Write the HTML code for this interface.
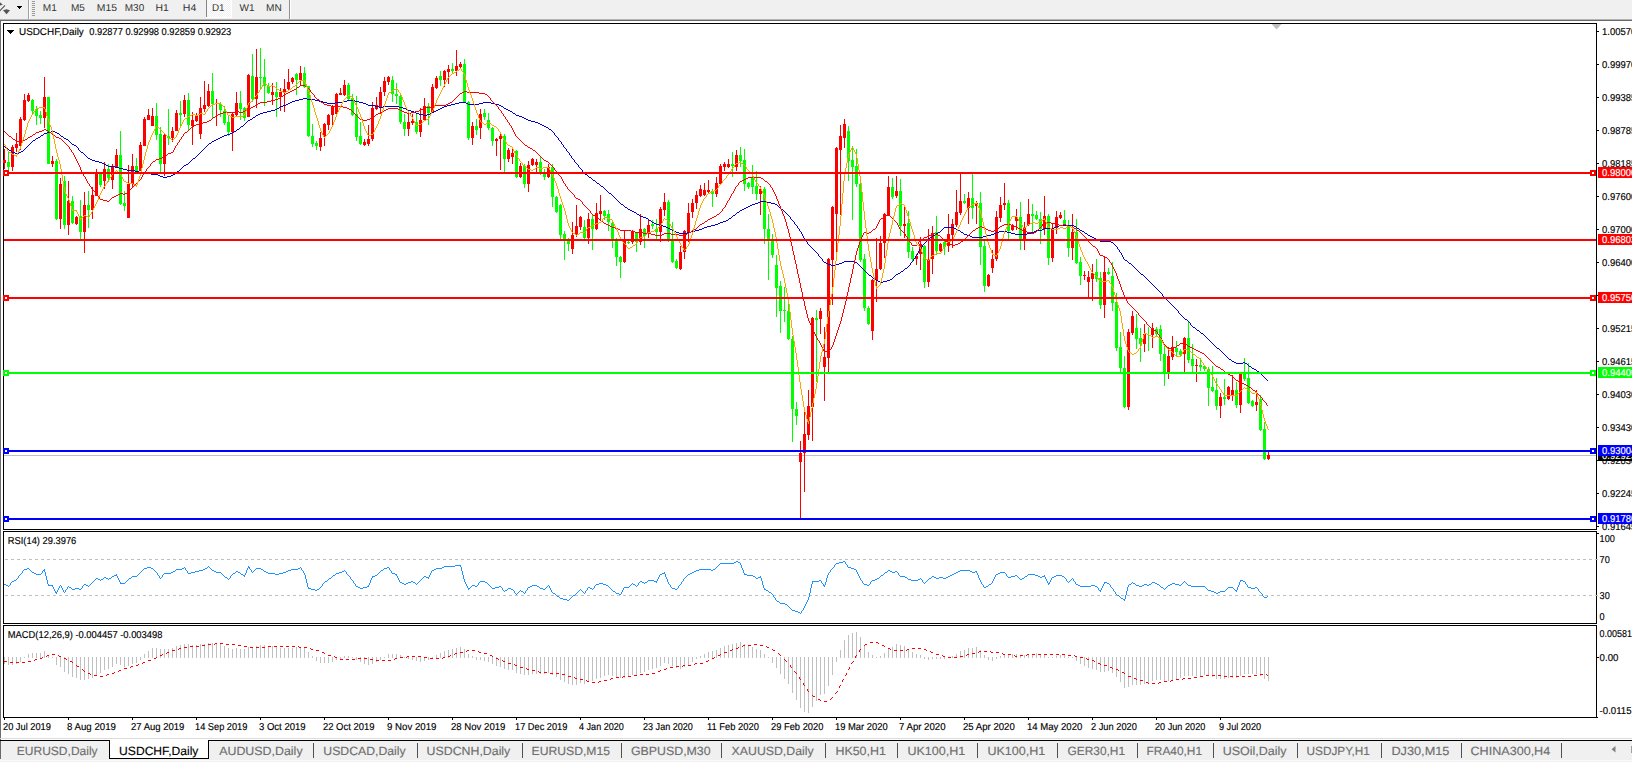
<!DOCTYPE html>
<html><head><meta charset="utf-8"><title>USDCHF,Daily</title>
<style>
html,body{margin:0;padding:0;background:#fff;overflow:hidden}
svg{display:block;font-family:"Liberation Sans",sans-serif;text-rendering:geometricPrecision}
</style></head><body>
<svg width="1632" height="762" viewBox="0 0 1632 762" shape-rendering="crispEdges">
<rect width="1632" height="762" fill="#fff"/>
<rect x="0" y="0" width="1632" height="19" fill="#f0f0f0"/>
<rect x="0" y="19" width="1632" height="1" fill="#b4b4b4"/>
<rect x="0" y="20" width="1632" height="1" fill="#696969"/>
<rect x="0" y="21" width="1" height="719" fill="#6e6e6e"/>
<g fill="#555" shape-rendering="geometricPrecision"><path d="M0 2.2 L2.8 4.8 L0 5.5Z"/><path d="M-1 10.8 L4.6 5 L5.4 5.8 L-0.2 11.6Z"/><path d="M3 10.2 L6.5 9.2 L10 10.2 L6.5 14.2Z"/></g>
<path d="M17 6h5v1h-1v1h-1v1h-1v-1h-1v-1h-1z" fill="#000"/>
<rect x="28" y="0" width="1" height="19" fill="#a0a0a0"/>
<rect x="29" y="0" width="1" height="19" fill="#fff"/>
<rect x="32" y="1" width="3" height="1" fill="#9c9c9c"/>
<rect x="32" y="3" width="3" height="1" fill="#9c9c9c"/>
<rect x="32" y="5" width="3" height="1" fill="#9c9c9c"/>
<rect x="32" y="7" width="3" height="1" fill="#9c9c9c"/>
<rect x="32" y="9" width="3" height="1" fill="#9c9c9c"/>
<rect x="32" y="11" width="3" height="1" fill="#9c9c9c"/>
<rect x="32" y="13" width="3" height="1" fill="#9c9c9c"/>
<rect x="32" y="15" width="3" height="1" fill="#9c9c9c"/>
<defs><pattern id="chk" width="2" height="2" patternUnits="userSpaceOnUse"><rect width="2" height="2" fill="#f0f0f0"/><rect width="1" height="1" fill="#fff"/><rect x="1" y="1" width="1" height="1" fill="#fff"/></pattern></defs>
<rect x="207" y="0" width="24" height="17" fill="url(#chk)"/>
<rect x="206" y="0" width="1" height="17" fill="#868686"/>
<rect x="231" y="0" width="1" height="18" fill="#fff"/>
<rect x="206" y="17" width="26" height="1" fill="#fff"/>
<rect x="289" y="0" width="1" height="19" fill="#909090"/>
<rect x="290" y="0" width="1" height="19" fill="#fff"/>
<text x="42.8" y="11" font-size="10" fill="#333" textLength="14.0" lengthAdjust="spacingAndGlyphs">M1</text>
<text x="70.9" y="11" font-size="10" fill="#333" textLength="13.9" lengthAdjust="spacingAndGlyphs">M5</text>
<text x="96.8" y="11" font-size="10" fill="#333" textLength="20.2" lengthAdjust="spacingAndGlyphs">M15</text>
<text x="124.8" y="11" font-size="10" fill="#333" textLength="19.4" lengthAdjust="spacingAndGlyphs">M30</text>
<text x="155.6" y="11" font-size="10" fill="#333" textLength="13.3" lengthAdjust="spacingAndGlyphs">H1</text>
<text x="182.8" y="11" font-size="10" fill="#333" textLength="13.5" lengthAdjust="spacingAndGlyphs">H4</text>
<text x="212.0" y="11" font-size="10" fill="#333" textLength="12.6" lengthAdjust="spacingAndGlyphs">D1</text>
<text x="239.5" y="11" font-size="10" fill="#333" textLength="15.0" lengthAdjust="spacingAndGlyphs">W1</text>
<text x="266.1" y="11" font-size="10" fill="#333" textLength="15.7" lengthAdjust="spacingAndGlyphs">MN</text>
<rect x="3" y="23" width="1594" height="1" fill="#000"/>
<rect x="3" y="529" width="1594" height="1" fill="#000"/>
<rect x="3" y="23" width="1" height="507" fill="#000"/>
<rect x="1596" y="23" width="1" height="507" fill="#000"/>
<rect x="3" y="531" width="1594" height="1" fill="#000"/>
<rect x="3" y="623" width="1594" height="1" fill="#000"/>
<rect x="3" y="531" width="1" height="93" fill="#000"/>
<rect x="1596" y="531" width="1" height="93" fill="#000"/>
<rect x="3" y="625" width="1594" height="1" fill="#000"/>
<rect x="3" y="717" width="1594" height="1" fill="#000"/>
<rect x="3" y="625" width="1" height="93" fill="#000"/>
<rect x="1596" y="625" width="1" height="93" fill="#000"/>
<rect x="1597" y="717" width="1" height="1" fill="#000"/>
<path d="M1271.6 24h10l-5 5.5z" fill="#c0c0c0" shape-rendering="geometricPrecision"/>
<rect x="4" y="455" width="1592" height="1" fill="#c0c0c0"/>
<path d="M8 152h1v19h-1zM7 162h3v5h-3zM32 99h1v15h-1zM31 100h3v11h-3zM36 106h1v19h-1zM35 109h3v7h-3zM40 111h1v13h-1zM39 115h3v3h-3zM48 97h1v67h-1zM47 97h3v67h-3zM56 159h1v61h-1zM55 161h3v58h-3zM64 176h1v53h-1zM63 181h3v44h-3zM72 196h1v28h-1zM71 201h3v22h-3zM80 200h1v40h-1zM79 216h3v16h-3zM88 191h1v37h-1zM87 205h3v5h-3zM100 173h1v14h-1zM99 174h3v11h-3zM108 164h1v18h-1zM107 169h3v9h-3zM120 131h1v74h-1zM119 155h3v49h-3zM124 191h1v20h-1zM123 203h3v3h-3zM136 158h1v14h-1zM135 166h3v5h-3zM156 103h1v37h-1zM155 116h3v19h-3zM160 127h1v45h-1zM159 134h3v30h-3zM168 109h1v36h-1zM167 136h3v2h-3zM180 101h1v25h-1zM179 113h3v2h-3zM188 93h1v37h-1zM187 100h3v25h-3zM212 73h1v45h-1zM211 91h3v13h-3zM220 102h1v15h-1zM219 104h3v6h-3zM224 106h1v19h-1zM223 111h3v12h-3zM228 115h1v21h-1zM227 122h3v10h-3zM240 91h1v29h-1zM239 103h3v6h-3zM244 107h1v14h-1zM243 108h3v10h-3zM252 54h1v48h-1zM251 76h3v23h-3zM260 48h1v41h-1zM259 77h3v1h-3zM264 59h1v47h-1zM263 77h3v9h-3zM268 83h1v11h-1zM267 86h3v7h-3zM276 82h1v35h-1zM275 92h3v5h-3zM296 73h1v22h-1zM295 74h3v6h-3zM304 67h1v21h-1zM303 73h3v14h-3zM308 86h1v51h-1zM307 86h3v50h-3zM312 124h1v23h-1zM311 136h3v8h-3zM316 141h1v9h-1zM315 143h3v3h-3zM348 83h1v17h-1zM347 85h3v14h-3zM352 94h1v22h-1zM351 98h3v17h-3zM356 96h1v45h-1zM355 114h3v23h-3zM360 122h1v23h-1zM359 136h3v8h-3zM392 76h1v26h-1zM391 80h3v14h-3zM396 83h1v21h-1zM395 94h3v2h-3zM400 95h1v29h-1zM399 96h3v26h-3zM404 114h1v22h-1zM403 122h3v7h-3zM416 114h1v20h-1zM415 122h3v10h-3zM428 103h1v22h-1zM427 106h3v7h-3zM440 71h1v15h-1zM439 76h3v4h-3zM452 63h1v10h-1zM451 69h3v2h-3zM464 59h1v44h-1zM463 64h3v38h-3zM468 101h1v39h-1zM467 102h3v36h-3zM476 119h1v16h-1zM475 126h3v4h-3zM484 109h1v11h-1zM483 113h3v4h-3zM488 113h1v17h-1zM487 120h3v8h-3zM492 127h1v19h-1zM491 128h3v13h-3zM504 134h1v38h-1zM503 136h3v23h-3zM516 150h1v28h-1zM515 151h3v26h-3zM524 164h1v24h-1zM523 166h3v18h-3zM540 157h1v18h-1zM539 162h3v10h-3zM544 169h1v11h-1zM543 172h3v5h-3zM552 164h1v43h-1zM551 167h3v30h-3zM556 196h1v17h-1zM555 197h3v15h-3zM560 204h1v35h-1zM559 205h3v30h-3zM564 231h1v29h-1zM563 234h3v5h-3zM568 238h1v13h-1zM567 239h3v5h-3zM584 220h1v19h-1zM583 227h3v11h-3zM592 215h1v35h-1zM591 219h3v10h-3zM604 210h1v10h-1zM603 211h3v5h-3zM608 210h1v21h-1zM607 214h3v8h-3zM612 221h1v27h-1zM611 223h3v16h-3zM616 238h1v28h-1zM615 241h3v16h-3zM620 256h1v22h-1zM619 257h3v5h-3zM628 241h1v3h-1zM627 242h3v1h-3zM636 232h1v20h-1zM635 233h3v9h-3zM644 228h1v20h-1zM643 229h3v7h-3zM652 220h1v9h-1zM651 224h3v2h-3zM656 219h1v20h-1zM655 229h3v3h-3zM668 200h1v42h-1zM667 202h3v37h-3zM672 222h1v41h-1zM671 240h3v22h-3zM676 259h1v10h-1zM675 261h3v7h-3zM712 189h1v18h-1zM711 191h3v3h-3zM732 152h1v25h-1zM731 164h3v2h-3zM740 147h1v20h-1zM739 155h3v6h-3zM744 149h1v42h-1zM743 160h3v24h-3zM748 182h1v7h-1zM747 183h3v4h-3zM752 165h1v29h-1zM751 177h3v10h-3zM756 171h1v29h-1zM755 186h3v8h-3zM764 187h1v57h-1zM763 189h3v40h-3zM768 214h1v66h-1zM767 229h3v10h-3zM772 234h1v24h-1zM771 240h3v15h-3zM776 255h1v62h-1zM775 265h3v23h-3zM780 281h1v52h-1zM779 286h3v25h-3zM784 287h1v35h-1zM783 310h3v1h-3zM788 304h1v36h-1zM787 311h3v28h-3zM792 336h1v106h-1zM791 339h3v70h-3zM796 402h1v23h-1zM795 409h3v7h-3zM816 310h1v72h-1zM815 318h3v2h-3zM848 126h1v55h-1zM847 131h3v30h-3zM852 146h1v74h-1zM851 160h3v7h-3zM856 149h1v38h-1zM855 166h3v18h-3zM860 183h1v79h-1zM859 184h3v76h-3zM864 254h1v57h-1zM863 259h3v49h-3zM868 306h1v19h-1zM867 308h3v16h-3zM892 178h1v21h-1zM891 187h3v10h-3zM900 179h1v57h-1zM899 191h3v35h-3zM908 211h1v47h-1zM907 223h3v29h-3zM912 247h1v14h-1zM911 251h3v8h-3zM924 245h1v43h-1zM923 246h3v36h-3zM936 216h1v39h-1zM935 232h3v19h-3zM944 241h1v14h-1zM943 242h3v5h-3zM964 194h1v10h-1zM963 201h3v2h-3zM972 174h1v45h-1zM971 198h3v10h-3zM980 192h1v73h-1zM979 203h3v44h-3zM984 241h1v51h-1zM983 246h3v40h-3zM1008 200h1v39h-1zM1007 203h3v28h-3zM1020 202h1v48h-1zM1019 217h3v22h-3zM1032 204h1v28h-1zM1031 214h3v2h-3zM1036 211h1v9h-1zM1035 215h3v4h-3zM1040 212h1v32h-1zM1039 219h3v10h-3zM1048 214h1v51h-1zM1047 216h3v42h-3zM1064 210h1v16h-1zM1063 220h3v5h-3zM1068 220h1v37h-1zM1067 225h3v23h-3zM1076 219h1v45h-1zM1075 232h3v31h-3zM1080 257h1v28h-1zM1079 262h3v14h-3zM1096 259h1v23h-1zM1095 272h3v7h-3zM1100 272h1v37h-1zM1099 278h3v27h-3zM1108 268h1v7h-1zM1107 272h3v2h-3zM1112 262h1v49h-1zM1111 276h3v27h-3zM1116 293h1v58h-1zM1115 302h3v46h-3zM1120 332h1v40h-1zM1119 347h3v21h-3zM1124 356h1v52h-1zM1123 368h3v39h-3zM1136 314h1v35h-1zM1135 328h3v11h-3zM1140 328h1v34h-1zM1139 338h3v6h-3zM1148 327h1v24h-1zM1156 327h1v9h-1zM1155 329h3v5h-3zM1160 325h1v36h-1zM1159 329h3v25h-3zM1164 346h1v40h-1zM1163 354h3v20h-3zM1176 341h1v15h-1zM1175 348h3v4h-3zM1180 349h1v7h-1zM1179 351h3v4h-3zM1188 322h1v41h-1zM1187 338h3v22h-3zM1192 344h1v28h-1zM1191 359h3v7h-3zM1200 358h1v13h-1zM1199 365h3v2h-3zM1204 365h1v6h-1zM1203 366h3v3h-3zM1208 367h1v39h-1zM1207 369h3v19h-3zM1212 366h1v26h-1zM1211 387h3v4h-3zM1216 378h1v32h-1zM1215 390h3v16h-3zM1224 379h1v26h-1zM1223 397h3v2h-3zM1236 382h1v26h-1zM1235 390h3v15h-3zM1244 358h1v23h-1zM1243 374h3v5h-3zM1248 363h1v41h-1zM1247 378h3v25h-3zM1252 400h1v7h-1zM1251 401h3v5h-3zM1260 395h1v36h-1zM1259 399h3v31h-3zM1264 422h1v38h-1zM1263 429h3v30h-3z" fill="#00ff00"/>
<path d="M4 149h1v20h-1zM3 160h3v3h-3zM12 145h1v26h-1zM11 147h3v20h-3zM16 133h1v19h-1zM15 144h3v4h-3zM20 117h1v33h-1zM19 119h3v27h-3zM24 94h1v27h-1zM23 100h3v20h-3zM28 93h1v9h-1zM27 95h3v6h-3zM44 77h1v51h-1zM43 97h3v21h-3zM52 156h1v11h-1zM51 161h3v3h-3zM60 178h1v51h-1zM59 184h3v35h-3zM68 181h1v54h-1zM67 201h3v24h-3zM76 216h1v9h-1zM75 217h3v7h-3zM84 192h1v61h-1zM83 205h3v27h-3zM92 187h1v32h-1zM91 195h3v15h-3zM96 169h1v27h-1zM95 173h3v23h-3zM104 162h1v27h-1zM103 169h3v12h-3zM112 164h1v25h-1zM111 167h3v13h-3zM116 149h1v19h-1zM115 155h3v13h-3zM128 165h1v53h-1zM127 184h3v34h-3zM132 154h1v33h-1zM131 166h3v18h-3zM140 142h1v29h-1zM139 145h3v26h-3zM144 117h1v29h-1zM143 119h3v27h-3zM148 109h1v11h-1zM147 115h3v5h-3zM152 108h1v18h-1zM151 116h3v10h-3zM164 134h1v42h-1zM163 135h3v29h-3zM172 127h1v15h-1zM171 131h3v7h-3zM176 110h1v21h-1zM175 113h3v18h-3zM184 95h1v22h-1zM183 100h3v14h-3zM192 112h1v33h-1zM191 120h3v6h-3zM196 113h1v9h-1zM195 115h3v6h-3zM200 97h1v42h-1zM199 108h3v26h-3zM204 81h1v31h-1zM203 105h3v4h-3zM208 84h1v23h-1zM207 91h3v15h-3zM216 99h1v27h-1zM232 113h1v38h-1zM231 114h3v18h-3zM236 92h1v24h-1zM235 103h3v12h-3zM248 74h1v43h-1zM247 75h3v42h-3zM256 49h1v59h-1zM255 77h3v22h-3zM272 83h1v22h-1zM271 92h3v3h-3zM280 88h1v23h-1zM279 92h3v5h-3zM284 79h1v33h-1zM283 89h3v3h-3zM288 69h1v22h-1zM287 82h3v7h-3zM292 77h1v7h-1zM291 78h3v4h-3zM300 66h1v19h-1zM299 73h3v7h-3zM320 132h1v19h-1zM319 138h3v9h-3zM324 123h1v23h-1zM323 124h3v13h-3zM328 114h1v16h-1zM327 115h3v10h-3zM332 105h1v20h-1zM331 106h3v9h-3zM336 93h1v21h-1zM335 94h3v20h-3zM340 88h1v7h-1zM339 93h3v2h-3zM344 80h1v16h-1zM343 85h3v10h-3zM364 139h1v7h-1zM363 142h3v3h-3zM368 125h1v21h-1zM367 139h3v5h-3zM372 102h1v39h-1zM371 108h3v31h-3zM376 97h1v13h-1zM375 105h3v4h-3zM380 87h1v27h-1zM379 92h3v16h-3zM384 77h1v19h-1zM383 81h3v11h-3zM388 76h1v9h-1zM387 77h3v5h-3zM408 113h1v23h-1zM407 122h3v7h-3zM412 114h1v11h-1zM411 121h3v2h-3zM420 108h1v29h-1zM419 120h3v12h-3zM424 98h1v23h-1zM423 106h3v14h-3zM432 84h1v29h-1zM431 87h3v25h-3zM436 76h1v13h-1zM435 78h3v10h-3zM444 70h1v17h-1zM443 71h3v9h-3zM448 65h1v19h-1zM447 69h3v3h-3zM456 50h1v26h-1zM455 66h3v5h-3zM460 62h1v6h-1zM459 64h3v3h-3zM472 122h1v23h-1zM471 126h3v12h-3zM480 109h1v30h-1zM479 114h3v14h-3zM496 138h1v18h-1zM495 139h3v2h-3zM500 134h1v36h-1zM499 136h3v3h-3zM508 148h1v14h-1zM507 150h3v9h-3zM512 149h1v15h-1zM511 153h3v4h-3zM520 163h1v15h-1zM519 166h3v11h-3zM528 161h1v31h-1zM527 165h3v19h-3zM532 158h1v8h-1zM531 159h3v6h-3zM536 159h1v13h-1zM535 162h3v3h-3zM548 164h1v14h-1zM547 167h3v10h-3zM572 222h1v32h-1zM571 235h3v14h-3zM576 205h1v32h-1zM575 226h3v8h-3zM580 216h1v14h-1zM579 217h3v10h-3zM588 213h1v31h-1zM587 219h3v19h-3zM596 203h1v27h-1zM595 213h3v16h-3zM600 195h1v25h-1zM599 211h3v3h-3zM624 231h1v32h-1zM623 241h3v21h-3zM632 230h1v14h-1zM631 232h3v10h-3zM640 214h1v31h-1zM639 229h3v13h-3zM648 220h1v18h-1zM647 225h3v9h-3zM660 207h1v35h-1zM659 209h3v23h-3zM664 193h1v23h-1zM663 202h3v8h-3zM680 246h1v24h-1zM679 252h3v17h-3zM684 230h1v29h-1zM683 231h3v21h-3zM688 203h1v39h-1zM687 213h3v19h-3zM692 199h1v19h-1zM691 203h3v9h-3zM696 191h1v18h-1zM695 195h3v8h-3zM700 185h1v12h-1zM699 189h3v7h-3zM704 183h1v13h-1zM703 190h3v5h-3zM708 180h1v13h-1zM707 190h3v2h-3zM716 177h1v20h-1zM715 183h3v11h-3zM720 164h1v21h-1zM719 166h3v18h-3zM724 162h1v9h-1zM723 164h3v3h-3zM728 159h1v9h-1zM727 164h3v3h-3zM736 150h1v21h-1zM735 155h3v12h-3zM760 186h1v29h-1zM759 189h3v5h-3zM800 441h1v77h-1zM799 453h3v9h-3zM804 412h1v80h-1zM803 434h3v19h-3zM808 390h1v50h-1zM807 406h3v29h-3zM812 317h1v124h-1zM811 318h3v89h-3zM820 308h1v26h-1zM819 311h3v8h-3zM824 327h1v74h-1zM823 357h3v10h-3zM828 258h1v114h-1zM827 259h3v99h-3zM832 206h1v99h-1zM831 207h3v53h-3zM836 147h1v107h-1zM835 148h3v66h-3zM840 125h1v90h-1zM839 136h3v14h-3zM844 119h1v29h-1zM843 124h3v14h-3zM872 279h1v61h-1zM871 280h3v51h-3zM876 238h1v64h-1zM875 269h3v11h-3zM880 236h1v34h-1zM879 243h3v26h-3zM884 213h1v45h-1zM883 214h3v29h-3zM888 176h1v40h-1zM887 187h3v28h-3zM896 176h1v22h-1zM895 191h3v5h-3zM904 207h1v31h-1zM903 224h3v2h-3zM916 254h1v11h-1zM915 256h3v3h-3zM920 237h1v33h-1zM919 244h3v10h-3zM928 229h1v58h-1zM927 259h3v23h-3zM932 226h1v48h-1zM931 233h3v26h-3zM940 243h1v9h-1zM939 244h3v7h-3zM948 214h1v38h-1zM947 234h3v12h-3zM952 219h1v29h-1zM951 224h3v11h-3zM956 190h1v37h-1zM955 212h3v13h-3zM960 174h1v41h-1zM959 201h3v12h-3zM968 192h1v32h-1zM967 198h3v10h-3zM976 201h1v23h-1zM975 203h3v3h-3zM988 274h1v13h-1zM987 275h3v11h-3zM992 250h1v23h-1zM991 259h3v9h-3zM996 211h1v50h-1zM995 217h3v42h-3zM1000 197h1v25h-1zM999 205h3v13h-3zM1004 183h1v27h-1zM1003 203h3v2h-3zM1012 224h1v7h-1zM1011 225h3v5h-3zM1016 209h1v21h-1zM1015 217h3v4h-3zM1024 222h1v28h-1zM1023 228h3v11h-3zM1028 199h1v27h-1zM1027 214h3v11h-3zM1044 196h1v39h-1zM1043 216h3v13h-3zM1052 223h1v39h-1zM1051 228h3v30h-3zM1056 211h1v23h-1zM1055 217h3v11h-3zM1060 212h1v7h-1zM1059 215h3v3h-3zM1072 214h1v46h-1zM1071 232h3v16h-3zM1084 271h1v9h-1zM1083 275h3v1h-3zM1088 271h1v27h-1zM1087 277h3v5h-3zM1092 264h1v37h-1zM1091 273h3v6h-3zM1104 257h1v61h-1zM1103 272h3v33h-3zM1128 329h1v81h-1zM1127 332h3v75h-3zM1132 311h1v24h-1zM1131 316h3v17h-3zM1144 324h1v28h-1zM1143 334h3v10h-3zM1152 323h1v25h-1zM1151 328h3v7h-3zM1168 347h1v32h-1zM1167 356h3v18h-3zM1172 336h1v24h-1zM1171 347h3v10h-3zM1184 337h1v35h-1zM1183 338h3v16h-3zM1196 359h1v23h-1zM1195 365h3v1h-3zM1220 393h1v25h-1zM1219 397h3v9h-3zM1228 386h1v14h-1zM1227 387h3v12h-3zM1232 375h1v26h-1zM1231 390h3v5h-3zM1240 373h1v40h-1zM1239 374h3v31h-3zM1256 390h1v21h-1zM1255 402h3v3h-3zM1268 452h1v8h-1zM1267 455h3v4h-3z" fill="#ff0000"/>
<path d="M4 146h1v1h-1zM5 147h1v1h-1zM6 147h1v1h-1zM7 148h1v1h-1zM8 149h1v1h-1zM9 150h1v1h-1zM10 150h1v1h-1zM11 151h1v1h-1zM12 152h1v1h-1zM13 152h1v1h-1zM14 152h1v1h-1zM15 153h1v1h-1zM16 153h1v1h-1zM17 153h1v1h-1zM18 153h1v1h-1zM19 152h1v1h-1zM20 152h1v1h-1zM21 151h1v1h-1zM22 151h1v1h-1zM23 150h1v1h-1zM24 149h1v1h-1zM25 148h1v1h-1zM26 147h1v1h-1zM27 146h1v1h-1zM28 145h1v1h-1zM29 144h1v1h-1zM30 143h1v1h-1zM31 142h1v1h-1zM32 141h1v1h-1zM33 140h1v1h-1zM34 140h1v1h-1zM35 139h1v1h-1zM36 138h1v1h-1zM37 138h1v1h-1zM38 137h1v1h-1zM39 137h1v1h-1zM40 136h1v1h-1zM41 135h1v1h-1zM42 135h1v1h-1zM43 134h1v1h-1zM44 133h1v1h-1zM45 133h1v1h-1zM46 133h1v1h-1zM47 132h1v1h-1zM48 132h1v1h-1zM49 132h1v1h-1zM50 132h1v1h-1zM51 131h1v1h-1zM52 131h1v1h-1zM53 131h1v1h-1zM54 131h1v1h-1zM55 132h1v1h-1zM56 132h1v1h-1zM57 133h1v1h-1zM58 133h1v1h-1zM59 134h1v1h-1zM60 135h1v1h-1zM61 136h1v1h-1zM62 136h1v1h-1zM63 137h1v1h-1zM64 138h1v1h-1zM65 138h1v1h-1zM66 139h1v1h-1zM67 139h1v1h-1zM68 140h1v1h-1zM69 141h1v1h-1zM70 142h1v1h-1zM71 143h1v1h-1zM72 144h1v1h-1zM73 144h1v1h-1zM74 145h1v1h-1zM75 145h1v1h-1zM76 146h1v1h-1zM77 147h1v1h-1zM78 148h1v2h-1zM79 150h1v1h-1zM80 151h1v1h-1zM81 152h1v1h-1zM82 152h1v1h-1zM83 153h1v1h-1zM84 154h1v1h-1zM85 155h1v1h-1zM86 156h1v1h-1zM87 157h1v1h-1zM88 158h1v1h-1zM89 158h1v1h-1zM90 159h1v1h-1zM91 159h1v1h-1zM92 160h1v1h-1zM93 160h1v1h-1zM94 160h1v1h-1zM95 161h1v1h-1zM96 161h1v1h-1zM97 161h1v1h-1zM98 161h1v1h-1zM99 162h1v1h-1zM100 162h1v1h-1zM101 162h1v1h-1zM102 163h1v1h-1zM103 163h1v1h-1zM104 164h1v1h-1zM105 164h1v1h-1zM106 165h1v1h-1zM107 165h1v1h-1zM108 166h1v1h-1zM109 166h1v1h-1zM110 166h1v1h-1zM111 166h1v1h-1zM112 166h1v1h-1zM113 166h1v1h-1zM114 166h1v1h-1zM115 167h1v1h-1zM116 167h1v1h-1zM117 167h1v1h-1zM118 167h1v1h-1zM119 168h1v1h-1zM120 168h1v1h-1zM121 168h1v1h-1zM122 168h1v1h-1zM123 169h1v1h-1zM124 169h1v1h-1zM125 169h1v1h-1zM126 169h1v1h-1zM127 170h1v1h-1zM128 170h1v1h-1zM129 170h1v1h-1zM130 170h1v1h-1zM131 170h1v1h-1zM132 170h1v1h-1zM133 170h1v1h-1zM134 170h1v1h-1zM135 171h1v1h-1zM136 171h1v1h-1zM137 171h1v1h-1zM138 171h1v1h-1zM139 172h1v1h-1zM140 172h1v1h-1zM141 172h1v1h-1zM142 172h1v1h-1zM143 173h1v1h-1zM144 173h1v1h-1zM145 173h1v1h-1zM146 173h1v1h-1zM147 173h1v1h-1zM148 173h1v1h-1zM149 173h1v1h-1zM150 173h1v1h-1zM151 174h1v1h-1zM152 174h1v1h-1zM153 174h1v1h-1zM154 174h1v1h-1zM155 174h1v1h-1zM156 174h1v1h-1zM157 174h1v1h-1zM158 175h1v1h-1zM159 175h1v1h-1zM160 176h1v1h-1zM161 176h1v1h-1zM162 176h1v1h-1zM163 177h1v1h-1zM164 177h1v1h-1zM165 177h1v1h-1zM166 177h1v1h-1zM167 176h1v1h-1zM168 176h1v1h-1zM169 176h1v1h-1zM170 176h1v1h-1zM171 175h1v1h-1zM172 175h1v1h-1zM173 174h1v1h-1zM174 174h1v1h-1zM175 173h1v1h-1zM176 172h1v1h-1zM177 171h1v1h-1zM178 171h1v1h-1zM179 170h1v1h-1zM180 169h1v1h-1zM181 168h1v1h-1zM182 167h1v1h-1zM183 166h1v1h-1zM184 165h1v1h-1zM185 165h1v1h-1zM186 164h1v1h-1zM187 164h1v1h-1zM188 163h1v1h-1zM189 162h1v1h-1zM190 161h1v1h-1zM191 160h1v1h-1zM192 159h1v1h-1zM193 158h1v1h-1zM194 158h1v1h-1zM195 157h1v1h-1zM196 156h1v1h-1zM197 155h1v1h-1zM198 154h1v1h-1zM199 153h1v1h-1zM200 152h1v1h-1zM201 151h1v1h-1zM202 150h1v1h-1zM203 149h1v1h-1zM204 148h1v1h-1zM205 147h1v1h-1zM206 146h1v1h-1zM207 145h1v1h-1zM208 144h1v1h-1zM209 143h1v1h-1zM210 143h1v1h-1zM211 142h1v1h-1zM212 141h1v1h-1zM213 141h1v1h-1zM214 140h1v1h-1zM215 140h1v1h-1zM216 139h1v1h-1zM217 139h1v1h-1zM218 138h1v1h-1zM219 138h1v1h-1zM220 137h1v1h-1zM221 137h1v1h-1zM222 136h1v1h-1zM223 136h1v1h-1zM224 135h1v1h-1zM225 135h1v1h-1zM226 135h1v1h-1zM227 134h1v1h-1zM228 134h1v1h-1zM229 134h1v1h-1zM230 133h1v1h-1zM231 133h1v1h-1zM232 132h1v1h-1zM233 132h1v1h-1zM234 131h1v1h-1zM235 131h1v1h-1zM236 130h1v1h-1zM237 129h1v1h-1zM238 129h1v1h-1zM239 128h1v1h-1zM240 127h1v1h-1zM241 126h1v1h-1zM242 126h1v1h-1zM243 125h1v1h-1zM244 124h1v1h-1zM245 123h1v1h-1zM246 122h1v1h-1zM247 121h1v1h-1zM248 120h1v1h-1zM249 120h1v1h-1zM250 119h1v1h-1zM251 119h1v1h-1zM252 118h1v1h-1zM253 117h1v1h-1zM254 117h1v1h-1zM255 116h1v1h-1zM256 115h1v1h-1zM257 115h1v1h-1zM258 114h1v1h-1zM259 114h1v1h-1zM260 113h1v1h-1zM261 113h1v1h-1zM262 113h1v1h-1zM263 112h1v1h-1zM264 112h1v1h-1zM265 112h1v1h-1zM266 112h1v1h-1zM267 111h1v1h-1zM268 111h1v1h-1zM269 111h1v1h-1zM270 111h1v1h-1zM271 110h1v1h-1zM272 110h1v1h-1zM273 110h1v1h-1zM274 110h1v1h-1zM275 109h1v1h-1zM276 109h1v1h-1zM277 108h1v1h-1zM278 108h1v1h-1zM279 107h1v1h-1zM280 106h1v1h-1zM281 106h1v1h-1zM282 106h1v1h-1zM283 105h1v1h-1zM284 105h1v1h-1zM285 105h1v1h-1zM286 104h1v1h-1zM287 104h1v1h-1zM288 103h1v1h-1zM289 103h1v1h-1zM290 102h1v1h-1zM291 102h1v1h-1zM292 101h1v1h-1zM293 101h1v1h-1zM294 101h1v1h-1zM295 100h1v1h-1zM296 100h1v1h-1zM297 100h1v1h-1zM298 100h1v1h-1zM299 99h1v1h-1zM300 99h1v1h-1zM301 99h1v1h-1zM302 99h1v1h-1zM303 98h1v1h-1zM304 98h1v1h-1zM305 98h1v1h-1zM306 98h1v1h-1zM307 99h1v1h-1zM308 99h1v1h-1zM309 99h1v1h-1zM310 99h1v1h-1zM311 99h1v1h-1zM312 99h1v1h-1zM313 99h1v1h-1zM314 99h1v1h-1zM315 100h1v1h-1zM316 100h1v1h-1zM317 100h1v1h-1zM318 100h1v1h-1zM319 101h1v1h-1zM320 101h1v1h-1zM321 101h1v1h-1zM322 101h1v1h-1zM323 102h1v1h-1zM324 102h1v1h-1zM325 102h1v1h-1zM326 102h1v1h-1zM327 103h1v1h-1zM328 103h1v1h-1zM329 103h1v1h-1zM330 103h1v1h-1zM331 103h1v1h-1zM332 103h1v1h-1zM333 103h1v1h-1zM334 103h1v1h-1zM335 102h1v1h-1zM336 102h1v1h-1zM337 102h1v1h-1zM338 102h1v1h-1zM339 102h1v1h-1zM340 102h1v1h-1zM341 102h1v1h-1zM342 102h1v1h-1zM343 101h1v1h-1zM344 101h1v1h-1zM345 101h1v1h-1zM346 101h1v1h-1zM347 100h1v1h-1zM348 100h1v1h-1zM349 100h1v1h-1zM350 100h1v1h-1zM351 100h1v1h-1zM352 100h1v1h-1zM353 100h1v1h-1zM354 100h1v1h-1zM355 101h1v1h-1zM356 101h1v1h-1zM357 101h1v1h-1zM358 101h1v1h-1zM359 102h1v1h-1zM360 102h1v1h-1zM361 102h1v1h-1zM362 102h1v1h-1zM363 103h1v1h-1zM364 103h1v1h-1zM365 103h1v1h-1zM366 104h1v1h-1zM367 104h1v1h-1zM368 105h1v1h-1zM369 105h1v1h-1zM370 105h1v1h-1zM371 105h1v1h-1zM372 105h1v1h-1zM373 105h1v1h-1zM374 105h1v1h-1zM375 106h1v1h-1zM376 106h1v1h-1zM377 106h1v1h-1zM378 106h1v1h-1zM379 107h1v1h-1zM380 107h1v1h-1zM381 107h1v1h-1zM382 107h1v1h-1zM383 106h1v1h-1zM384 106h1v1h-1zM385 106h1v1h-1zM386 106h1v1h-1zM387 106h1v1h-1zM388 106h1v1h-1zM389 106h1v1h-1zM390 106h1v1h-1zM391 106h1v1h-1zM392 106h1v1h-1zM393 106h1v1h-1zM394 106h1v1h-1zM395 106h1v1h-1zM396 106h1v1h-1zM397 106h1v1h-1zM398 106h1v1h-1zM399 107h1v1h-1zM400 107h1v1h-1zM401 107h1v1h-1zM402 107h1v1h-1zM403 108h1v1h-1zM404 108h1v1h-1zM405 108h1v1h-1zM406 109h1v1h-1zM407 109h1v1h-1zM408 110h1v1h-1zM409 110h1v1h-1zM410 110h1v1h-1zM411 111h1v1h-1zM412 111h1v1h-1zM413 111h1v1h-1zM414 112h1v1h-1zM415 112h1v1h-1zM416 113h1v1h-1zM417 113h1v1h-1zM418 113h1v1h-1zM419 114h1v1h-1zM420 114h1v1h-1zM421 114h1v1h-1zM422 114h1v1h-1zM423 115h1v1h-1zM424 115h1v1h-1zM425 115h1v1h-1zM426 115h1v1h-1zM427 114h1v1h-1zM428 114h1v1h-1zM429 114h1v1h-1zM430 113h1v1h-1zM431 113h1v1h-1zM432 112h1v1h-1zM433 112h1v1h-1zM434 111h1v1h-1zM435 111h1v1h-1zM436 110h1v1h-1zM437 110h1v1h-1zM438 109h1v1h-1zM439 109h1v1h-1zM440 108h1v1h-1zM441 108h1v1h-1zM442 107h1v1h-1zM443 107h1v1h-1zM444 106h1v1h-1zM445 106h1v1h-1zM446 106h1v1h-1zM447 105h1v1h-1zM448 105h1v1h-1zM449 105h1v1h-1zM450 105h1v1h-1zM451 104h1v1h-1zM452 104h1v1h-1zM453 104h1v1h-1zM454 104h1v1h-1zM455 103h1v1h-1zM456 103h1v1h-1zM457 103h1v1h-1zM458 103h1v1h-1zM459 102h1v1h-1zM460 102h1v1h-1zM461 102h1v1h-1zM462 102h1v1h-1zM463 102h1v1h-1zM464 102h1v1h-1zM465 102h1v1h-1zM466 103h1v1h-1zM467 103h1v1h-1zM468 104h1v1h-1zM469 104h1v1h-1zM470 104h1v1h-1zM471 104h1v1h-1zM472 104h1v1h-1zM473 104h1v1h-1zM474 104h1v1h-1zM475 104h1v1h-1zM476 104h1v1h-1zM477 104h1v1h-1zM478 104h1v1h-1zM479 103h1v1h-1zM480 103h1v1h-1zM481 103h1v1h-1zM482 103h1v1h-1zM483 102h1v1h-1zM484 102h1v1h-1zM485 102h1v1h-1zM486 102h1v1h-1zM487 102h1v1h-1zM488 102h1v1h-1zM489 102h1v1h-1zM490 102h1v1h-1zM491 103h1v1h-1zM492 103h1v1h-1zM493 103h1v1h-1zM494 103h1v1h-1zM495 104h1v1h-1zM496 104h1v1h-1zM497 104h1v1h-1zM498 104h1v1h-1zM499 105h1v1h-1zM500 105h1v1h-1zM501 106h1v1h-1zM502 106h1v1h-1zM503 107h1v1h-1zM504 108h1v1h-1zM505 108h1v1h-1zM506 109h1v1h-1zM507 109h1v1h-1zM508 110h1v1h-1zM509 110h1v1h-1zM510 111h1v1h-1zM511 111h1v1h-1zM512 112h1v1h-1zM513 113h1v1h-1zM514 113h1v1h-1zM515 114h1v1h-1zM516 115h1v1h-1zM517 115h1v1h-1zM518 115h1v1h-1zM519 116h1v1h-1zM520 116h1v1h-1zM521 116h1v1h-1zM522 117h1v1h-1zM523 117h1v1h-1zM524 118h1v1h-1zM525 118h1v1h-1zM526 119h1v1h-1zM527 119h1v1h-1zM528 120h1v1h-1zM529 120h1v1h-1zM530 120h1v1h-1zM531 121h1v1h-1zM532 121h1v1h-1zM533 121h1v1h-1zM534 121h1v1h-1zM535 122h1v1h-1zM536 122h1v1h-1zM537 122h1v1h-1zM538 123h1v1h-1zM539 123h1v1h-1zM540 124h1v1h-1zM541 124h1v1h-1zM542 125h1v1h-1zM543 125h1v1h-1zM544 126h1v1h-1zM545 126h1v1h-1zM546 127h1v1h-1zM547 127h1v1h-1zM548 128h1v1h-1zM549 129h1v1h-1zM550 129h1v1h-1zM551 130h1v1h-1zM552 131h1v1h-1zM553 132h1v1h-1zM554 133h1v2h-1zM555 135h1v1h-1zM556 136h1v1h-1zM557 137h1v1h-1zM558 138h1v2h-1zM559 140h1v1h-1zM560 141h1v1h-1zM561 142h1v2h-1zM562 144h1v1h-1zM563 145h1v2h-1zM564 147h1v1h-1zM565 148h1v1h-1zM566 149h1v2h-1zM567 151h1v1h-1zM568 152h1v1h-1zM569 153h1v2h-1zM570 155h1v1h-1zM571 156h1v2h-1zM572 158h1v1h-1zM573 159h1v1h-1zM574 160h1v2h-1zM575 162h1v1h-1zM576 163h1v1h-1zM577 164h1v1h-1zM578 165h1v2h-1zM579 167h1v1h-1zM580 168h1v1h-1zM581 169h1v1h-1zM582 170h1v2h-1zM583 172h1v1h-1zM584 173h1v1h-1zM585 174h1v1h-1zM586 174h1v1h-1zM587 175h1v1h-1zM588 176h1v1h-1zM589 177h1v1h-1zM590 177h1v1h-1zM591 178h1v1h-1zM592 179h1v1h-1zM593 180h1v1h-1zM594 180h1v1h-1zM595 181h1v1h-1zM596 182h1v1h-1zM597 183h1v1h-1zM598 183h1v1h-1zM599 184h1v1h-1zM600 185h1v1h-1zM601 186h1v1h-1zM602 186h1v1h-1zM603 187h1v1h-1zM604 188h1v1h-1zM605 189h1v1h-1zM606 190h1v1h-1zM607 191h1v1h-1zM608 192h1v1h-1zM609 193h1v1h-1zM610 193h1v1h-1zM611 194h1v1h-1zM612 195h1v1h-1zM613 196h1v1h-1zM614 197h1v1h-1zM615 198h1v1h-1zM616 199h1v1h-1zM617 200h1v1h-1zM618 201h1v1h-1zM619 202h1v1h-1zM620 203h1v1h-1zM621 204h1v1h-1zM622 204h1v1h-1zM623 205h1v1h-1zM624 206h1v1h-1zM625 207h1v1h-1zM626 207h1v1h-1zM627 208h1v1h-1zM628 209h1v1h-1zM629 209h1v1h-1zM630 210h1v1h-1zM631 210h1v1h-1zM632 211h1v1h-1zM633 211h1v1h-1zM634 212h1v1h-1zM635 212h1v1h-1zM636 213h1v1h-1zM637 214h1v1h-1zM638 214h1v1h-1zM639 215h1v1h-1zM640 216h1v1h-1zM641 216h1v1h-1zM642 216h1v1h-1zM643 217h1v1h-1zM644 217h1v1h-1zM645 217h1v1h-1zM646 218h1v1h-1zM647 218h1v1h-1zM648 219h1v1h-1zM649 220h1v1h-1zM650 220h1v1h-1zM651 221h1v1h-1zM652 222h1v1h-1zM653 222h1v1h-1zM654 223h1v1h-1zM655 223h1v1h-1zM656 224h1v1h-1zM657 224h1v1h-1zM658 224h1v1h-1zM659 225h1v1h-1zM660 225h1v1h-1zM661 225h1v1h-1zM662 225h1v1h-1zM663 226h1v1h-1zM664 226h1v1h-1zM665 226h1v1h-1zM666 227h1v1h-1zM667 227h1v1h-1zM668 228h1v1h-1zM669 228h1v1h-1zM670 229h1v1h-1zM671 229h1v1h-1zM672 230h1v1h-1zM673 230h1v1h-1zM674 231h1v1h-1zM675 231h1v1h-1zM676 232h1v1h-1zM677 232h1v1h-1zM678 232h1v1h-1zM679 233h1v1h-1zM680 233h1v1h-1zM681 233h1v1h-1zM682 233h1v1h-1zM683 233h1v1h-1zM684 233h1v1h-1zM685 233h1v1h-1zM686 233h1v1h-1zM687 232h1v1h-1zM688 232h1v1h-1zM689 232h1v1h-1zM690 232h1v1h-1zM691 231h1v1h-1zM692 231h1v1h-1zM693 231h1v1h-1zM694 231h1v1h-1zM695 230h1v1h-1zM696 230h1v1h-1zM697 230h1v1h-1zM698 230h1v1h-1zM699 229h1v1h-1zM700 229h1v1h-1zM701 229h1v1h-1zM702 228h1v1h-1zM703 228h1v1h-1zM704 227h1v1h-1zM705 227h1v1h-1zM706 227h1v1h-1zM707 226h1v1h-1zM708 226h1v1h-1zM709 226h1v1h-1zM710 226h1v1h-1zM711 225h1v1h-1zM712 225h1v1h-1zM713 225h1v1h-1zM714 225h1v1h-1zM715 224h1v1h-1zM716 224h1v1h-1zM717 224h1v1h-1zM718 223h1v1h-1zM719 223h1v1h-1zM720 222h1v1h-1zM721 222h1v1h-1zM722 222h1v1h-1zM723 221h1v1h-1zM724 221h1v1h-1zM725 221h1v1h-1zM726 220h1v1h-1zM727 220h1v1h-1zM728 219h1v1h-1zM729 218h1v1h-1zM730 218h1v1h-1zM731 217h1v1h-1zM732 216h1v1h-1zM733 215h1v1h-1zM734 215h1v1h-1zM735 214h1v1h-1zM736 213h1v1h-1zM737 212h1v1h-1zM738 212h1v1h-1zM739 211h1v1h-1zM740 210h1v1h-1zM741 210h1v1h-1zM742 209h1v1h-1zM743 209h1v1h-1zM744 208h1v1h-1zM745 208h1v1h-1zM746 207h1v1h-1zM747 207h1v1h-1zM748 206h1v1h-1zM749 206h1v1h-1zM750 205h1v1h-1zM751 205h1v1h-1zM752 204h1v1h-1zM753 204h1v1h-1zM754 204h1v1h-1zM755 203h1v1h-1zM756 203h1v1h-1zM757 203h1v1h-1zM758 202h1v1h-1zM759 202h1v1h-1zM760 201h1v1h-1zM761 201h1v1h-1zM762 201h1v1h-1zM763 201h1v1h-1zM764 201h1v1h-1zM765 201h1v1h-1zM766 201h1v1h-1zM767 202h1v1h-1zM768 202h1v1h-1zM769 202h1v1h-1zM770 202h1v1h-1zM771 203h1v1h-1zM772 203h1v1h-1zM773 203h1v1h-1zM774 203h1v1h-1zM775 204h1v1h-1zM776 204h1v1h-1zM777 205h1v1h-1zM778 206h1v1h-1zM779 207h1v1h-1zM780 208h1v1h-1zM781 209h1v1h-1zM782 209h1v1h-1zM783 210h1v1h-1zM784 211h1v1h-1zM785 212h1v1h-1zM786 213h1v1h-1zM787 214h1v1h-1zM788 215h1v1h-1zM789 216h1v1h-1zM790 217h1v2h-1zM791 219h1v1h-1zM792 220h1v1h-1zM793 221h1v1h-1zM794 222h1v2h-1zM795 224h1v1h-1zM796 225h1v1h-1zM797 226h1v2h-1zM798 228h1v1h-1zM799 229h1v2h-1zM800 231h1v1h-1zM801 232h1v2h-1zM802 234h1v2h-1zM803 236h1v2h-1zM804 238h1v1h-1zM805 239h1v2h-1zM806 241h1v1h-1zM807 242h1v2h-1zM808 244h1v1h-1zM809 245h1v1h-1zM810 246h1v1h-1zM811 247h1v1h-1zM812 248h1v1h-1zM813 249h1v1h-1zM814 250h1v1h-1zM815 251h1v1h-1zM816 252h1v1h-1zM817 253h1v1h-1zM818 254h1v2h-1zM819 256h1v1h-1zM820 257h1v1h-1zM821 258h1v1h-1zM822 259h1v2h-1zM823 261h1v1h-1zM824 262h1v1h-1zM825 262h1v1h-1zM826 263h1v1h-1zM827 263h1v1h-1zM828 264h1v1h-1zM829 264h1v1h-1zM830 264h1v1h-1zM831 265h1v1h-1zM832 265h1v1h-1zM833 265h1v1h-1zM834 265h1v1h-1zM835 264h1v1h-1zM836 264h1v1h-1zM837 264h1v1h-1zM838 264h1v1h-1zM839 263h1v1h-1zM840 263h1v1h-1zM841 263h1v1h-1zM842 262h1v1h-1zM843 262h1v1h-1zM844 261h1v1h-1zM845 261h1v1h-1zM846 261h1v1h-1zM847 261h1v1h-1zM848 261h1v1h-1zM849 261h1v1h-1zM850 261h1v1h-1zM851 261h1v1h-1zM852 261h1v1h-1zM853 261h1v1h-1zM854 261h1v1h-1zM855 262h1v1h-1zM856 262h1v1h-1zM857 263h1v1h-1zM858 264h1v1h-1zM859 265h1v1h-1zM860 266h1v1h-1zM861 267h1v1h-1zM862 268h1v1h-1zM863 269h1v1h-1zM864 270h1v1h-1zM865 271h1v1h-1zM866 272h1v1h-1zM867 273h1v1h-1zM868 274h1v1h-1zM869 275h1v1h-1zM870 275h1v1h-1zM871 276h1v1h-1zM872 277h1v1h-1zM873 278h1v1h-1zM874 278h1v1h-1zM875 279h1v1h-1zM876 280h1v1h-1zM877 280h1v1h-1zM878 281h1v1h-1zM879 281h1v1h-1zM880 282h1v1h-1zM881 282h1v1h-1zM882 282h1v1h-1zM883 281h1v1h-1zM884 281h1v1h-1zM885 281h1v1h-1zM886 281h1v1h-1zM887 280h1v1h-1zM888 280h1v1h-1zM889 280h1v1h-1zM890 279h1v1h-1zM891 279h1v1h-1zM892 278h1v1h-1zM893 277h1v1h-1zM894 276h1v1h-1zM895 275h1v1h-1zM896 274h1v1h-1zM897 274h1v1h-1zM898 273h1v1h-1zM899 273h1v1h-1zM900 272h1v1h-1zM901 271h1v1h-1zM902 271h1v1h-1zM903 270h1v1h-1zM904 269h1v1h-1zM905 268h1v1h-1zM906 268h1v1h-1zM907 267h1v1h-1zM908 266h1v1h-1zM909 265h1v1h-1zM910 263h1v2h-1zM911 262h1v1h-1zM912 261h1v1h-1zM913 259h1v2h-1zM914 258h1v1h-1zM915 256h1v2h-1zM916 255h1v1h-1zM917 253h1v2h-1zM918 251h1v2h-1zM919 249h1v2h-1zM920 248h1v1h-1zM921 247h1v1h-1zM922 245h1v2h-1zM923 244h1v1h-1zM924 243h1v1h-1zM925 242h1v1h-1zM926 240h1v2h-1zM927 239h1v1h-1zM928 238h1v1h-1zM929 238h1v1h-1zM930 237h1v1h-1zM931 237h1v1h-1zM932 236h1v1h-1zM933 235h1v1h-1zM934 235h1v1h-1zM935 234h1v1h-1zM936 233h1v1h-1zM937 233h1v1h-1zM938 232h1v1h-1zM939 232h1v1h-1zM940 231h1v1h-1zM941 230h1v1h-1zM942 229h1v1h-1zM943 228h1v1h-1zM944 227h1v1h-1zM945 227h1v1h-1zM946 227h1v1h-1zM947 227h1v1h-1zM948 227h1v1h-1zM949 227h1v1h-1zM950 227h1v1h-1zM951 227h1v1h-1zM952 227h1v1h-1zM953 227h1v1h-1zM954 228h1v1h-1zM955 228h1v1h-1zM956 229h1v1h-1zM957 229h1v1h-1zM958 230h1v1h-1zM959 230h1v1h-1zM960 231h1v1h-1zM961 232h1v1h-1zM962 232h1v1h-1zM963 233h1v1h-1zM964 234h1v1h-1zM965 234h1v1h-1zM966 234h1v1h-1zM967 235h1v1h-1zM968 235h1v1h-1zM969 235h1v1h-1zM970 236h1v1h-1zM971 236h1v1h-1zM972 237h1v1h-1zM973 237h1v1h-1zM974 237h1v1h-1zM975 237h1v1h-1zM976 237h1v1h-1zM977 237h1v1h-1zM978 237h1v1h-1zM979 237h1v1h-1zM980 237h1v1h-1zM981 237h1v1h-1zM982 237h1v1h-1zM983 236h1v1h-1zM984 236h1v1h-1zM985 236h1v1h-1zM986 236h1v1h-1zM987 235h1v1h-1zM988 235h1v1h-1zM989 235h1v1h-1zM990 235h1v1h-1zM991 234h1v1h-1zM992 234h1v1h-1zM993 234h1v1h-1zM994 233h1v1h-1zM995 233h1v1h-1zM996 232h1v1h-1zM997 232h1v1h-1zM998 232h1v1h-1zM999 231h1v1h-1zM1000 231h1v1h-1zM1001 231h1v1h-1zM1002 231h1v1h-1zM1003 231h1v1h-1zM1004 231h1v1h-1zM1005 231h1v1h-1zM1006 231h1v1h-1zM1007 232h1v1h-1zM1008 232h1v1h-1zM1009 232h1v1h-1zM1010 232h1v1h-1zM1011 233h1v1h-1zM1012 233h1v1h-1zM1013 233h1v1h-1zM1014 233h1v1h-1zM1015 234h1v1h-1zM1016 234h1v1h-1zM1017 234h1v1h-1zM1018 234h1v1h-1zM1019 234h1v1h-1zM1020 234h1v1h-1zM1021 234h1v1h-1zM1022 234h1v1h-1zM1023 234h1v1h-1zM1024 234h1v1h-1zM1025 234h1v1h-1zM1026 234h1v1h-1zM1027 233h1v1h-1zM1028 233h1v1h-1zM1029 233h1v1h-1zM1030 233h1v1h-1zM1031 232h1v1h-1zM1032 232h1v1h-1zM1033 232h1v1h-1zM1034 231h1v1h-1zM1035 231h1v1h-1zM1036 230h1v1h-1zM1037 230h1v1h-1zM1038 230h1v1h-1zM1039 230h1v1h-1zM1040 230h1v1h-1zM1041 230h1v1h-1zM1042 229h1v1h-1zM1043 229h1v1h-1zM1044 228h1v1h-1zM1045 228h1v1h-1zM1046 228h1v1h-1zM1047 228h1v1h-1zM1048 228h1v1h-1zM1049 228h1v1h-1zM1050 228h1v1h-1zM1051 228h1v1h-1zM1052 228h1v1h-1zM1053 228h1v1h-1zM1054 227h1v1h-1zM1055 227h1v1h-1zM1056 226h1v1h-1zM1057 226h1v1h-1zM1058 226h1v1h-1zM1059 225h1v1h-1zM1060 225h1v1h-1zM1061 225h1v1h-1zM1062 225h1v1h-1zM1063 225h1v1h-1zM1064 225h1v1h-1zM1065 225h1v1h-1zM1066 225h1v1h-1zM1067 225h1v1h-1zM1068 225h1v1h-1zM1069 225h1v1h-1zM1070 225h1v1h-1zM1071 225h1v1h-1zM1072 225h1v1h-1zM1073 225h1v1h-1zM1074 226h1v1h-1zM1075 226h1v1h-1zM1076 227h1v1h-1zM1077 228h1v1h-1zM1078 228h1v1h-1zM1079 229h1v1h-1zM1080 230h1v1h-1zM1081 230h1v1h-1zM1082 231h1v1h-1zM1083 231h1v1h-1zM1084 232h1v1h-1zM1085 233h1v1h-1zM1086 233h1v1h-1zM1087 234h1v1h-1zM1088 235h1v1h-1zM1089 235h1v1h-1zM1090 236h1v1h-1zM1091 236h1v1h-1zM1092 237h1v1h-1zM1093 237h1v1h-1zM1094 238h1v1h-1zM1095 238h1v1h-1zM1096 239h1v1h-1zM1097 239h1v1h-1zM1098 240h1v1h-1zM1099 240h1v1h-1zM1100 241h1v1h-1zM1101 241h1v1h-1zM1102 241h1v1h-1zM1103 241h1v1h-1zM1104 241h1v1h-1zM1105 241h1v1h-1zM1106 241h1v1h-1zM1107 241h1v1h-1zM1108 241h1v1h-1zM1109 241h1v1h-1zM1110 241h1v1h-1zM1111 242h1v1h-1zM1112 242h1v1h-1zM1113 243h1v1h-1zM1114 244h1v1h-1zM1115 245h1v1h-1zM1116 246h1v1h-1zM1117 247h1v2h-1zM1118 249h1v1h-1zM1119 250h1v2h-1zM1120 252h1v1h-1zM1121 253h1v2h-1zM1122 255h1v2h-1zM1123 257h1v2h-1zM1124 259h1v1h-1zM1125 260h1v1h-1zM1126 260h1v1h-1zM1127 261h1v1h-1zM1128 262h1v1h-1zM1129 263h1v1h-1zM1130 263h1v1h-1zM1131 264h1v1h-1zM1132 265h1v1h-1zM1133 266h1v1h-1zM1134 267h1v1h-1zM1135 268h1v1h-1zM1136 269h1v1h-1zM1137 270h1v1h-1zM1138 271h1v1h-1zM1139 272h1v1h-1zM1140 273h1v1h-1zM1141 274h1v1h-1zM1142 274h1v1h-1zM1143 275h1v1h-1zM1144 276h1v1h-1zM1145 277h1v1h-1zM1146 278h1v1h-1zM1147 279h1v1h-1zM1148 280h1v1h-1zM1149 281h1v1h-1zM1150 282h1v1h-1zM1151 283h1v1h-1zM1152 284h1v1h-1zM1153 285h1v1h-1zM1154 286h1v1h-1zM1155 287h1v1h-1zM1156 288h1v1h-1zM1157 289h1v1h-1zM1158 290h1v1h-1zM1159 291h1v1h-1zM1160 292h1v1h-1zM1161 293h1v1h-1zM1162 294h1v2h-1zM1163 296h1v1h-1zM1164 297h1v1h-1zM1165 298h1v1h-1zM1166 299h1v1h-1zM1167 300h1v1h-1zM1168 301h1v1h-1zM1169 302h1v1h-1zM1170 303h1v1h-1zM1171 304h1v1h-1zM1172 305h1v1h-1zM1173 306h1v1h-1zM1174 307h1v1h-1zM1175 308h1v1h-1zM1176 309h1v1h-1zM1177 310h1v1h-1zM1178 311h1v2h-1zM1179 313h1v1h-1zM1180 314h1v1h-1zM1181 315h1v1h-1zM1182 316h1v1h-1zM1183 317h1v1h-1zM1184 318h1v1h-1zM1185 319h1v1h-1zM1186 319h1v1h-1zM1187 320h1v1h-1zM1188 321h1v1h-1zM1189 322h1v1h-1zM1190 323h1v2h-1zM1191 325h1v1h-1zM1192 326h1v1h-1zM1193 327h1v1h-1zM1194 327h1v1h-1zM1195 328h1v1h-1zM1196 329h1v1h-1zM1197 330h1v1h-1zM1198 330h1v1h-1zM1199 331h1v1h-1zM1200 332h1v1h-1zM1201 333h1v1h-1zM1202 333h1v1h-1zM1203 334h1v1h-1zM1204 335h1v1h-1zM1205 336h1v1h-1zM1206 337h1v1h-1zM1207 338h1v1h-1zM1208 339h1v1h-1zM1209 340h1v1h-1zM1210 341h1v1h-1zM1211 342h1v1h-1zM1212 343h1v1h-1zM1213 344h1v1h-1zM1214 345h1v1h-1zM1215 346h1v1h-1zM1216 347h1v1h-1zM1217 348h1v1h-1zM1218 348h1v1h-1zM1219 349h1v1h-1zM1220 350h1v1h-1zM1221 351h1v1h-1zM1222 352h1v1h-1zM1223 353h1v1h-1zM1224 354h1v1h-1zM1225 355h1v1h-1zM1226 356h1v1h-1zM1227 357h1v1h-1zM1228 358h1v1h-1zM1229 359h1v1h-1zM1230 359h1v1h-1zM1231 360h1v1h-1zM1232 361h1v1h-1zM1233 361h1v1h-1zM1234 362h1v1h-1zM1235 362h1v1h-1zM1236 363h1v1h-1zM1237 363h1v1h-1zM1238 363h1v1h-1zM1239 363h1v1h-1zM1240 363h1v1h-1zM1241 363h1v1h-1zM1242 363h1v1h-1zM1243 362h1v1h-1zM1244 362h1v1h-1zM1245 363h1v1h-1zM1246 363h1v1h-1zM1247 364h1v1h-1zM1248 365h1v1h-1zM1249 366h1v1h-1zM1250 366h1v1h-1zM1251 367h1v1h-1zM1252 368h1v1h-1zM1253 368h1v1h-1zM1254 369h1v1h-1zM1255 369h1v1h-1zM1256 370h1v1h-1zM1257 371h1v1h-1zM1258 371h1v1h-1zM1259 372h1v1h-1zM1260 373h1v1h-1zM1261 374h1v1h-1zM1262 375h1v1h-1zM1263 376h1v1h-1zM1264 377h1v1h-1zM1265 378h1v1h-1zM1266 379h1v1h-1zM1267 380h1v1h-1z" fill="#0000c8"/>
<path d="M4 131h1v1h-1zM5 132h1v1h-1zM6 133h1v1h-1zM7 134h1v1h-1zM8 135h1v1h-1zM9 136h1v1h-1zM10 136h1v1h-1zM11 137h1v1h-1zM12 138h1v1h-1zM13 139h1v1h-1zM14 139h1v1h-1zM15 140h1v1h-1zM16 141h1v1h-1zM17 141h1v1h-1zM18 141h1v1h-1zM19 141h1v1h-1zM20 141h1v1h-1zM21 141h1v1h-1zM22 141h1v1h-1zM23 140h1v1h-1zM24 140h1v1h-1zM25 139h1v1h-1zM26 139h1v1h-1zM27 138h1v1h-1zM28 137h1v1h-1zM29 137h1v1h-1zM30 136h1v1h-1zM31 136h1v1h-1zM32 135h1v1h-1zM33 134h1v1h-1zM34 134h1v1h-1zM35 133h1v1h-1zM36 132h1v1h-1zM37 132h1v1h-1zM38 132h1v1h-1zM39 131h1v1h-1zM40 131h1v1h-1zM41 131h1v1h-1zM42 130h1v1h-1zM43 130h1v1h-1zM44 129h1v1h-1zM45 129h1v1h-1zM46 130h1v1h-1zM47 130h1v1h-1zM48 131h1v1h-1zM49 132h1v1h-1zM50 132h1v1h-1zM51 133h1v1h-1zM52 134h1v1h-1zM53 135h1v1h-1zM54 135h1v1h-1zM55 136h1v1h-1zM56 137h1v1h-1zM57 137h1v1h-1zM58 137h1v1h-1zM59 138h1v1h-1zM60 138h1v1h-1zM61 139h1v1h-1zM62 140h1v1h-1zM63 141h1v1h-1zM64 142h1v1h-1zM65 143h1v1h-1zM66 144h1v1h-1zM67 145h1v1h-1zM68 146h1v1h-1zM69 147h1v2h-1zM70 149h1v1h-1zM71 150h1v2h-1zM72 152h1v1h-1zM73 153h1v2h-1zM74 155h1v2h-1zM75 157h1v2h-1zM76 159h1v2h-1zM77 161h1v2h-1zM78 163h1v2h-1zM79 165h1v2h-1zM80 167h1v3h-1zM81 170h1v2h-1zM82 172h1v2h-1zM83 174h1v2h-1zM84 176h1v1h-1zM85 177h1v2h-1zM86 179h1v2h-1zM87 181h1v2h-1zM88 183h1v1h-1zM89 184h1v2h-1zM90 186h1v1h-1zM91 187h1v2h-1zM92 189h1v1h-1zM93 190h1v1h-1zM94 191h1v1h-1zM95 192h1v1h-1zM96 193h1v1h-1zM97 194h1v2h-1zM98 196h1v1h-1zM99 197h1v2h-1zM100 199h1v1h-1zM101 199h1v1h-1zM102 199h1v1h-1zM103 200h1v1h-1zM104 200h1v1h-1zM105 200h1v1h-1zM106 200h1v1h-1zM107 201h1v1h-1zM108 201h1v1h-1zM109 200h1v1h-1zM110 199h1v1h-1zM111 198h1v1h-1zM112 197h1v1h-1zM113 197h1v1h-1zM114 196h1v1h-1zM115 196h1v1h-1zM116 195h1v1h-1zM117 195h1v1h-1zM118 194h1v1h-1zM119 194h1v1h-1zM120 193h1v1h-1zM121 193h1v1h-1zM122 193h1v1h-1zM123 194h1v1h-1zM124 194h1v1h-1zM125 193h1v1h-1zM126 193h1v1h-1zM127 192h1v1h-1zM128 191h1v1h-1zM129 190h1v1h-1zM130 189h1v1h-1zM131 188h1v1h-1zM132 187h1v1h-1zM133 186h1v1h-1zM134 185h1v1h-1zM135 184h1v1h-1zM136 183h1v1h-1zM137 182h1v1h-1zM138 181h1v1h-1zM139 180h1v1h-1zM140 179h1v1h-1zM141 177h1v2h-1zM142 175h1v2h-1zM143 173h1v2h-1zM144 172h1v1h-1zM145 171h1v1h-1zM146 169h1v2h-1zM147 168h1v1h-1zM148 167h1v1h-1zM149 166h1v1h-1zM150 164h1v2h-1zM151 163h1v1h-1zM152 162h1v1h-1zM153 161h1v1h-1zM154 161h1v1h-1zM155 160h1v1h-1zM156 159h1v1h-1zM157 159h1v1h-1zM158 159h1v1h-1zM159 158h1v1h-1zM160 158h1v1h-1zM161 158h1v1h-1zM162 157h1v1h-1zM163 157h1v1h-1zM164 156h1v1h-1zM165 155h1v1h-1zM166 155h1v1h-1zM167 154h1v1h-1zM168 153h1v1h-1zM169 153h1v1h-1zM170 153h1v1h-1zM171 152h1v1h-1zM172 152h1v1h-1zM173 150h1v2h-1zM174 148h1v2h-1zM175 146h1v2h-1zM176 145h1v1h-1zM177 143h1v2h-1zM178 142h1v1h-1zM179 140h1v2h-1zM180 139h1v1h-1zM181 137h1v2h-1zM182 136h1v1h-1zM183 134h1v2h-1zM184 133h1v1h-1zM185 132h1v1h-1zM186 132h1v1h-1zM187 131h1v1h-1zM188 130h1v1h-1zM189 129h1v1h-1zM190 128h1v1h-1zM191 127h1v1h-1zM192 126h1v1h-1zM193 126h1v1h-1zM194 125h1v1h-1zM195 125h1v1h-1zM196 124h1v1h-1zM197 124h1v1h-1zM198 124h1v1h-1zM199 123h1v1h-1zM200 123h1v1h-1zM201 123h1v1h-1zM202 123h1v1h-1zM203 122h1v1h-1zM204 122h1v1h-1zM205 122h1v1h-1zM206 122h1v1h-1zM207 121h1v1h-1zM208 121h1v1h-1zM209 120h1v1h-1zM210 120h1v1h-1zM211 119h1v1h-1zM212 118h1v1h-1zM213 117h1v1h-1zM214 117h1v1h-1zM215 116h1v1h-1zM216 115h1v1h-1zM217 115h1v1h-1zM218 114h1v1h-1zM219 114h1v1h-1zM220 113h1v1h-1zM221 113h1v1h-1zM222 113h1v1h-1zM223 112h1v1h-1zM224 112h1v1h-1zM225 112h1v1h-1zM226 112h1v1h-1zM227 112h1v1h-1zM228 112h1v1h-1zM229 112h1v1h-1zM230 112h1v1h-1zM231 112h1v1h-1zM232 112h1v1h-1zM233 112h1v1h-1zM234 112h1v1h-1zM235 111h1v1h-1zM236 111h1v1h-1zM237 111h1v1h-1zM238 111h1v1h-1zM239 112h1v1h-1zM240 112h1v1h-1zM241 112h1v1h-1zM242 112h1v1h-1zM243 111h1v1h-1zM244 111h1v1h-1zM245 110h1v1h-1zM246 110h1v1h-1zM247 109h1v1h-1zM248 108h1v1h-1zM249 108h1v1h-1zM250 108h1v1h-1zM251 107h1v1h-1zM252 107h1v1h-1zM253 106h1v1h-1zM254 106h1v1h-1zM255 105h1v1h-1zM256 104h1v1h-1zM257 104h1v1h-1zM258 103h1v1h-1zM259 103h1v1h-1zM260 102h1v1h-1zM261 102h1v1h-1zM262 102h1v1h-1zM263 102h1v1h-1zM264 102h1v1h-1zM265 102h1v1h-1zM266 102h1v1h-1zM267 101h1v1h-1zM268 101h1v1h-1zM269 101h1v1h-1zM270 101h1v1h-1zM271 100h1v1h-1zM272 100h1v1h-1zM273 100h1v1h-1zM274 100h1v1h-1zM275 99h1v1h-1zM276 99h1v1h-1zM277 99h1v1h-1zM278 98h1v1h-1zM279 98h1v1h-1zM280 97h1v1h-1zM281 96h1v1h-1zM282 96h1v1h-1zM283 95h1v1h-1zM284 94h1v1h-1zM285 94h1v1h-1zM286 93h1v1h-1zM287 93h1v1h-1zM288 92h1v1h-1zM289 92h1v1h-1zM290 91h1v1h-1zM291 91h1v1h-1zM292 90h1v1h-1zM293 90h1v1h-1zM294 89h1v1h-1zM295 89h1v1h-1zM296 88h1v1h-1zM297 87h1v1h-1zM298 87h1v1h-1zM299 86h1v1h-1zM300 85h1v1h-1zM301 85h1v1h-1zM302 85h1v1h-1zM303 85h1v1h-1zM304 85h1v1h-1zM305 86h1v1h-1zM306 86h1v1h-1zM307 87h1v1h-1zM308 88h1v1h-1zM309 89h1v1h-1zM310 90h1v2h-1zM311 92h1v1h-1zM312 93h1v1h-1zM313 94h1v1h-1zM314 95h1v2h-1zM315 97h1v1h-1zM316 98h1v1h-1zM317 99h1v1h-1zM318 99h1v1h-1zM319 100h1v1h-1zM320 101h1v1h-1zM321 102h1v1h-1zM322 102h1v1h-1zM323 103h1v1h-1zM324 104h1v1h-1zM325 104h1v1h-1zM326 104h1v1h-1zM327 105h1v1h-1zM328 105h1v1h-1zM329 105h1v1h-1zM330 105h1v1h-1zM331 106h1v1h-1zM332 106h1v1h-1zM333 106h1v1h-1zM334 106h1v1h-1zM335 106h1v1h-1zM336 106h1v1h-1zM337 106h1v1h-1zM338 106h1v1h-1zM339 106h1v1h-1zM340 106h1v1h-1zM341 106h1v1h-1zM342 106h1v1h-1zM343 107h1v1h-1zM344 107h1v1h-1zM345 107h1v1h-1zM346 107h1v1h-1zM347 108h1v1h-1zM348 108h1v1h-1zM349 109h1v1h-1zM350 109h1v1h-1zM351 110h1v1h-1zM352 111h1v1h-1zM353 112h1v1h-1zM354 113h1v1h-1zM355 114h1v1h-1zM356 115h1v1h-1zM357 116h1v1h-1zM358 117h1v1h-1zM359 118h1v1h-1zM360 119h1v1h-1zM361 119h1v1h-1zM362 119h1v1h-1zM363 120h1v1h-1zM364 120h1v1h-1zM365 120h1v1h-1zM366 120h1v1h-1zM367 119h1v1h-1zM368 119h1v1h-1zM369 119h1v1h-1zM370 118h1v1h-1zM371 118h1v1h-1zM372 117h1v1h-1zM373 116h1v1h-1zM374 116h1v1h-1zM375 115h1v1h-1zM376 114h1v1h-1zM377 114h1v1h-1zM378 113h1v1h-1zM379 113h1v1h-1zM380 112h1v1h-1zM381 112h1v1h-1zM382 111h1v1h-1zM383 111h1v1h-1zM384 110h1v1h-1zM385 110h1v1h-1zM386 109h1v1h-1zM387 109h1v1h-1zM388 108h1v1h-1zM389 108h1v1h-1zM390 108h1v1h-1zM391 108h1v1h-1zM392 108h1v1h-1zM393 108h1v1h-1zM394 108h1v1h-1zM395 108h1v1h-1zM396 108h1v1h-1zM397 108h1v1h-1zM398 109h1v1h-1zM399 109h1v1h-1zM400 110h1v1h-1zM401 110h1v1h-1zM402 111h1v1h-1zM403 111h1v1h-1zM404 112h1v1h-1zM405 112h1v1h-1zM406 112h1v1h-1zM407 113h1v1h-1zM408 113h1v1h-1zM409 113h1v1h-1zM410 113h1v1h-1zM411 112h1v1h-1zM412 112h1v1h-1zM413 112h1v1h-1zM414 112h1v1h-1zM415 111h1v1h-1zM416 111h1v1h-1zM417 111h1v1h-1zM418 111h1v1h-1zM419 110h1v1h-1zM420 110h1v1h-1zM421 109h1v1h-1zM422 109h1v1h-1zM423 108h1v1h-1zM424 107h1v1h-1zM425 107h1v1h-1zM426 107h1v1h-1zM427 107h1v1h-1zM428 107h1v1h-1zM429 107h1v1h-1zM430 107h1v1h-1zM431 106h1v1h-1zM432 106h1v1h-1zM433 106h1v1h-1zM434 106h1v1h-1zM435 105h1v1h-1zM436 105h1v1h-1zM437 105h1v1h-1zM438 105h1v1h-1zM439 105h1v1h-1zM440 105h1v1h-1zM441 105h1v1h-1zM442 105h1v1h-1zM443 105h1v1h-1zM444 105h1v1h-1zM445 105h1v1h-1zM446 104h1v1h-1zM447 104h1v1h-1zM448 103h1v1h-1zM449 103h1v1h-1zM450 102h1v1h-1zM451 102h1v1h-1zM452 101h1v1h-1zM453 100h1v1h-1zM454 99h1v1h-1zM455 98h1v1h-1zM456 97h1v1h-1zM457 96h1v1h-1zM458 95h1v1h-1zM459 94h1v1h-1zM460 93h1v1h-1zM461 93h1v1h-1zM462 92h1v1h-1zM463 92h1v1h-1zM464 91h1v1h-1zM465 91h1v1h-1zM466 91h1v1h-1zM467 92h1v1h-1zM468 92h1v1h-1zM469 92h1v1h-1zM470 92h1v1h-1zM471 92h1v1h-1zM472 92h1v1h-1zM473 92h1v1h-1zM474 92h1v1h-1zM475 92h1v1h-1zM476 92h1v1h-1zM477 92h1v1h-1zM478 92h1v1h-1zM479 93h1v1h-1zM480 93h1v1h-1zM481 93h1v1h-1zM482 93h1v1h-1zM483 93h1v1h-1zM484 93h1v1h-1zM485 94h1v1h-1zM486 94h1v1h-1zM487 95h1v1h-1zM488 96h1v1h-1zM489 97h1v1h-1zM490 98h1v2h-1zM491 100h1v1h-1zM492 101h1v1h-1zM493 102h1v1h-1zM494 103h1v1h-1zM495 104h1v1h-1zM496 105h1v1h-1zM497 106h1v1h-1zM498 107h1v2h-1zM499 109h1v1h-1zM500 110h1v1h-1zM501 111h1v2h-1zM502 113h1v1h-1zM503 114h1v2h-1zM504 116h1v1h-1zM505 117h1v2h-1zM506 119h1v1h-1zM507 120h1v2h-1zM508 122h1v1h-1zM509 123h1v2h-1zM510 125h1v1h-1zM511 126h1v2h-1zM512 128h1v2h-1zM513 130h1v2h-1zM514 132h1v2h-1zM515 134h1v2h-1zM516 136h1v1h-1zM517 137h1v1h-1zM518 138h1v1h-1zM519 139h1v1h-1zM520 140h1v1h-1zM521 141h1v1h-1zM522 142h1v1h-1zM523 143h1v1h-1zM524 144h1v1h-1zM525 145h1v1h-1zM526 145h1v1h-1zM527 146h1v1h-1zM528 147h1v1h-1zM529 147h1v1h-1zM530 148h1v1h-1zM531 148h1v1h-1zM532 149h1v1h-1zM533 150h1v1h-1zM534 150h1v1h-1zM535 151h1v1h-1zM536 152h1v1h-1zM537 153h1v1h-1zM538 154h1v1h-1zM539 155h1v1h-1zM540 156h1v1h-1zM541 157h1v1h-1zM542 158h1v1h-1zM543 159h1v1h-1zM544 160h1v1h-1zM545 160h1v1h-1zM546 161h1v1h-1zM547 161h1v1h-1zM548 162h1v1h-1zM549 163h1v1h-1zM550 164h1v1h-1zM551 165h1v1h-1zM552 166h1v1h-1zM553 167h1v1h-1zM554 168h1v2h-1zM555 170h1v1h-1zM556 171h1v1h-1zM557 172h1v1h-1zM558 173h1v2h-1zM559 175h1v1h-1zM560 176h1v1h-1zM561 177h1v2h-1zM562 179h1v2h-1zM563 181h1v2h-1zM564 183h1v1h-1zM565 184h1v2h-1zM566 186h1v1h-1zM567 187h1v2h-1zM568 189h1v1h-1zM569 190h1v1h-1zM570 191h1v1h-1zM571 192h1v1h-1zM572 193h1v1h-1zM573 194h1v1h-1zM574 195h1v2h-1zM575 197h1v1h-1zM576 198h1v1h-1zM577 198h1v1h-1zM578 199h1v1h-1zM579 199h1v1h-1zM580 200h1v1h-1zM581 201h1v1h-1zM582 202h1v2h-1zM583 204h1v1h-1zM584 205h1v1h-1zM585 206h1v1h-1zM586 207h1v1h-1zM587 208h1v1h-1zM588 209h1v1h-1zM589 210h1v1h-1zM590 211h1v2h-1zM591 213h1v1h-1zM592 214h1v1h-1zM593 215h1v1h-1zM594 215h1v1h-1zM595 216h1v1h-1zM596 217h1v1h-1zM597 218h1v1h-1zM598 218h1v1h-1zM599 219h1v1h-1zM600 220h1v1h-1zM601 221h1v1h-1zM602 221h1v1h-1zM603 222h1v1h-1zM604 223h1v1h-1zM605 223h1v1h-1zM606 224h1v1h-1zM607 224h1v1h-1zM608 225h1v1h-1zM609 225h1v1h-1zM610 226h1v1h-1zM611 226h1v1h-1zM612 227h1v1h-1zM613 227h1v1h-1zM614 227h1v1h-1zM615 228h1v1h-1zM616 228h1v1h-1zM617 228h1v1h-1zM618 229h1v1h-1zM619 229h1v1h-1zM620 230h1v1h-1zM621 230h1v1h-1zM622 230h1v1h-1zM623 230h1v1h-1zM624 230h1v1h-1zM625 230h1v1h-1zM626 230h1v1h-1zM627 230h1v1h-1zM628 230h1v1h-1zM629 230h1v1h-1zM630 230h1v1h-1zM631 231h1v1h-1zM632 231h1v1h-1zM633 231h1v1h-1zM634 231h1v1h-1zM635 232h1v1h-1zM636 232h1v1h-1zM637 232h1v1h-1zM638 232h1v1h-1zM639 232h1v1h-1zM640 232h1v1h-1zM641 232h1v1h-1zM642 232h1v1h-1zM643 233h1v1h-1zM644 233h1v1h-1zM645 233h1v1h-1zM646 233h1v1h-1zM647 233h1v1h-1zM648 233h1v1h-1zM649 233h1v1h-1zM650 233h1v1h-1zM651 234h1v1h-1zM652 234h1v1h-1zM653 234h1v1h-1zM654 234h1v1h-1zM655 235h1v1h-1zM656 235h1v1h-1zM657 235h1v1h-1zM658 235h1v1h-1zM659 235h1v1h-1zM660 235h1v1h-1zM661 235h1v1h-1zM662 234h1v1h-1zM663 234h1v1h-1zM664 233h1v1h-1zM665 233h1v1h-1zM666 233h1v1h-1zM667 233h1v1h-1zM668 233h1v1h-1zM669 233h1v1h-1zM670 233h1v1h-1zM671 234h1v1h-1zM672 234h1v1h-1zM673 234h1v1h-1zM674 234h1v1h-1zM675 234h1v1h-1zM676 234h1v1h-1zM677 234h1v1h-1zM678 234h1v1h-1zM679 235h1v1h-1zM680 235h1v1h-1zM681 235h1v1h-1zM682 235h1v1h-1zM683 234h1v1h-1zM684 234h1v1h-1zM685 234h1v1h-1zM686 234h1v1h-1zM687 233h1v1h-1zM688 233h1v1h-1zM689 232h1v1h-1zM690 232h1v1h-1zM691 231h1v1h-1zM692 230h1v1h-1zM693 230h1v1h-1zM694 229h1v1h-1zM695 229h1v1h-1zM696 228h1v1h-1zM697 227h1v1h-1zM698 226h1v1h-1zM699 225h1v1h-1zM700 224h1v1h-1zM701 224h1v1h-1zM702 223h1v1h-1zM703 223h1v1h-1zM704 222h1v1h-1zM705 221h1v1h-1zM706 221h1v1h-1zM707 220h1v1h-1zM708 219h1v1h-1zM709 219h1v1h-1zM710 218h1v1h-1zM711 218h1v1h-1zM712 217h1v1h-1zM713 217h1v1h-1zM714 216h1v1h-1zM715 216h1v1h-1zM716 215h1v1h-1zM717 214h1v1h-1zM718 214h1v1h-1zM719 213h1v1h-1zM720 212h1v1h-1zM721 211h1v1h-1zM722 209h1v2h-1zM723 208h1v1h-1zM724 207h1v1h-1zM725 205h1v2h-1zM726 203h1v2h-1zM727 201h1v2h-1zM728 200h1v1h-1zM729 198h1v2h-1zM730 196h1v2h-1zM731 194h1v2h-1zM732 193h1v1h-1zM733 191h1v2h-1zM734 189h1v2h-1zM735 187h1v2h-1zM736 186h1v1h-1zM737 185h1v1h-1zM738 183h1v2h-1zM739 182h1v1h-1zM740 181h1v1h-1zM741 181h1v1h-1zM742 180h1v1h-1zM743 180h1v1h-1zM744 179h1v1h-1zM745 179h1v1h-1zM746 178h1v1h-1zM747 178h1v1h-1zM748 177h1v1h-1zM749 177h1v1h-1zM750 177h1v1h-1zM751 177h1v1h-1zM752 177h1v1h-1zM753 177h1v1h-1zM754 177h1v1h-1zM755 177h1v1h-1zM756 177h1v1h-1zM757 177h1v1h-1zM758 177h1v1h-1zM759 177h1v1h-1zM760 177h1v1h-1zM761 178h1v1h-1zM762 178h1v1h-1zM763 179h1v1h-1zM764 180h1v1h-1zM765 181h1v1h-1zM766 181h1v1h-1zM767 182h1v1h-1zM768 183h1v1h-1zM769 184h1v1h-1zM770 185h1v2h-1zM771 187h1v1h-1zM772 188h1v2h-1zM773 190h1v2h-1zM774 192h1v2h-1zM775 194h1v2h-1zM776 196h1v3h-1zM777 199h1v2h-1zM778 201h1v3h-1zM779 204h1v2h-1zM780 206h1v3h-1zM781 209h1v2h-1zM782 211h1v3h-1zM783 214h1v2h-1zM784 216h1v3h-1zM785 219h1v3h-1zM786 222h1v4h-1zM787 226h1v3h-1zM788 229h1v4h-1zM789 233h1v4h-1zM790 237h1v5h-1zM791 242h1v4h-1zM792 246h1v5h-1zM793 251h1v4h-1zM794 255h1v5h-1zM795 260h1v4h-1zM796 264h1v5h-1zM797 269h1v5h-1zM798 274h1v4h-1zM799 278h1v5h-1zM800 283h1v5h-1zM801 288h1v4h-1zM802 292h1v5h-1zM803 297h1v4h-1zM804 301h1v5h-1zM805 306h1v4h-1zM806 310h1v4h-1zM807 314h1v4h-1zM808 318h1v3h-1zM809 321h1v2h-1zM810 323h1v2h-1zM811 325h1v2h-1zM812 327h1v3h-1zM813 330h1v2h-1zM814 332h1v2h-1zM815 334h1v2h-1zM816 336h1v2h-1zM817 338h1v2h-1zM818 340h1v1h-1zM819 341h1v2h-1zM820 343h1v2h-1zM821 345h1v2h-1zM822 347h1v2h-1zM823 349h1v2h-1zM824 351h1v1h-1zM825 351h1v1h-1zM826 351h1v1h-1zM827 352h1v1h-1zM828 352h1v1h-1zM829 350h1v2h-1zM830 349h1v1h-1zM831 347h1v2h-1zM832 345h1v2h-1zM833 342h1v3h-1zM834 339h1v3h-1zM835 336h1v3h-1zM836 333h1v3h-1zM837 330h1v3h-1zM838 327h1v3h-1zM839 324h1v3h-1zM840 321h1v3h-1zM841 317h1v4h-1zM842 313h1v4h-1zM843 309h1v4h-1zM844 305h1v4h-1zM845 301h1v4h-1zM846 296h1v5h-1zM847 292h1v4h-1zM848 287h1v5h-1zM849 283h1v4h-1zM850 278h1v5h-1zM851 274h1v4h-1zM852 269h1v5h-1zM853 264h1v5h-1zM854 260h1v4h-1zM855 255h1v5h-1zM856 251h1v4h-1zM857 248h1v3h-1zM858 245h1v3h-1zM859 242h1v3h-1zM860 239h1v3h-1zM861 237h1v2h-1zM862 235h1v2h-1zM863 233h1v2h-1zM864 232h1v1h-1zM865 232h1v1h-1zM866 232h1v1h-1zM867 233h1v1h-1zM868 233h1v1h-1zM869 232h1v1h-1zM870 232h1v1h-1zM871 231h1v1h-1zM872 230h1v1h-1zM873 229h1v1h-1zM874 229h1v1h-1zM875 228h1v1h-1zM876 226h1v2h-1zM877 224h1v2h-1zM878 222h1v2h-1zM879 220h1v2h-1zM880 219h1v1h-1zM881 218h1v1h-1zM882 218h1v1h-1zM883 217h1v1h-1zM884 216h1v1h-1zM885 216h1v1h-1zM886 215h1v1h-1zM887 215h1v1h-1zM888 214h1v1h-1zM889 215h1v1h-1zM890 216h1v1h-1zM891 217h1v1h-1zM892 218h1v1h-1zM893 219h1v1h-1zM894 220h1v1h-1zM895 221h1v1h-1zM896 222h1v1h-1zM897 223h1v2h-1zM898 225h1v2h-1zM899 227h1v2h-1zM900 229h1v1h-1zM901 230h1v1h-1zM902 231h1v1h-1zM903 232h1v1h-1zM904 233h1v1h-1zM905 234h1v2h-1zM906 236h1v1h-1zM907 237h1v2h-1zM908 239h1v1h-1zM909 240h1v2h-1zM910 242h1v1h-1zM911 243h1v2h-1zM912 245h1v1h-1zM913 245h1v1h-1zM914 245h1v1h-1zM915 245h1v1h-1zM916 245h1v1h-1zM917 244h1v1h-1zM918 242h1v2h-1zM919 241h1v1h-1zM920 240h1v1h-1zM921 239h1v1h-1zM922 239h1v1h-1zM923 238h1v1h-1zM924 237h1v1h-1zM925 237h1v1h-1zM926 237h1v1h-1zM927 236h1v1h-1zM928 236h1v1h-1zM929 235h1v1h-1zM930 235h1v1h-1zM931 234h1v1h-1zM932 233h1v1h-1zM933 233h1v1h-1zM934 233h1v1h-1zM935 234h1v1h-1zM936 234h1v1h-1zM937 234h1v1h-1zM938 235h1v1h-1zM939 235h1v1h-1zM940 236h1v1h-1zM941 237h1v1h-1zM942 238h1v1h-1zM943 239h1v1h-1zM944 240h1v1h-1zM945 241h1v1h-1zM946 241h1v1h-1zM947 242h1v1h-1zM948 243h1v1h-1zM949 243h1v1h-1zM950 244h1v1h-1zM951 244h1v1h-1zM952 245h1v1h-1zM953 245h1v1h-1zM954 245h1v1h-1zM955 244h1v1h-1zM956 244h1v1h-1zM957 244h1v1h-1zM958 243h1v1h-1zM959 243h1v1h-1zM960 242h1v1h-1zM961 241h1v1h-1zM962 241h1v1h-1zM963 240h1v1h-1zM964 239h1v1h-1zM965 238h1v1h-1zM966 237h1v1h-1zM967 236h1v1h-1zM968 235h1v1h-1zM969 234h1v1h-1zM970 233h1v1h-1zM971 232h1v1h-1zM972 231h1v1h-1zM973 230h1v1h-1zM974 230h1v1h-1zM975 229h1v1h-1zM976 228h1v1h-1zM977 228h1v1h-1zM978 227h1v1h-1zM979 227h1v1h-1zM980 226h1v1h-1zM981 226h1v1h-1zM982 227h1v1h-1zM983 227h1v1h-1zM984 228h1v1h-1zM985 228h1v1h-1zM986 229h1v1h-1zM987 229h1v1h-1zM988 230h1v1h-1zM989 230h1v1h-1zM990 230h1v1h-1zM991 231h1v1h-1zM992 231h1v1h-1zM993 231h1v1h-1zM994 230h1v1h-1zM995 230h1v1h-1zM996 229h1v1h-1zM997 228h1v1h-1zM998 228h1v1h-1zM999 227h1v1h-1zM1000 226h1v1h-1zM1001 226h1v1h-1zM1002 225h1v1h-1zM1003 225h1v1h-1zM1004 224h1v1h-1zM1005 224h1v1h-1zM1006 224h1v1h-1zM1007 224h1v1h-1zM1008 224h1v1h-1zM1009 224h1v1h-1zM1010 224h1v1h-1zM1011 225h1v1h-1zM1012 225h1v1h-1zM1013 225h1v1h-1zM1014 226h1v1h-1zM1015 226h1v1h-1zM1016 227h1v1h-1zM1017 227h1v1h-1zM1018 228h1v1h-1zM1019 228h1v1h-1zM1020 229h1v1h-1zM1021 229h1v1h-1zM1022 230h1v1h-1zM1023 230h1v1h-1zM1024 231h1v1h-1zM1025 231h1v1h-1zM1026 231h1v1h-1zM1027 232h1v1h-1zM1028 232h1v1h-1zM1029 232h1v1h-1zM1030 232h1v1h-1zM1031 233h1v1h-1zM1032 233h1v1h-1zM1033 233h1v1h-1zM1034 232h1v1h-1zM1035 232h1v1h-1zM1036 231h1v1h-1zM1037 230h1v1h-1zM1038 229h1v1h-1zM1039 228h1v1h-1zM1040 227h1v1h-1zM1041 226h1v1h-1zM1042 224h1v2h-1zM1043 223h1v1h-1zM1044 222h1v1h-1zM1045 222h1v1h-1zM1046 222h1v1h-1zM1047 222h1v1h-1zM1048 222h1v1h-1zM1049 222h1v1h-1zM1050 222h1v1h-1zM1051 223h1v1h-1zM1052 223h1v1h-1zM1053 223h1v1h-1zM1054 223h1v1h-1zM1055 224h1v1h-1zM1056 224h1v1h-1zM1057 224h1v1h-1zM1058 224h1v1h-1zM1059 225h1v1h-1zM1060 225h1v1h-1zM1061 225h1v1h-1zM1062 225h1v1h-1zM1063 224h1v1h-1zM1064 224h1v1h-1zM1065 224h1v1h-1zM1066 225h1v1h-1zM1067 225h1v1h-1zM1068 226h1v1h-1zM1069 226h1v1h-1zM1070 226h1v1h-1zM1071 227h1v1h-1zM1072 227h1v1h-1zM1073 227h1v1h-1zM1074 228h1v1h-1zM1075 228h1v1h-1zM1076 229h1v1h-1zM1077 230h1v1h-1zM1078 230h1v1h-1zM1079 231h1v1h-1zM1080 232h1v1h-1zM1081 233h1v1h-1zM1082 234h1v1h-1zM1083 235h1v1h-1zM1084 236h1v1h-1zM1085 237h1v1h-1zM1086 238h1v2h-1zM1087 240h1v1h-1zM1088 241h1v1h-1zM1089 242h1v1h-1zM1090 243h1v1h-1zM1091 244h1v1h-1zM1092 245h1v1h-1zM1093 246h1v1h-1zM1094 246h1v1h-1zM1095 247h1v1h-1zM1096 248h1v1h-1zM1097 249h1v2h-1zM1098 251h1v2h-1zM1099 253h1v2h-1zM1100 255h1v1h-1zM1101 255h1v1h-1zM1102 255h1v1h-1zM1103 256h1v1h-1zM1104 256h1v1h-1zM1105 257h1v1h-1zM1106 257h1v1h-1zM1107 258h1v1h-1zM1108 259h1v1h-1zM1109 260h1v2h-1zM1110 262h1v1h-1zM1111 263h1v2h-1zM1112 265h1v2h-1zM1113 267h1v2h-1zM1114 269h1v2h-1zM1115 271h1v2h-1zM1116 273h1v3h-1zM1117 276h1v3h-1zM1118 279h1v2h-1zM1119 281h1v3h-1zM1120 284h1v3h-1zM1121 287h1v3h-1zM1122 290h1v2h-1zM1123 292h1v3h-1zM1124 295h1v2h-1zM1125 297h1v2h-1zM1126 299h1v2h-1zM1127 301h1v2h-1zM1128 303h1v1h-1zM1129 304h1v1h-1zM1130 305h1v1h-1zM1131 306h1v1h-1zM1132 307h1v1h-1zM1133 308h1v1h-1zM1134 309h1v1h-1zM1135 310h1v1h-1zM1136 311h1v1h-1zM1137 312h1v1h-1zM1138 313h1v2h-1zM1139 315h1v1h-1zM1140 316h1v1h-1zM1141 317h1v1h-1zM1142 318h1v1h-1zM1143 319h1v1h-1zM1144 320h1v1h-1zM1145 321h1v1h-1zM1146 322h1v2h-1zM1147 324h1v1h-1zM1148 325h1v1h-1zM1149 326h1v1h-1zM1150 327h1v1h-1zM1151 328h1v1h-1zM1152 329h1v1h-1zM1153 329h1v1h-1zM1154 330h1v1h-1zM1155 330h1v1h-1zM1156 331h1v1h-1zM1157 332h1v2h-1zM1158 334h1v1h-1zM1159 335h1v2h-1zM1160 337h1v1h-1zM1161 338h1v2h-1zM1162 340h1v2h-1zM1163 342h1v2h-1zM1164 344h1v1h-1zM1165 345h1v1h-1zM1166 346h1v1h-1zM1167 347h1v1h-1zM1168 348h1v1h-1zM1169 348h1v1h-1zM1170 348h1v1h-1zM1171 348h1v1h-1zM1172 348h1v1h-1zM1173 348h1v1h-1zM1174 347h1v1h-1zM1175 347h1v1h-1zM1176 346h1v1h-1zM1177 345h1v1h-1zM1178 345h1v1h-1zM1179 344h1v1h-1zM1180 343h1v1h-1zM1181 343h1v1h-1zM1182 343h1v1h-1zM1183 343h1v1h-1zM1184 343h1v1h-1zM1185 344h1v1h-1zM1186 344h1v1h-1zM1187 345h1v1h-1zM1188 346h1v1h-1zM1189 346h1v1h-1zM1190 347h1v1h-1zM1191 347h1v1h-1zM1192 348h1v1h-1zM1193 348h1v1h-1zM1194 349h1v1h-1zM1195 349h1v1h-1zM1196 350h1v1h-1zM1197 350h1v1h-1zM1198 351h1v1h-1zM1199 351h1v1h-1zM1200 352h1v1h-1zM1201 352h1v1h-1zM1202 353h1v1h-1zM1203 353h1v1h-1zM1204 354h1v1h-1zM1205 355h1v1h-1zM1206 356h1v1h-1zM1207 357h1v1h-1zM1208 358h1v1h-1zM1209 359h1v1h-1zM1210 360h1v1h-1zM1211 361h1v1h-1zM1212 362h1v1h-1zM1213 363h1v1h-1zM1214 364h1v1h-1zM1215 365h1v1h-1zM1216 366h1v1h-1zM1217 366h1v1h-1zM1218 367h1v1h-1zM1219 367h1v1h-1zM1220 368h1v1h-1zM1221 369h1v1h-1zM1222 369h1v1h-1zM1223 370h1v1h-1zM1224 371h1v1h-1zM1225 372h1v1h-1zM1226 372h1v1h-1zM1227 373h1v1h-1zM1228 374h1v1h-1zM1229 374h1v1h-1zM1230 375h1v1h-1zM1231 375h1v1h-1zM1232 376h1v1h-1zM1233 377h1v1h-1zM1234 378h1v1h-1zM1235 379h1v1h-1zM1236 380h1v1h-1zM1237 380h1v1h-1zM1238 381h1v1h-1zM1239 381h1v1h-1zM1240 382h1v1h-1zM1241 382h1v1h-1zM1242 383h1v1h-1zM1243 383h1v1h-1zM1244 384h1v1h-1zM1245 384h1v1h-1zM1246 385h1v1h-1zM1247 385h1v1h-1zM1248 386h1v1h-1zM1249 387h1v1h-1zM1250 387h1v1h-1zM1251 388h1v1h-1zM1252 389h1v1h-1zM1253 390h1v1h-1zM1254 390h1v1h-1zM1255 391h1v1h-1zM1256 392h1v1h-1zM1257 393h1v1h-1zM1258 394h1v1h-1zM1259 395h1v1h-1zM1260 396h1v1h-1zM1261 397h1v1h-1zM1262 398h1v2h-1zM1263 400h1v1h-1zM1264 401h1v1h-1zM1265 402h1v1h-1zM1266 403h1v2h-1zM1267 405h1v1h-1z" fill="#ff0000"/>
<path d="M4 144h1v1h-1zM5 145h1v2h-1zM6 147h1v2h-1zM7 149h1v2h-1zM8 151h1v1h-1zM9 152h1v1h-1zM10 152h1v1h-1zM11 153h1v1h-1zM12 154h1v1h-1zM13 154h1v1h-1zM14 155h1v1h-1zM15 155h1v1h-1zM16 155h1v2h-1zM17 153h1v2h-1zM18 151h1v2h-1zM19 149h1v2h-1zM20 146h1v3h-1zM21 143h1v3h-1zM22 140h1v3h-1zM23 137h1v3h-1zM24 134h1v3h-1zM25 130h1v4h-1zM26 127h1v3h-1zM27 123h1v4h-1zM28 121h1v2h-1zM29 119h1v2h-1zM30 117h1v2h-1zM31 115h1v2h-1zM32 114h1v1h-1zM33 112h1v2h-1zM34 111h1v1h-1zM35 109h1v2h-1zM36 108h1v1h-1zM37 108h1v1h-1zM38 108h1v1h-1zM39 107h1v1h-1zM40 107h1v1h-1zM41 107h1v1h-1zM42 107h1v1h-1zM43 107h1v1h-1zM44 107h1v2h-1zM45 109h1v3h-1zM46 112h1v4h-1zM47 116h1v3h-1zM48 119h1v3h-1zM49 122h1v3h-1zM50 125h1v2h-1zM51 127h1v3h-1zM52 130h1v4h-1zM53 134h1v5h-1zM54 139h1v5h-1zM55 144h1v5h-1zM56 149h1v4h-1zM57 153h1v4h-1zM58 157h1v3h-1zM59 160h1v4h-1zM60 164h1v5h-1zM61 169h1v6h-1zM62 175h1v6h-1zM63 181h1v6h-1zM64 187h1v5h-1zM65 192h1v2h-1zM66 194h1v2h-1zM67 196h1v2h-1zM68 198h1v2h-1zM69 200h1v3h-1zM70 203h1v3h-1zM71 206h1v3h-1zM72 209h1v2h-1zM73 210h1v1h-1zM74 210h1v1h-1zM75 210h1v1h-1zM76 210h1v2h-1zM77 212h1v2h-1zM78 214h1v2h-1zM79 216h1v2h-1zM80 218h1v2h-1zM81 218h1v1h-1zM82 217h1v1h-1zM83 216h1v1h-1zM84 215h1v1h-1zM85 215h1v1h-1zM86 216h1v1h-1zM87 216h1v1h-1zM88 217h1v1h-1zM89 215h1v2h-1zM90 214h1v1h-1zM91 212h1v2h-1zM92 210h1v2h-1zM93 208h1v2h-1zM94 206h1v2h-1zM95 204h1v2h-1zM96 202h1v2h-1zM97 200h1v2h-1zM98 197h1v3h-1zM99 195h1v2h-1zM100 193h1v2h-1zM101 191h1v2h-1zM102 189h1v2h-1zM103 187h1v2h-1zM104 186h1v1h-1zM105 184h1v2h-1zM106 183h1v1h-1zM107 181h1v2h-1zM108 180h1v1h-1zM109 178h1v2h-1zM110 177h1v1h-1zM111 175h1v2h-1zM112 174h1v1h-1zM113 173h1v1h-1zM114 172h1v1h-1zM115 171h1v1h-1zM116 170h1v1h-1zM117 171h1v1h-1zM118 172h1v1h-1zM119 173h1v1h-1zM120 174h1v1h-1zM121 175h1v2h-1zM122 177h1v2h-1zM123 179h1v2h-1zM124 181h1v1h-1zM125 181h1v1h-1zM126 182h1v1h-1zM127 182h1v1h-1zM128 183h1v1h-1zM129 183h1v1h-1zM130 183h1v1h-1zM131 183h1v1h-1zM132 183h1v1h-1zM133 184h1v1h-1zM134 184h1v1h-1zM135 185h1v1h-1zM136 185h1v2h-1zM137 182h1v3h-1zM138 179h1v3h-1zM139 176h1v3h-1zM140 172h1v4h-1zM141 168h1v4h-1zM142 164h1v4h-1zM143 160h1v4h-1zM144 156h1v4h-1zM145 152h1v4h-1zM146 149h1v3h-1zM147 145h1v4h-1zM148 142h1v3h-1zM149 140h1v2h-1zM150 137h1v3h-1zM151 135h1v2h-1zM152 133h1v2h-1zM153 131h1v2h-1zM154 129h1v2h-1zM155 127h1v2h-1zM156 126h1v1h-1zM157 127h1v1h-1zM158 127h1v1h-1zM159 128h1v1h-1zM160 129h1v1h-1zM161 130h1v1h-1zM162 131h1v1h-1zM163 132h1v1h-1zM164 133h1v1h-1zM165 134h1v1h-1zM166 135h1v1h-1zM167 136h1v1h-1zM168 137h1v1h-1zM169 138h1v1h-1zM170 138h1v1h-1zM171 139h1v1h-1zM172 140h1v1h-1zM173 139h1v1h-1zM174 138h1v1h-1zM175 137h1v1h-1zM176 135h1v2h-1zM177 133h1v2h-1zM178 130h1v3h-1zM179 128h1v2h-1zM180 126h1v2h-1zM181 124h1v2h-1zM182 122h1v2h-1zM183 120h1v2h-1zM184 119h1v1h-1zM185 118h1v1h-1zM186 118h1v1h-1zM187 117h1v1h-1zM188 116h1v1h-1zM189 116h1v1h-1zM190 115h1v1h-1zM191 115h1v1h-1zM192 114h1v1h-1zM193 114h1v1h-1zM194 114h1v1h-1zM195 115h1v1h-1zM196 115h1v1h-1zM197 115h1v1h-1zM198 114h1v1h-1zM199 114h1v1h-1zM200 113h1v1h-1zM201 113h1v1h-1zM202 113h1v1h-1zM203 114h1v1h-1zM204 114h1v1h-1zM205 112h1v2h-1zM206 111h1v1h-1zM207 109h1v2h-1zM208 108h1v1h-1zM209 107h1v1h-1zM210 106h1v1h-1zM211 105h1v1h-1zM212 104h1v1h-1zM213 104h1v1h-1zM214 104h1v1h-1zM215 103h1v1h-1zM216 103h1v1h-1zM217 103h1v1h-1zM218 103h1v1h-1zM219 103h1v1h-1zM220 103h1v1h-1zM221 104h1v1h-1zM222 105h1v1h-1zM223 106h1v1h-1zM224 107h1v2h-1zM225 109h1v2h-1zM226 111h1v2h-1zM227 113h1v2h-1zM228 115h1v1h-1zM229 115h1v1h-1zM230 116h1v1h-1zM231 116h1v1h-1zM232 117h1v1h-1zM233 117h1v1h-1zM234 117h1v1h-1zM235 116h1v1h-1zM236 116h1v1h-1zM237 116h1v1h-1zM238 116h1v1h-1zM239 116h1v1h-1zM240 116h1v1h-1zM241 116h1v1h-1zM242 116h1v1h-1zM243 115h1v1h-1zM244 114h1v2h-1zM245 111h1v3h-1zM246 108h1v3h-1zM247 105h1v3h-1zM248 103h1v2h-1zM249 102h1v1h-1zM250 102h1v1h-1zM251 101h1v1h-1zM252 100h1v1h-1zM253 99h1v1h-1zM254 97h1v2h-1zM255 96h1v1h-1zM256 95h1v1h-1zM257 93h1v2h-1zM258 92h1v1h-1zM259 90h1v2h-1zM260 89h1v1h-1zM261 87h1v2h-1zM262 85h1v2h-1zM263 83h1v2h-1zM264 82h1v1h-1zM265 83h1v1h-1zM266 84h1v1h-1zM267 85h1v1h-1zM268 86h1v1h-1zM269 86h1v1h-1zM270 86h1v1h-1zM271 85h1v1h-1zM272 85h1v1h-1zM273 86h1v1h-1zM274 86h1v1h-1zM275 87h1v1h-1zM276 88h1v1h-1zM277 89h1v1h-1zM278 89h1v1h-1zM279 90h1v1h-1zM280 91h1v1h-1zM281 91h1v1h-1zM282 91h1v1h-1zM283 92h1v1h-1zM284 92h1v1h-1zM285 92h1v1h-1zM286 91h1v1h-1zM287 91h1v1h-1zM288 90h1v1h-1zM289 89h1v1h-1zM290 89h1v1h-1zM291 88h1v1h-1zM292 87h1v1h-1zM293 86h1v1h-1zM294 86h1v1h-1zM295 85h1v1h-1zM296 84h1v1h-1zM297 83h1v1h-1zM298 82h1v1h-1zM299 81h1v1h-1zM300 80h1v1h-1zM301 80h1v1h-1zM302 80h1v1h-1zM303 80h1v1h-1zM304 80h1v2h-1zM305 82h1v2h-1zM306 84h1v3h-1zM307 87h1v2h-1zM308 89h1v3h-1zM309 92h1v3h-1zM310 95h1v4h-1zM311 99h1v3h-1zM312 102h1v3h-1zM313 105h1v3h-1zM314 108h1v4h-1zM315 112h1v3h-1zM316 115h1v3h-1zM317 118h1v3h-1zM318 121h1v4h-1zM319 125h1v3h-1zM320 128h1v3h-1zM321 131h1v2h-1zM322 133h1v2h-1zM323 135h1v2h-1zM324 137h1v1h-1zM325 136h1v1h-1zM326 135h1v1h-1zM327 134h1v1h-1zM328 133h1v1h-1zM329 131h1v2h-1zM330 129h1v2h-1zM331 127h1v2h-1zM332 125h1v2h-1zM333 122h1v3h-1zM334 120h1v2h-1zM335 117h1v3h-1zM336 114h1v3h-1zM337 112h1v2h-1zM338 110h1v2h-1zM339 108h1v2h-1zM340 106h1v2h-1zM341 104h1v2h-1zM342 102h1v2h-1zM343 100h1v2h-1zM344 99h1v1h-1zM345 98h1v1h-1zM346 97h1v1h-1zM347 96h1v1h-1zM348 95h1v1h-1zM349 95h1v1h-1zM350 96h1v1h-1zM351 96h1v1h-1zM352 97h1v2h-1zM353 99h1v2h-1zM354 101h1v2h-1zM355 103h1v2h-1zM356 105h1v2h-1zM357 107h1v2h-1zM358 109h1v3h-1zM359 112h1v2h-1zM360 114h1v3h-1zM361 117h1v3h-1zM362 120h1v3h-1zM363 123h1v3h-1zM364 126h1v3h-1zM365 129h1v2h-1zM366 131h1v2h-1zM367 133h1v2h-1zM368 135h1v1h-1zM369 135h1v1h-1zM370 135h1v1h-1zM371 134h1v1h-1zM372 134h1v1h-1zM373 132h1v2h-1zM374 130h1v2h-1zM375 128h1v2h-1zM376 126h1v2h-1zM377 124h1v2h-1zM378 121h1v3h-1zM379 119h1v2h-1zM380 116h1v3h-1zM381 113h1v3h-1zM382 110h1v3h-1zM383 107h1v3h-1zM384 104h1v3h-1zM385 101h1v3h-1zM386 98h1v3h-1zM387 95h1v3h-1zM388 93h1v2h-1zM389 92h1v1h-1zM390 92h1v1h-1zM391 91h1v1h-1zM392 90h1v1h-1zM393 90h1v1h-1zM394 89h1v1h-1zM395 89h1v1h-1zM396 88h1v1h-1zM397 89h1v1h-1zM398 90h1v2h-1zM399 92h1v1h-1zM400 93h1v2h-1zM401 95h1v2h-1zM402 97h1v3h-1zM403 100h1v2h-1zM404 102h1v3h-1zM405 105h1v2h-1zM406 107h1v2h-1zM407 109h1v2h-1zM408 111h1v2h-1zM409 113h1v1h-1zM410 114h1v2h-1zM411 116h1v1h-1zM412 117h1v2h-1zM413 119h1v2h-1zM414 121h1v2h-1zM415 123h1v2h-1zM416 125h1v1h-1zM417 125h1v1h-1zM418 125h1v1h-1zM419 124h1v1h-1zM420 124h1v1h-1zM421 123h1v1h-1zM422 122h1v1h-1zM423 121h1v1h-1zM424 120h1v1h-1zM425 120h1v1h-1zM426 119h1v1h-1zM427 119h1v1h-1zM428 118h1v1h-1zM429 116h1v2h-1zM430 114h1v2h-1zM431 112h1v2h-1zM432 110h1v2h-1zM433 108h1v2h-1zM434 105h1v3h-1zM435 103h1v2h-1zM436 100h1v3h-1zM437 98h1v2h-1zM438 96h1v2h-1zM439 94h1v2h-1zM440 92h1v2h-1zM441 90h1v2h-1zM442 88h1v2h-1zM443 86h1v2h-1zM444 84h1v2h-1zM445 82h1v2h-1zM446 80h1v2h-1zM447 78h1v2h-1zM448 77h1v1h-1zM449 76h1v1h-1zM450 75h1v1h-1zM451 74h1v1h-1zM452 73h1v1h-1zM453 73h1v1h-1zM454 72h1v1h-1zM455 72h1v1h-1zM456 71h1v1h-1zM457 70h1v1h-1zM458 70h1v1h-1zM459 69h1v1h-1zM460 68h1v1h-1zM461 69h1v2h-1zM462 71h1v1h-1zM463 72h1v2h-1zM464 74h1v2h-1zM465 76h1v4h-1zM466 80h1v3h-1zM467 83h1v4h-1zM468 87h1v3h-1zM469 90h1v3h-1zM470 93h1v2h-1zM471 95h1v3h-1zM472 98h1v3h-1zM473 101h1v3h-1zM474 104h1v3h-1zM475 107h1v3h-1zM476 110h1v3h-1zM477 113h1v2h-1zM478 115h1v3h-1zM479 118h1v2h-1zM480 120h1v2h-1zM481 122h1v1h-1zM482 122h1v1h-1zM483 123h1v1h-1zM484 124h1v1h-1zM485 124h1v1h-1zM486 123h1v1h-1zM487 123h1v1h-1zM488 122h1v1h-1zM489 123h1v1h-1zM490 123h1v1h-1zM491 124h1v1h-1zM492 125h1v1h-1zM493 125h1v1h-1zM494 126h1v1h-1zM495 126h1v1h-1zM496 127h1v1h-1zM497 128h1v1h-1zM498 129h1v2h-1zM499 131h1v1h-1zM500 132h1v2h-1zM501 134h1v2h-1zM502 136h1v2h-1zM503 138h1v2h-1zM504 140h1v1h-1zM505 141h1v1h-1zM506 142h1v2h-1zM507 144h1v1h-1zM508 145h1v1h-1zM509 145h1v1h-1zM510 146h1v1h-1zM511 146h1v1h-1zM512 147h1v2h-1zM513 149h1v2h-1zM514 151h1v2h-1zM515 153h1v2h-1zM516 155h1v1h-1zM517 156h1v2h-1zM518 158h1v1h-1zM519 159h1v2h-1zM520 161h1v1h-1zM521 162h1v1h-1zM522 163h1v2h-1zM523 165h1v1h-1zM524 166h1v1h-1zM525 167h1v1h-1zM526 167h1v1h-1zM527 168h1v1h-1zM528 169h1v1h-1zM529 169h1v1h-1zM530 169h1v1h-1zM531 170h1v1h-1zM532 170h1v1h-1zM533 169h1v1h-1zM534 169h1v1h-1zM535 168h1v1h-1zM536 167h1v1h-1zM537 167h1v1h-1zM538 167h1v1h-1zM539 168h1v1h-1zM540 168h1v1h-1zM541 168h1v1h-1zM542 168h1v1h-1zM543 167h1v1h-1zM544 167h1v1h-1zM545 167h1v1h-1zM546 167h1v1h-1zM547 167h1v1h-1zM548 167h1v1h-1zM549 168h1v2h-1zM550 170h1v2h-1zM551 172h1v2h-1zM552 174h1v2h-1zM553 176h1v2h-1zM554 178h1v3h-1zM555 181h1v2h-1zM556 183h1v3h-1zM557 186h1v3h-1zM558 189h1v4h-1zM559 193h1v3h-1zM560 196h1v3h-1zM561 199h1v3h-1zM562 202h1v3h-1zM563 205h1v3h-1zM564 208h1v3h-1zM565 211h1v4h-1zM566 215h1v4h-1zM567 219h1v4h-1zM568 223h1v3h-1zM569 226h1v2h-1zM570 228h1v2h-1zM571 230h1v2h-1zM572 232h1v1h-1zM573 233h1v1h-1zM574 233h1v1h-1zM575 234h1v1h-1zM576 235h1v1h-1zM577 234h1v1h-1zM578 234h1v1h-1zM579 233h1v1h-1zM580 232h1v1h-1zM581 232h1v1h-1zM582 232h1v1h-1zM583 232h1v1h-1zM584 232h1v1h-1zM585 231h1v1h-1zM586 229h1v2h-1zM587 228h1v1h-1zM588 227h1v1h-1zM589 227h1v1h-1zM590 226h1v1h-1zM591 226h1v1h-1zM592 225h1v1h-1zM593 225h1v1h-1zM594 224h1v1h-1zM595 224h1v1h-1zM596 223h1v1h-1zM597 223h1v1h-1zM598 223h1v1h-1zM599 222h1v1h-1zM600 222h1v1h-1zM601 221h1v1h-1zM602 219h1v2h-1zM603 218h1v1h-1zM604 217h1v1h-1zM605 217h1v1h-1zM606 217h1v1h-1zM607 218h1v1h-1zM608 218h1v1h-1zM609 218h1v1h-1zM610 219h1v1h-1zM611 219h1v1h-1zM612 220h1v2h-1zM613 222h1v2h-1zM614 224h1v2h-1zM615 226h1v2h-1zM616 228h1v2h-1zM617 230h1v2h-1zM618 232h1v3h-1zM619 235h1v2h-1zM620 237h1v2h-1zM621 239h1v1h-1zM622 240h1v2h-1zM623 242h1v1h-1zM624 243h1v1h-1zM625 244h1v1h-1zM626 245h1v2h-1zM627 247h1v1h-1zM628 248h1v1h-1zM629 248h1v1h-1zM630 247h1v1h-1zM631 247h1v1h-1zM632 246h1v1h-1zM633 245h1v1h-1zM634 245h1v1h-1zM635 244h1v1h-1zM636 243h1v1h-1zM637 241h1v2h-1zM638 240h1v1h-1zM639 238h1v2h-1zM640 237h1v1h-1zM641 237h1v1h-1zM642 237h1v1h-1zM643 236h1v1h-1zM644 236h1v1h-1zM645 235h1v1h-1zM646 234h1v1h-1zM647 233h1v1h-1zM648 232h1v1h-1zM649 232h1v1h-1zM650 232h1v1h-1zM651 231h1v1h-1zM652 231h1v1h-1zM653 231h1v1h-1zM654 230h1v1h-1zM655 230h1v1h-1zM656 229h1v1h-1zM657 228h1v1h-1zM658 227h1v1h-1zM659 226h1v1h-1zM660 225h1v1h-1zM661 223h1v2h-1zM662 221h1v2h-1zM663 219h1v2h-1zM664 218h1v1h-1zM665 219h1v1h-1zM666 219h1v1h-1zM667 220h1v1h-1zM668 221h1v1h-1zM669 222h1v2h-1zM670 224h1v2h-1zM671 226h1v2h-1zM672 228h1v1h-1zM673 229h1v2h-1zM674 231h1v2h-1zM675 233h1v2h-1zM676 235h1v2h-1zM677 237h1v2h-1zM678 239h1v2h-1zM679 241h1v2h-1zM680 243h1v2h-1zM681 245h1v2h-1zM682 247h1v1h-1zM683 248h1v2h-1zM684 250h1v1h-1zM685 249h1v1h-1zM686 247h1v2h-1zM687 246h1v1h-1zM688 244h1v2h-1zM689 241h1v3h-1zM690 238h1v3h-1zM691 235h1v3h-1zM692 232h1v3h-1zM693 228h1v4h-1zM694 225h1v3h-1zM695 221h1v4h-1zM696 218h1v3h-1zM697 215h1v3h-1zM698 211h1v4h-1zM699 208h1v3h-1zM700 205h1v3h-1zM701 203h1v2h-1zM702 201h1v2h-1zM703 199h1v2h-1zM704 198h1v1h-1zM705 197h1v1h-1zM706 195h1v2h-1zM707 194h1v1h-1zM708 193h1v1h-1zM709 193h1v1h-1zM710 192h1v1h-1zM711 192h1v1h-1zM712 191h1v1h-1zM713 191h1v1h-1zM714 190h1v1h-1zM715 190h1v1h-1zM716 189h1v1h-1zM717 188h1v1h-1zM718 186h1v2h-1zM719 185h1v1h-1zM720 184h1v1h-1zM721 183h1v1h-1zM722 181h1v2h-1zM723 180h1v1h-1zM724 179h1v1h-1zM725 178h1v1h-1zM726 176h1v2h-1zM727 175h1v1h-1zM728 174h1v1h-1zM729 172h1v2h-1zM730 171h1v1h-1zM731 169h1v2h-1zM732 168h1v1h-1zM733 167h1v1h-1zM734 165h1v2h-1zM735 164h1v1h-1zM736 163h1v1h-1zM737 163h1v1h-1zM738 163h1v1h-1zM739 162h1v1h-1zM740 162h1v1h-1zM741 163h1v1h-1zM742 163h1v1h-1zM743 164h1v1h-1zM744 165h1v1h-1zM745 166h1v1h-1zM746 167h1v2h-1zM747 169h1v1h-1zM748 170h1v1h-1zM749 171h1v1h-1zM750 172h1v1h-1zM751 173h1v1h-1zM752 174h1v2h-1zM753 176h1v2h-1zM754 178h1v2h-1zM755 180h1v2h-1zM756 182h1v1h-1zM757 183h1v1h-1zM758 184h1v2h-1zM759 186h1v1h-1zM760 187h1v2h-1zM761 189h1v2h-1zM762 191h1v2h-1zM763 193h1v2h-1zM764 195h1v3h-1zM765 198h1v3h-1zM766 201h1v2h-1zM767 203h1v3h-1zM768 206h1v3h-1zM769 209h1v3h-1zM770 212h1v4h-1zM771 216h1v3h-1zM772 219h1v4h-1zM773 223h1v5h-1zM774 228h1v4h-1zM775 232h1v5h-1zM776 237h1v6h-1zM777 243h1v6h-1zM778 249h1v6h-1zM779 255h1v6h-1zM780 261h1v5h-1zM781 266h1v4h-1zM782 270h1v4h-1zM783 274h1v4h-1zM784 278h1v5h-1zM785 283h1v5h-1zM786 288h1v5h-1zM787 293h1v5h-1zM788 298h1v6h-1zM789 304h1v8h-1zM790 312h1v8h-1zM791 320h1v8h-1zM792 328h1v7h-1zM793 335h1v6h-1zM794 341h1v6h-1zM795 347h1v6h-1zM796 353h1v7h-1zM797 360h1v7h-1zM798 367h1v8h-1zM799 375h1v7h-1zM800 382h1v7h-1zM801 389h1v6h-1zM802 395h1v6h-1zM803 401h1v6h-1zM804 407h1v5h-1zM805 412h1v3h-1zM806 415h1v4h-1zM807 419h1v3h-1zM808 421h1v3h-1zM809 417h1v4h-1zM810 412h1v5h-1zM811 408h1v4h-1zM812 403h1v5h-1zM813 398h1v5h-1zM814 394h1v4h-1zM815 389h1v5h-1zM816 383h1v6h-1zM817 376h1v7h-1zM818 369h1v7h-1zM819 362h1v7h-1zM820 356h1v6h-1zM821 352h1v4h-1zM822 348h1v4h-1zM823 344h1v4h-1zM824 339h1v5h-1zM825 332h1v7h-1zM826 324h1v8h-1zM827 317h1v7h-1zM828 311h1v6h-1zM829 305h1v6h-1zM830 300h1v5h-1zM831 294h1v6h-1zM832 287h1v7h-1zM833 278h1v9h-1zM834 270h1v8h-1zM835 261h1v9h-1zM836 252h1v9h-1zM837 243h1v9h-1zM838 235h1v8h-1zM839 226h1v9h-1zM840 216h1v10h-1zM841 204h1v12h-1zM842 193h1v11h-1zM843 181h1v12h-1zM844 173h1v8h-1zM845 168h1v5h-1zM846 163h1v5h-1zM847 158h1v5h-1zM848 154h1v4h-1zM849 152h1v2h-1zM850 150h1v2h-1zM851 148h1v2h-1zM852 147h1v1h-1zM853 148h1v2h-1zM854 150h1v2h-1zM855 152h1v2h-1zM856 154h1v4h-1zM857 158h1v6h-1zM858 164h1v6h-1zM859 170h1v6h-1zM860 176h1v7h-1zM861 183h1v9h-1zM862 192h1v10h-1zM863 202h1v9h-1zM864 211h1v9h-1zM865 220h1v8h-1zM866 228h1v8h-1zM867 236h1v8h-1zM868 244h1v7h-1zM869 251h1v6h-1zM870 257h1v5h-1zM871 262h1v6h-1zM872 268h1v5h-1zM873 273h1v4h-1zM874 277h1v5h-1zM875 282h1v4h-1zM876 286h1v3h-1zM877 287h1v1h-1zM878 286h1v1h-1zM879 285h1v1h-1zM880 282h1v3h-1zM881 278h1v4h-1zM882 273h1v5h-1zM883 269h1v4h-1zM884 263h1v6h-1zM885 256h1v7h-1zM886 250h1v6h-1zM887 243h1v7h-1zM888 237h1v6h-1zM889 233h1v4h-1zM890 229h1v4h-1zM891 225h1v4h-1zM892 220h1v5h-1zM893 216h1v4h-1zM894 212h1v4h-1zM895 208h1v4h-1zM896 206h1v2h-1zM897 205h1v1h-1zM898 205h1v1h-1zM899 204h1v1h-1zM900 203h1v1h-1zM901 203h1v1h-1zM902 204h1v1h-1zM903 204h1v1h-1zM904 205h1v2h-1zM905 207h1v3h-1zM906 210h1v3h-1zM907 213h1v3h-1zM908 216h1v3h-1zM909 219h1v3h-1zM910 222h1v4h-1zM911 226h1v3h-1zM912 229h1v3h-1zM913 232h1v3h-1zM914 235h1v4h-1zM915 239h1v3h-1zM916 242h1v2h-1zM917 244h1v1h-1zM918 245h1v1h-1zM919 246h1v1h-1zM920 247h1v2h-1zM921 249h1v3h-1zM922 252h1v2h-1zM923 254h1v3h-1zM924 257h1v2h-1zM925 258h1v1h-1zM926 259h1v1h-1zM927 259h1v1h-1zM928 260h1v1h-1zM929 259h1v1h-1zM930 257h1v2h-1zM931 256h1v1h-1zM932 255h1v1h-1zM933 255h1v1h-1zM934 254h1v1h-1zM935 254h1v1h-1zM936 253h1v1h-1zM937 253h1v1h-1zM938 253h1v1h-1zM939 253h1v1h-1zM940 253h1v1h-1zM941 251h1v2h-1zM942 249h1v2h-1zM943 247h1v2h-1zM944 246h1v1h-1zM945 245h1v1h-1zM946 243h1v2h-1zM947 242h1v1h-1zM948 241h1v1h-1zM949 241h1v1h-1zM950 241h1v1h-1zM951 240h1v1h-1zM952 239h1v2h-1zM953 237h1v2h-1zM954 235h1v2h-1zM955 233h1v2h-1zM956 231h1v2h-1zM957 229h1v2h-1zM958 227h1v2h-1zM959 225h1v2h-1zM960 222h1v3h-1zM961 220h1v2h-1zM962 218h1v2h-1zM963 216h1v2h-1zM964 214h1v2h-1zM965 212h1v2h-1zM966 210h1v2h-1zM967 208h1v2h-1zM968 207h1v1h-1zM969 206h1v1h-1zM970 206h1v1h-1zM971 205h1v1h-1zM972 204h1v1h-1zM973 204h1v1h-1zM974 203h1v1h-1zM975 203h1v1h-1zM976 202h1v2h-1zM977 204h1v2h-1zM978 206h1v2h-1zM979 208h1v2h-1zM980 210h1v4h-1zM981 214h1v4h-1zM982 218h1v4h-1zM983 222h1v4h-1zM984 226h1v4h-1zM985 230h1v4h-1zM986 234h1v4h-1zM987 238h1v4h-1zM988 242h1v3h-1zM989 245h1v3h-1zM990 248h1v2h-1zM991 250h1v3h-1zM992 253h1v2h-1zM993 254h1v1h-1zM994 255h1v1h-1zM995 255h1v1h-1zM996 255h1v2h-1zM997 253h1v2h-1zM998 251h1v2h-1zM999 249h1v2h-1zM1000 246h1v3h-1zM1001 242h1v4h-1zM1002 238h1v4h-1zM1003 234h1v4h-1zM1004 231h1v3h-1zM1005 229h1v2h-1zM1006 227h1v2h-1zM1007 225h1v2h-1zM1008 223h1v2h-1zM1009 221h1v2h-1zM1010 219h1v2h-1zM1011 217h1v2h-1zM1012 216h1v1h-1zM1013 216h1v1h-1zM1014 216h1v1h-1zM1015 216h1v1h-1zM1016 216h1v1h-1zM1017 217h1v2h-1zM1018 219h1v2h-1zM1019 221h1v2h-1zM1020 223h1v1h-1zM1021 224h1v1h-1zM1022 225h1v2h-1zM1023 227h1v1h-1zM1024 228h1v1h-1zM1025 227h1v1h-1zM1026 226h1v1h-1zM1027 225h1v1h-1zM1028 224h1v1h-1zM1029 224h1v1h-1zM1030 223h1v1h-1zM1031 223h1v1h-1zM1032 222h1v1h-1zM1033 222h1v1h-1zM1034 222h1v1h-1zM1035 223h1v1h-1zM1036 223h1v1h-1zM1037 223h1v1h-1zM1038 222h1v1h-1zM1039 222h1v1h-1zM1040 221h1v1h-1zM1041 220h1v1h-1zM1042 220h1v1h-1zM1043 219h1v1h-1zM1044 218h1v2h-1zM1045 220h1v2h-1zM1046 222h1v2h-1zM1047 224h1v2h-1zM1048 226h1v2h-1zM1049 227h1v1h-1zM1050 228h1v1h-1zM1051 228h1v1h-1zM1052 229h1v1h-1zM1053 229h1v1h-1zM1054 229h1v1h-1zM1055 229h1v1h-1zM1056 229h1v1h-1zM1057 229h1v1h-1zM1058 228h1v1h-1zM1059 228h1v1h-1zM1060 227h1v1h-1zM1061 227h1v1h-1zM1062 227h1v1h-1zM1063 228h1v1h-1zM1064 228h1v1h-1zM1065 228h1v1h-1zM1066 227h1v1h-1zM1067 227h1v1h-1zM1068 226h1v1h-1zM1069 226h1v1h-1zM1070 226h1v1h-1zM1071 227h1v1h-1zM1072 227h1v2h-1zM1073 229h1v2h-1zM1074 231h1v2h-1zM1075 233h1v2h-1zM1076 235h1v3h-1zM1077 238h1v3h-1zM1078 241h1v3h-1zM1079 244h1v3h-1zM1080 247h1v3h-1zM1081 250h1v2h-1zM1082 252h1v3h-1zM1083 255h1v2h-1zM1084 257h1v2h-1zM1085 259h1v2h-1zM1086 261h1v1h-1zM1087 262h1v2h-1zM1088 264h1v2h-1zM1089 266h1v2h-1zM1090 268h1v2h-1zM1091 270h1v2h-1zM1092 272h1v1h-1zM1093 273h1v1h-1zM1094 274h1v1h-1zM1095 275h1v1h-1zM1096 276h1v1h-1zM1097 277h1v1h-1zM1098 278h1v2h-1zM1099 280h1v1h-1zM1100 281h1v1h-1zM1101 281h1v1h-1zM1102 281h1v1h-1zM1103 281h1v1h-1zM1104 281h1v1h-1zM1105 281h1v1h-1zM1106 281h1v1h-1zM1107 280h1v1h-1zM1108 280h1v1h-1zM1109 281h1v2h-1zM1110 283h1v1h-1zM1111 284h1v2h-1zM1112 286h1v2h-1zM1113 288h1v4h-1zM1114 292h1v3h-1zM1115 295h1v4h-1zM1116 299h1v3h-1zM1117 302h1v3h-1zM1118 305h1v3h-1zM1119 308h1v3h-1zM1120 311h1v5h-1zM1121 316h1v7h-1zM1122 323h1v6h-1zM1123 329h1v7h-1zM1124 336h1v5h-1zM1125 341h1v3h-1zM1126 344h1v3h-1zM1127 347h1v3h-1zM1128 350h1v2h-1zM1129 352h1v1h-1zM1130 352h1v1h-1zM1131 353h1v1h-1zM1132 354h1v1h-1zM1133 354h1v1h-1zM1134 353h1v1h-1zM1135 353h1v1h-1zM1136 352h1v1h-1zM1137 351h1v1h-1zM1138 349h1v2h-1zM1139 348h1v1h-1zM1140 346h1v2h-1zM1141 342h1v4h-1zM1142 339h1v3h-1zM1143 335h1v4h-1zM1144 333h1v2h-1zM1145 333h1v1h-1zM1146 333h1v1h-1zM1147 334h1v1h-1zM1148 334h1v1h-1zM1149 335h1v1h-1zM1150 335h1v1h-1zM1151 336h1v1h-1zM1152 337h1v1h-1zM1153 337h1v1h-1zM1154 337h1v1h-1zM1155 336h1v1h-1zM1156 336h1v1h-1zM1157 336h1v1h-1zM1158 337h1v1h-1zM1159 337h1v1h-1zM1160 338h1v1h-1zM1161 339h1v2h-1zM1162 341h1v2h-1zM1163 343h1v2h-1zM1164 345h1v1h-1zM1165 346h1v1h-1zM1166 347h1v1h-1zM1167 348h1v1h-1zM1168 349h1v1h-1zM1169 350h1v1h-1zM1170 350h1v1h-1zM1171 351h1v1h-1zM1172 352h1v1h-1zM1173 353h1v1h-1zM1174 354h1v1h-1zM1175 355h1v1h-1zM1176 356h1v1h-1zM1177 356h1v1h-1zM1178 356h1v1h-1zM1179 356h1v1h-1zM1180 356h1v1h-1zM1181 354h1v2h-1zM1182 352h1v2h-1zM1183 350h1v2h-1zM1184 349h1v1h-1zM1185 349h1v1h-1zM1186 349h1v1h-1zM1187 350h1v1h-1zM1188 350h1v1h-1zM1189 351h1v1h-1zM1190 351h1v1h-1zM1191 352h1v1h-1zM1192 353h1v1h-1zM1193 354h1v1h-1zM1194 354h1v1h-1zM1195 355h1v1h-1zM1196 356h1v1h-1zM1197 357h1v1h-1zM1198 357h1v1h-1zM1199 358h1v1h-1zM1200 359h1v1h-1zM1201 360h1v2h-1zM1202 362h1v1h-1zM1203 363h1v2h-1zM1204 365h1v1h-1zM1205 366h1v1h-1zM1206 367h1v2h-1zM1207 369h1v1h-1zM1208 370h1v1h-1zM1209 371h1v1h-1zM1210 372h1v2h-1zM1211 374h1v1h-1zM1212 375h1v2h-1zM1213 377h1v2h-1zM1214 379h1v2h-1zM1215 381h1v2h-1zM1216 383h1v1h-1zM1217 384h1v2h-1zM1218 386h1v1h-1zM1219 387h1v2h-1zM1220 389h1v1h-1zM1221 390h1v2h-1zM1222 392h1v1h-1zM1223 393h1v2h-1zM1224 395h1v1h-1zM1225 395h1v1h-1zM1226 395h1v1h-1zM1227 395h1v1h-1zM1228 395h1v1h-1zM1229 395h1v1h-1zM1230 395h1v1h-1zM1231 395h1v1h-1zM1232 395h1v1h-1zM1233 395h1v1h-1zM1234 395h1v1h-1zM1235 395h1v1h-1zM1236 395h1v1h-1zM1237 394h1v1h-1zM1238 393h1v1h-1zM1239 392h1v1h-1zM1240 391h1v1h-1zM1241 390h1v1h-1zM1242 389h1v1h-1zM1243 388h1v1h-1zM1244 387h1v1h-1zM1245 388h1v1h-1zM1246 388h1v1h-1zM1247 389h1v1h-1zM1248 390h1v1h-1zM1249 391h1v1h-1zM1250 391h1v1h-1zM1251 392h1v1h-1zM1252 393h1v1h-1zM1253 393h1v1h-1zM1254 393h1v1h-1zM1255 392h1v1h-1zM1256 392h1v2h-1zM1257 394h1v3h-1zM1258 397h1v2h-1zM1259 399h1v3h-1zM1260 402h1v4h-1zM1261 406h1v4h-1zM1262 410h1v4h-1zM1263 414h1v4h-1zM1264 418h1v3h-1zM1265 421h1v3h-1zM1266 424h1v2h-1zM1267 426h1v3h-1zM1268 429h1v1h-1z" fill="#ffa500"/>
<rect x="4" y="172" width="1592" height="2" fill="#ff0000"/>
<rect x="3" y="170" width="6" height="6" fill="#ff0000"/>
<rect x="5" y="172" width="2" height="2" fill="#fff"/>
<rect x="1590" y="170" width="6" height="6" fill="#ff0000"/>
<rect x="1592" y="172" width="2" height="2" fill="#fff"/>
<rect x="4" y="239" width="1592" height="2" fill="#ff0000"/>
<rect x="4" y="297" width="1592" height="2" fill="#ff0000"/>
<rect x="3" y="295" width="6" height="6" fill="#ff0000"/>
<rect x="5" y="297" width="2" height="2" fill="#fff"/>
<rect x="1590" y="295" width="6" height="6" fill="#ff0000"/>
<rect x="1592" y="297" width="2" height="2" fill="#fff"/>
<rect x="4" y="372" width="1592" height="2" fill="#00ff00"/>
<rect x="3" y="370" width="6" height="6" fill="#00ff00"/>
<rect x="5" y="372" width="2" height="2" fill="#fff"/>
<rect x="1590" y="370" width="6" height="6" fill="#00ff00"/>
<rect x="1592" y="372" width="2" height="2" fill="#fff"/>
<rect x="4" y="450" width="1592" height="2" fill="#0000ff"/>
<rect x="3" y="448" width="6" height="6" fill="#0000ff"/>
<rect x="5" y="450" width="2" height="2" fill="#fff"/>
<rect x="1590" y="448" width="6" height="6" fill="#0000ff"/>
<rect x="1592" y="450" width="2" height="2" fill="#fff"/>
<rect x="4" y="518" width="1592" height="2" fill="#0000ff"/>
<rect x="3" y="516" width="6" height="6" fill="#0000ff"/>
<rect x="5" y="518" width="2" height="2" fill="#fff"/>
<rect x="1590" y="516" width="6" height="6" fill="#0000ff"/>
<rect x="1592" y="518" width="2" height="2" fill="#fff"/>
<rect x="1597" y="31" width="2" height="1" fill="#000"/>
<text x="1602.0" y="35" font-size="10" fill="#000" stroke="#000" stroke-width="0.15" textLength="34.2" lengthAdjust="spacingAndGlyphs">1.00570</text>
<rect x="1597" y="64" width="2" height="1" fill="#000"/>
<text x="1602.0" y="68" font-size="10" fill="#000" stroke="#000" stroke-width="0.15" textLength="34.2" lengthAdjust="spacingAndGlyphs">0.99970</text>
<rect x="1597" y="97" width="2" height="1" fill="#000"/>
<text x="1602.0" y="101" font-size="10" fill="#000" stroke="#000" stroke-width="0.15" textLength="34.2" lengthAdjust="spacingAndGlyphs">0.99385</text>
<rect x="1597" y="130" width="2" height="1" fill="#000"/>
<text x="1602.0" y="134" font-size="10" fill="#000" stroke="#000" stroke-width="0.15" textLength="34.2" lengthAdjust="spacingAndGlyphs">0.98785</text>
<rect x="1597" y="163" width="2" height="1" fill="#000"/>
<text x="1602.0" y="167" font-size="10" fill="#000" stroke="#000" stroke-width="0.15" textLength="34.2" lengthAdjust="spacingAndGlyphs">0.98185</text>
<rect x="1597" y="196" width="2" height="1" fill="#000"/>
<text x="1602.0" y="200" font-size="10" fill="#000" stroke="#000" stroke-width="0.15" textLength="34.2" lengthAdjust="spacingAndGlyphs">0.97600</text>
<rect x="1597" y="229" width="2" height="1" fill="#000"/>
<text x="1602.0" y="233" font-size="10" fill="#000" stroke="#000" stroke-width="0.15" textLength="34.2" lengthAdjust="spacingAndGlyphs">0.97000</text>
<rect x="1597" y="262" width="2" height="1" fill="#000"/>
<text x="1602.0" y="266" font-size="10" fill="#000" stroke="#000" stroke-width="0.15" textLength="34.2" lengthAdjust="spacingAndGlyphs">0.96400</text>
<rect x="1597" y="295" width="2" height="1" fill="#000"/>
<text x="1602.0" y="299" font-size="10" fill="#000" stroke="#000" stroke-width="0.15" textLength="34.2" lengthAdjust="spacingAndGlyphs">0.95800</text>
<rect x="1597" y="328" width="2" height="1" fill="#000"/>
<text x="1602.0" y="332" font-size="10" fill="#000" stroke="#000" stroke-width="0.15" textLength="34.2" lengthAdjust="spacingAndGlyphs">0.95215</text>
<rect x="1597" y="361" width="2" height="1" fill="#000"/>
<text x="1602.0" y="365" font-size="10" fill="#000" stroke="#000" stroke-width="0.15" textLength="34.2" lengthAdjust="spacingAndGlyphs">0.94615</text>
<rect x="1597" y="394" width="2" height="1" fill="#000"/>
<text x="1602.0" y="398" font-size="10" fill="#000" stroke="#000" stroke-width="0.15" textLength="34.2" lengthAdjust="spacingAndGlyphs">0.94030</text>
<rect x="1597" y="427" width="2" height="1" fill="#000"/>
<text x="1602.0" y="431" font-size="10" fill="#000" stroke="#000" stroke-width="0.15" textLength="34.2" lengthAdjust="spacingAndGlyphs">0.93430</text>
<rect x="1597" y="460" width="2" height="1" fill="#000"/>
<text x="1602.0" y="464" font-size="10" fill="#000" stroke="#000" stroke-width="0.15" textLength="34.2" lengthAdjust="spacingAndGlyphs">0.92830</text>
<rect x="1597" y="493" width="2" height="1" fill="#000"/>
<text x="1602.0" y="497" font-size="10" fill="#000" stroke="#000" stroke-width="0.15" textLength="34.2" lengthAdjust="spacingAndGlyphs">0.92245</text>
<rect x="1597" y="526" width="2" height="1" fill="#000"/>
<text x="1602.0" y="530" font-size="10" fill="#000" stroke="#000" stroke-width="0.15" textLength="34.2" lengthAdjust="spacingAndGlyphs">0.91645</text>
<rect x="1598" y="450" width="34" height="11" fill="#000"/>
<rect x="1597" y="460" width="1" height="1" fill="#000"/>
<text x="1602.0" y="459" font-size="10" fill="#fff" stroke="#fff" stroke-width="0.15" textLength="34.2" lengthAdjust="spacingAndGlyphs">0.92923</text>
<rect x="1598" y="167" width="34" height="11" fill="#ff0000"/>
<text x="1602.0" y="176" font-size="10" fill="#fff" stroke="#fff" stroke-width="0.15" textLength="34.2" lengthAdjust="spacingAndGlyphs">0.98000</text>
<rect x="1598" y="234" width="34" height="11" fill="#ff0000"/>
<text x="1602.0" y="243" font-size="10" fill="#fff" stroke="#fff" stroke-width="0.15" textLength="34.2" lengthAdjust="spacingAndGlyphs">0.96803</text>
<rect x="1598" y="292" width="34" height="11" fill="#ff0000"/>
<text x="1602.0" y="301" font-size="10" fill="#fff" stroke="#fff" stroke-width="0.15" textLength="34.2" lengthAdjust="spacingAndGlyphs">0.95750</text>
<rect x="1598" y="367" width="34" height="11" fill="#00ff00"/>
<text x="1602.0" y="376" font-size="10" fill="#fff" stroke="#fff" stroke-width="0.15" textLength="34.2" lengthAdjust="spacingAndGlyphs">0.94400</text>
<rect x="1598" y="445" width="34" height="11" fill="#0000ff"/>
<text x="1602.0" y="454" font-size="10" fill="#fff" stroke="#fff" stroke-width="0.15" textLength="34.2" lengthAdjust="spacingAndGlyphs">0.93004</text>
<rect x="1598" y="513" width="34" height="11" fill="#0000ff"/>
<text x="1602.0" y="522" font-size="10" fill="#fff" stroke="#fff" stroke-width="0.15" textLength="34.2" lengthAdjust="spacingAndGlyphs">0.91780</text>
<path d="M7 30h7v1h-1v1h-1v1h-1v1h-1v-1h-1v-1h-1v-1h-1z" fill="#000"/>
<text x="19" y="35" font-size="10" fill="#000" stroke="#000" stroke-width="0.15" textLength="64.8" lengthAdjust="spacingAndGlyphs">USDCHF,Daily</text>
<text x="89.3" y="35" font-size="10" fill="#000" stroke="#000" stroke-width="0.15" textLength="142" lengthAdjust="spacingAndGlyphs">0.92877 0.92998 0.92859 0.92923</text>
<text x="7.8" y="544" font-size="10" fill="#000" stroke="#000" stroke-width="0.15" textLength="68.5" lengthAdjust="spacingAndGlyphs">RSI(14) 29.3976</text>
<text x="7.8" y="638" font-size="10" fill="#000" stroke="#000" stroke-width="0.15" textLength="154.6" lengthAdjust="spacingAndGlyphs">MACD(12,26,9) -0.004457 -0.003498</text>
<path d="M5 559h3v1h-3zM11 559h3v1h-3zM17 559h3v1h-3zM23 559h3v1h-3zM29 559h3v1h-3zM35 559h3v1h-3zM41 559h3v1h-3zM47 559h3v1h-3zM53 559h3v1h-3zM59 559h3v1h-3zM65 559h3v1h-3zM71 559h3v1h-3zM77 559h3v1h-3zM83 559h3v1h-3zM89 559h3v1h-3zM95 559h3v1h-3zM101 559h3v1h-3zM107 559h3v1h-3zM113 559h3v1h-3zM119 559h3v1h-3zM125 559h3v1h-3zM131 559h3v1h-3zM137 559h3v1h-3zM143 559h3v1h-3zM149 559h3v1h-3zM155 559h3v1h-3zM161 559h3v1h-3zM167 559h3v1h-3zM173 559h3v1h-3zM179 559h3v1h-3zM185 559h3v1h-3zM191 559h3v1h-3zM197 559h3v1h-3zM203 559h3v1h-3zM209 559h3v1h-3zM215 559h3v1h-3zM221 559h3v1h-3zM227 559h3v1h-3zM233 559h3v1h-3zM239 559h3v1h-3zM245 559h3v1h-3zM251 559h3v1h-3zM257 559h3v1h-3zM263 559h3v1h-3zM269 559h3v1h-3zM275 559h3v1h-3zM281 559h3v1h-3zM287 559h3v1h-3zM293 559h3v1h-3zM299 559h3v1h-3zM305 559h3v1h-3zM311 559h3v1h-3zM317 559h3v1h-3zM323 559h3v1h-3zM329 559h3v1h-3zM335 559h3v1h-3zM341 559h3v1h-3zM347 559h3v1h-3zM353 559h3v1h-3zM359 559h3v1h-3zM365 559h3v1h-3zM371 559h3v1h-3zM377 559h3v1h-3zM383 559h3v1h-3zM389 559h3v1h-3zM395 559h3v1h-3zM401 559h3v1h-3zM407 559h3v1h-3zM413 559h3v1h-3zM419 559h3v1h-3zM425 559h3v1h-3zM431 559h3v1h-3zM437 559h3v1h-3zM443 559h3v1h-3zM449 559h3v1h-3zM455 559h3v1h-3zM461 559h3v1h-3zM467 559h3v1h-3zM473 559h3v1h-3zM479 559h3v1h-3zM485 559h3v1h-3zM491 559h3v1h-3zM497 559h3v1h-3zM503 559h3v1h-3zM509 559h3v1h-3zM515 559h3v1h-3zM521 559h3v1h-3zM527 559h3v1h-3zM533 559h3v1h-3zM539 559h3v1h-3zM545 559h3v1h-3zM551 559h3v1h-3zM557 559h3v1h-3zM563 559h3v1h-3zM569 559h3v1h-3zM575 559h3v1h-3zM581 559h3v1h-3zM587 559h3v1h-3zM593 559h3v1h-3zM599 559h3v1h-3zM605 559h3v1h-3zM611 559h3v1h-3zM617 559h3v1h-3zM623 559h3v1h-3zM629 559h3v1h-3zM635 559h3v1h-3zM641 559h3v1h-3zM647 559h3v1h-3zM653 559h3v1h-3zM659 559h3v1h-3zM665 559h3v1h-3zM671 559h3v1h-3zM677 559h3v1h-3zM683 559h3v1h-3zM689 559h3v1h-3zM695 559h3v1h-3zM701 559h3v1h-3zM707 559h3v1h-3zM713 559h3v1h-3zM719 559h3v1h-3zM725 559h3v1h-3zM731 559h3v1h-3zM737 559h3v1h-3zM743 559h3v1h-3zM749 559h3v1h-3zM755 559h3v1h-3zM761 559h3v1h-3zM767 559h3v1h-3zM773 559h3v1h-3zM779 559h3v1h-3zM785 559h3v1h-3zM791 559h3v1h-3zM797 559h3v1h-3zM803 559h3v1h-3zM809 559h3v1h-3zM815 559h3v1h-3zM821 559h3v1h-3zM827 559h3v1h-3zM833 559h3v1h-3zM839 559h3v1h-3zM845 559h3v1h-3zM851 559h3v1h-3zM857 559h3v1h-3zM863 559h3v1h-3zM869 559h3v1h-3zM875 559h3v1h-3zM881 559h3v1h-3zM887 559h3v1h-3zM893 559h3v1h-3zM899 559h3v1h-3zM905 559h3v1h-3zM911 559h3v1h-3zM917 559h3v1h-3zM923 559h3v1h-3zM929 559h3v1h-3zM935 559h3v1h-3zM941 559h3v1h-3zM947 559h3v1h-3zM953 559h3v1h-3zM959 559h3v1h-3zM965 559h3v1h-3zM971 559h3v1h-3zM977 559h3v1h-3zM983 559h3v1h-3zM989 559h3v1h-3zM995 559h3v1h-3zM1001 559h3v1h-3zM1007 559h3v1h-3zM1013 559h3v1h-3zM1019 559h3v1h-3zM1025 559h3v1h-3zM1031 559h3v1h-3zM1037 559h3v1h-3zM1043 559h3v1h-3zM1049 559h3v1h-3zM1055 559h3v1h-3zM1061 559h3v1h-3zM1067 559h3v1h-3zM1073 559h3v1h-3zM1079 559h3v1h-3zM1085 559h3v1h-3zM1091 559h3v1h-3zM1097 559h3v1h-3zM1103 559h3v1h-3zM1109 559h3v1h-3zM1115 559h3v1h-3zM1121 559h3v1h-3zM1127 559h3v1h-3zM1133 559h3v1h-3zM1139 559h3v1h-3zM1145 559h3v1h-3zM1151 559h3v1h-3zM1157 559h3v1h-3zM1163 559h3v1h-3zM1169 559h3v1h-3zM1175 559h3v1h-3zM1181 559h3v1h-3zM1187 559h3v1h-3zM1193 559h3v1h-3zM1199 559h3v1h-3zM1205 559h3v1h-3zM1211 559h3v1h-3zM1217 559h3v1h-3zM1223 559h3v1h-3zM1229 559h3v1h-3zM1235 559h3v1h-3zM1241 559h3v1h-3zM1247 559h3v1h-3zM1253 559h3v1h-3zM1259 559h3v1h-3zM1265 559h3v1h-3zM1271 559h3v1h-3zM1277 559h3v1h-3zM1283 559h3v1h-3zM1289 559h3v1h-3zM1295 559h3v1h-3zM1301 559h3v1h-3zM1307 559h3v1h-3zM1313 559h3v1h-3zM1319 559h3v1h-3zM1325 559h3v1h-3zM1331 559h3v1h-3zM1337 559h3v1h-3zM1343 559h3v1h-3zM1349 559h3v1h-3zM1355 559h3v1h-3zM1361 559h3v1h-3zM1367 559h3v1h-3zM1373 559h3v1h-3zM1379 559h3v1h-3zM1385 559h3v1h-3zM1391 559h3v1h-3zM1397 559h3v1h-3zM1403 559h3v1h-3zM1409 559h3v1h-3zM1415 559h3v1h-3zM1421 559h3v1h-3zM1427 559h3v1h-3zM1433 559h3v1h-3zM1439 559h3v1h-3zM1445 559h3v1h-3zM1451 559h3v1h-3zM1457 559h3v1h-3zM1463 559h3v1h-3zM1469 559h3v1h-3zM1475 559h3v1h-3zM1481 559h3v1h-3zM1487 559h3v1h-3zM1493 559h3v1h-3zM1499 559h3v1h-3zM1505 559h3v1h-3zM1511 559h3v1h-3zM1517 559h3v1h-3zM1523 559h3v1h-3zM1529 559h3v1h-3zM1535 559h3v1h-3zM1541 559h3v1h-3zM1547 559h3v1h-3zM1553 559h3v1h-3zM1559 559h3v1h-3zM1565 559h3v1h-3zM1571 559h3v1h-3zM1577 559h3v1h-3zM1583 559h3v1h-3zM1589 559h3v1h-3zM1595 559h3v1h-3z" fill="#c0c0c0"/>
<path d="M5 595h3v1h-3zM11 595h3v1h-3zM17 595h3v1h-3zM23 595h3v1h-3zM29 595h3v1h-3zM35 595h3v1h-3zM41 595h3v1h-3zM47 595h3v1h-3zM53 595h3v1h-3zM59 595h3v1h-3zM65 595h3v1h-3zM71 595h3v1h-3zM77 595h3v1h-3zM83 595h3v1h-3zM89 595h3v1h-3zM95 595h3v1h-3zM101 595h3v1h-3zM107 595h3v1h-3zM113 595h3v1h-3zM119 595h3v1h-3zM125 595h3v1h-3zM131 595h3v1h-3zM137 595h3v1h-3zM143 595h3v1h-3zM149 595h3v1h-3zM155 595h3v1h-3zM161 595h3v1h-3zM167 595h3v1h-3zM173 595h3v1h-3zM179 595h3v1h-3zM185 595h3v1h-3zM191 595h3v1h-3zM197 595h3v1h-3zM203 595h3v1h-3zM209 595h3v1h-3zM215 595h3v1h-3zM221 595h3v1h-3zM227 595h3v1h-3zM233 595h3v1h-3zM239 595h3v1h-3zM245 595h3v1h-3zM251 595h3v1h-3zM257 595h3v1h-3zM263 595h3v1h-3zM269 595h3v1h-3zM275 595h3v1h-3zM281 595h3v1h-3zM287 595h3v1h-3zM293 595h3v1h-3zM299 595h3v1h-3zM305 595h3v1h-3zM311 595h3v1h-3zM317 595h3v1h-3zM323 595h3v1h-3zM329 595h3v1h-3zM335 595h3v1h-3zM341 595h3v1h-3zM347 595h3v1h-3zM353 595h3v1h-3zM359 595h3v1h-3zM365 595h3v1h-3zM371 595h3v1h-3zM377 595h3v1h-3zM383 595h3v1h-3zM389 595h3v1h-3zM395 595h3v1h-3zM401 595h3v1h-3zM407 595h3v1h-3zM413 595h3v1h-3zM419 595h3v1h-3zM425 595h3v1h-3zM431 595h3v1h-3zM437 595h3v1h-3zM443 595h3v1h-3zM449 595h3v1h-3zM455 595h3v1h-3zM461 595h3v1h-3zM467 595h3v1h-3zM473 595h3v1h-3zM479 595h3v1h-3zM485 595h3v1h-3zM491 595h3v1h-3zM497 595h3v1h-3zM503 595h3v1h-3zM509 595h3v1h-3zM515 595h3v1h-3zM521 595h3v1h-3zM527 595h3v1h-3zM533 595h3v1h-3zM539 595h3v1h-3zM545 595h3v1h-3zM551 595h3v1h-3zM557 595h3v1h-3zM563 595h3v1h-3zM569 595h3v1h-3zM575 595h3v1h-3zM581 595h3v1h-3zM587 595h3v1h-3zM593 595h3v1h-3zM599 595h3v1h-3zM605 595h3v1h-3zM611 595h3v1h-3zM617 595h3v1h-3zM623 595h3v1h-3zM629 595h3v1h-3zM635 595h3v1h-3zM641 595h3v1h-3zM647 595h3v1h-3zM653 595h3v1h-3zM659 595h3v1h-3zM665 595h3v1h-3zM671 595h3v1h-3zM677 595h3v1h-3zM683 595h3v1h-3zM689 595h3v1h-3zM695 595h3v1h-3zM701 595h3v1h-3zM707 595h3v1h-3zM713 595h3v1h-3zM719 595h3v1h-3zM725 595h3v1h-3zM731 595h3v1h-3zM737 595h3v1h-3zM743 595h3v1h-3zM749 595h3v1h-3zM755 595h3v1h-3zM761 595h3v1h-3zM767 595h3v1h-3zM773 595h3v1h-3zM779 595h3v1h-3zM785 595h3v1h-3zM791 595h3v1h-3zM797 595h3v1h-3zM803 595h3v1h-3zM809 595h3v1h-3zM815 595h3v1h-3zM821 595h3v1h-3zM827 595h3v1h-3zM833 595h3v1h-3zM839 595h3v1h-3zM845 595h3v1h-3zM851 595h3v1h-3zM857 595h3v1h-3zM863 595h3v1h-3zM869 595h3v1h-3zM875 595h3v1h-3zM881 595h3v1h-3zM887 595h3v1h-3zM893 595h3v1h-3zM899 595h3v1h-3zM905 595h3v1h-3zM911 595h3v1h-3zM917 595h3v1h-3zM923 595h3v1h-3zM929 595h3v1h-3zM935 595h3v1h-3zM941 595h3v1h-3zM947 595h3v1h-3zM953 595h3v1h-3zM959 595h3v1h-3zM965 595h3v1h-3zM971 595h3v1h-3zM977 595h3v1h-3zM983 595h3v1h-3zM989 595h3v1h-3zM995 595h3v1h-3zM1001 595h3v1h-3zM1007 595h3v1h-3zM1013 595h3v1h-3zM1019 595h3v1h-3zM1025 595h3v1h-3zM1031 595h3v1h-3zM1037 595h3v1h-3zM1043 595h3v1h-3zM1049 595h3v1h-3zM1055 595h3v1h-3zM1061 595h3v1h-3zM1067 595h3v1h-3zM1073 595h3v1h-3zM1079 595h3v1h-3zM1085 595h3v1h-3zM1091 595h3v1h-3zM1097 595h3v1h-3zM1103 595h3v1h-3zM1109 595h3v1h-3zM1115 595h3v1h-3zM1121 595h3v1h-3zM1127 595h3v1h-3zM1133 595h3v1h-3zM1139 595h3v1h-3zM1145 595h3v1h-3zM1151 595h3v1h-3zM1157 595h3v1h-3zM1163 595h3v1h-3zM1169 595h3v1h-3zM1175 595h3v1h-3zM1181 595h3v1h-3zM1187 595h3v1h-3zM1193 595h3v1h-3zM1199 595h3v1h-3zM1205 595h3v1h-3zM1211 595h3v1h-3zM1217 595h3v1h-3zM1223 595h3v1h-3zM1229 595h3v1h-3zM1235 595h3v1h-3zM1241 595h3v1h-3zM1247 595h3v1h-3zM1253 595h3v1h-3zM1259 595h3v1h-3zM1265 595h3v1h-3zM1271 595h3v1h-3zM1277 595h3v1h-3zM1283 595h3v1h-3zM1289 595h3v1h-3zM1295 595h3v1h-3zM1301 595h3v1h-3zM1307 595h3v1h-3zM1313 595h3v1h-3zM1319 595h3v1h-3zM1325 595h3v1h-3zM1331 595h3v1h-3zM1337 595h3v1h-3zM1343 595h3v1h-3zM1349 595h3v1h-3zM1355 595h3v1h-3zM1361 595h3v1h-3zM1367 595h3v1h-3zM1373 595h3v1h-3zM1379 595h3v1h-3zM1385 595h3v1h-3zM1391 595h3v1h-3zM1397 595h3v1h-3zM1403 595h3v1h-3zM1409 595h3v1h-3zM1415 595h3v1h-3zM1421 595h3v1h-3zM1427 595h3v1h-3zM1433 595h3v1h-3zM1439 595h3v1h-3zM1445 595h3v1h-3zM1451 595h3v1h-3zM1457 595h3v1h-3zM1463 595h3v1h-3zM1469 595h3v1h-3zM1475 595h3v1h-3zM1481 595h3v1h-3zM1487 595h3v1h-3zM1493 595h3v1h-3zM1499 595h3v1h-3zM1505 595h3v1h-3zM1511 595h3v1h-3zM1517 595h3v1h-3zM1523 595h3v1h-3zM1529 595h3v1h-3zM1535 595h3v1h-3zM1541 595h3v1h-3zM1547 595h3v1h-3zM1553 595h3v1h-3zM1559 595h3v1h-3zM1565 595h3v1h-3zM1571 595h3v1h-3zM1577 595h3v1h-3zM1583 595h3v1h-3zM1589 595h3v1h-3zM1595 595h3v1h-3z" fill="#c0c0c0"/>
<path d="M4 584h1v1h-1zM5 584h1v1h-1zM6 585h1v1h-1zM7 585h1v1h-1zM8 586h1v1h-1zM9 585h1v1h-1zM10 583h1v2h-1zM11 582h1v1h-1zM12 581h1v1h-1zM13 581h1v1h-1zM14 580h1v1h-1zM15 580h1v1h-1zM16 579h1v1h-1zM17 578h1v1h-1zM18 576h1v2h-1zM19 575h1v1h-1zM20 574h1v1h-1zM21 573h1v1h-1zM22 571h1v2h-1zM23 570h1v1h-1zM24 569h1v1h-1zM25 569h1v1h-1zM26 569h1v1h-1zM27 568h1v1h-1zM28 568h1v1h-1zM29 569h1v1h-1zM30 570h1v1h-1zM31 571h1v1h-1zM32 572h1v1h-1zM33 572h1v1h-1zM34 573h1v1h-1zM35 573h1v1h-1zM36 574h1v1h-1zM37 574h1v1h-1zM38 574h1v1h-1zM39 574h1v1h-1zM40 574h1v1h-1zM41 573h1v1h-1zM42 571h1v2h-1zM43 570h1v1h-1zM44 569h1v3h-1zM45 572h1v4h-1zM46 576h1v4h-1zM47 580h1v4h-1zM48 584h1v2h-1zM49 585h1v1h-1zM50 585h1v1h-1zM51 585h1v1h-1zM52 585h1v2h-1zM53 587h1v2h-1zM54 589h1v2h-1zM55 591h1v2h-1zM56 592h1v2h-1zM57 590h1v2h-1zM58 588h1v2h-1zM59 586h1v2h-1zM60 585h1v1h-1zM61 586h1v2h-1zM62 588h1v2h-1zM63 590h1v2h-1zM64 592h1v1h-1zM65 590h1v2h-1zM66 589h1v1h-1zM67 587h1v2h-1zM68 586h1v1h-1zM69 587h1v1h-1zM70 587h1v1h-1zM71 588h1v1h-1zM72 589h1v1h-1zM73 589h1v1h-1zM74 589h1v1h-1zM75 588h1v1h-1zM76 588h1v1h-1zM77 588h1v1h-1zM78 588h1v1h-1zM79 589h1v1h-1zM80 589h1v1h-1zM81 588h1v1h-1zM82 586h1v2h-1zM83 585h1v1h-1zM84 584h1v1h-1zM85 584h1v1h-1zM86 585h1v1h-1zM87 585h1v1h-1zM88 586h1v1h-1zM89 585h1v1h-1zM90 584h1v1h-1zM91 583h1v1h-1zM92 582h1v1h-1zM93 581h1v1h-1zM94 580h1v1h-1zM95 579h1v1h-1zM96 578h1v1h-1zM97 578h1v1h-1zM98 579h1v1h-1zM99 579h1v1h-1zM100 580h1v1h-1zM101 579h1v1h-1zM102 579h1v1h-1zM103 578h1v1h-1zM104 577h1v1h-1zM105 577h1v1h-1zM106 578h1v1h-1zM107 578h1v1h-1zM108 579h1v1h-1zM109 578h1v1h-1zM110 578h1v1h-1zM111 577h1v1h-1zM112 576h1v1h-1zM113 576h1v1h-1zM114 575h1v1h-1zM115 575h1v1h-1zM116 574h1v2h-1zM117 576h1v2h-1zM118 578h1v2h-1zM119 580h1v2h-1zM120 582h1v2h-1zM121 583h1v1h-1zM122 583h1v1h-1zM123 583h1v1h-1zM124 583h1v1h-1zM125 582h1v1h-1zM126 581h1v1h-1zM127 580h1v1h-1zM128 579h1v1h-1zM129 578h1v1h-1zM130 578h1v1h-1zM131 577h1v1h-1zM132 576h1v1h-1zM133 576h1v1h-1zM134 576h1v1h-1zM135 576h1v1h-1zM136 576h1v1h-1zM137 575h1v1h-1zM138 574h1v1h-1zM139 573h1v1h-1zM140 572h1v1h-1zM141 571h1v1h-1zM142 570h1v1h-1zM143 569h1v1h-1zM144 568h1v1h-1zM145 568h1v1h-1zM146 568h1v1h-1zM147 567h1v1h-1zM148 567h1v1h-1zM149 567h1v1h-1zM150 567h1v1h-1zM151 568h1v1h-1zM152 568h1v1h-1zM153 569h1v1h-1zM154 570h1v1h-1zM155 571h1v1h-1zM156 572h1v1h-1zM157 573h1v2h-1zM158 575h1v1h-1zM159 576h1v2h-1zM160 578h1v1h-1zM161 577h1v1h-1zM162 575h1v2h-1zM163 574h1v1h-1zM164 573h1v1h-1zM165 573h1v1h-1zM166 573h1v1h-1zM167 573h1v1h-1zM168 573h1v1h-1zM169 573h1v1h-1zM170 573h1v1h-1zM171 572h1v1h-1zM172 572h1v1h-1zM173 571h1v1h-1zM174 571h1v1h-1zM175 570h1v1h-1zM176 569h1v1h-1zM177 569h1v1h-1zM178 569h1v1h-1zM179 569h1v1h-1zM180 569h1v1h-1zM181 569h1v1h-1zM182 568h1v1h-1zM183 568h1v1h-1zM184 567h1v1h-1zM185 568h1v2h-1zM186 570h1v1h-1zM187 571h1v2h-1zM188 573h1v1h-1zM189 573h1v1h-1zM190 573h1v1h-1zM191 572h1v1h-1zM192 572h1v1h-1zM193 572h1v1h-1zM194 572h1v1h-1zM195 571h1v1h-1zM196 571h1v1h-1zM197 571h1v1h-1zM198 571h1v1h-1zM199 570h1v1h-1zM200 570h1v1h-1zM201 570h1v1h-1zM202 570h1v1h-1zM203 569h1v1h-1zM204 569h1v1h-1zM205 568h1v1h-1zM206 568h1v1h-1zM207 567h1v1h-1zM208 566h1v1h-1zM209 567h1v1h-1zM210 568h1v1h-1zM211 569h1v1h-1zM212 570h1v1h-1zM213 570h1v1h-1zM214 571h1v1h-1zM215 571h1v1h-1zM216 572h1v1h-1zM217 572h1v1h-1zM218 572h1v1h-1zM219 572h1v1h-1zM220 572h1v1h-1zM221 573h1v1h-1zM222 574h1v1h-1zM223 575h1v1h-1zM224 576h1v1h-1zM225 577h1v1h-1zM226 577h1v1h-1zM227 578h1v1h-1zM228 579h1v1h-1zM229 578h1v1h-1zM230 576h1v2h-1zM231 575h1v1h-1zM232 574h1v1h-1zM233 573h1v1h-1zM234 573h1v1h-1zM235 572h1v1h-1zM236 571h1v1h-1zM237 571h1v1h-1zM238 572h1v1h-1zM239 572h1v1h-1zM240 573h1v1h-1zM241 574h1v1h-1zM242 574h1v1h-1zM243 575h1v1h-1zM244 575h1v2h-1zM245 573h1v2h-1zM246 570h1v3h-1zM247 568h1v2h-1zM248 566h1v2h-1zM249 567h1v2h-1zM250 569h1v1h-1zM251 570h1v2h-1zM252 572h1v1h-1zM253 571h1v1h-1zM254 570h1v1h-1zM255 569h1v1h-1zM256 568h1v1h-1zM257 568h1v1h-1zM258 568h1v1h-1zM259 568h1v1h-1zM260 568h1v1h-1zM261 569h1v1h-1zM262 569h1v1h-1zM263 570h1v1h-1zM264 571h1v1h-1zM265 571h1v1h-1zM266 572h1v1h-1zM267 572h1v1h-1zM268 573h1v1h-1zM269 573h1v1h-1zM270 573h1v1h-1zM271 573h1v1h-1zM272 573h1v1h-1zM273 573h1v1h-1zM274 573h1v1h-1zM275 574h1v1h-1zM276 574h1v1h-1zM277 574h1v1h-1zM278 574h1v1h-1zM279 573h1v1h-1zM280 573h1v1h-1zM281 573h1v1h-1zM282 573h1v1h-1zM283 572h1v1h-1zM284 572h1v1h-1zM285 572h1v1h-1zM286 571h1v1h-1zM287 571h1v1h-1zM288 570h1v1h-1zM289 570h1v1h-1zM290 570h1v1h-1zM291 569h1v1h-1zM292 569h1v1h-1zM293 569h1v1h-1zM294 569h1v1h-1zM295 569h1v1h-1zM296 569h1v1h-1zM297 569h1v1h-1zM298 568h1v1h-1zM299 568h1v1h-1zM300 567h1v1h-1zM301 568h1v2h-1zM302 570h1v1h-1zM303 571h1v2h-1zM304 573h1v2h-1zM305 575h1v4h-1zM306 579h1v4h-1zM307 583h1v4h-1zM308 587h1v2h-1zM309 588h1v1h-1zM310 588h1v1h-1zM311 589h1v1h-1zM312 589h1v1h-1zM313 589h1v1h-1zM314 589h1v1h-1zM315 590h1v1h-1zM316 590h1v1h-1zM317 589h1v1h-1zM318 589h1v1h-1zM319 588h1v1h-1zM320 587h1v1h-1zM321 586h1v1h-1zM322 584h1v2h-1zM323 583h1v1h-1zM324 582h1v1h-1zM325 581h1v1h-1zM326 581h1v1h-1zM327 580h1v1h-1zM328 579h1v1h-1zM329 578h1v1h-1zM330 578h1v1h-1zM331 577h1v1h-1zM332 576h1v1h-1zM333 575h1v1h-1zM334 575h1v1h-1zM335 574h1v1h-1zM336 573h1v1h-1zM337 573h1v1h-1zM338 573h1v1h-1zM339 572h1v1h-1zM340 572h1v1h-1zM341 572h1v1h-1zM342 571h1v1h-1zM343 571h1v1h-1zM344 570h1v1h-1zM345 571h1v1h-1zM346 572h1v2h-1zM347 574h1v1h-1zM348 575h1v1h-1zM349 576h1v1h-1zM350 577h1v2h-1zM351 579h1v1h-1zM352 580h1v1h-1zM353 581h1v2h-1zM354 583h1v1h-1zM355 584h1v2h-1zM356 586h1v1h-1zM357 586h1v1h-1zM358 587h1v1h-1zM359 587h1v1h-1zM360 588h1v1h-1zM361 588h1v1h-1zM362 588h1v1h-1zM363 587h1v1h-1zM364 587h1v1h-1zM365 587h1v1h-1zM366 587h1v1h-1zM367 586h1v1h-1zM368 585h1v2h-1zM369 583h1v2h-1zM370 580h1v3h-1zM371 578h1v2h-1zM372 576h1v2h-1zM373 576h1v1h-1zM374 576h1v1h-1zM375 575h1v1h-1zM376 575h1v1h-1zM377 574h1v1h-1zM378 573h1v1h-1zM379 572h1v1h-1zM380 571h1v1h-1zM381 570h1v1h-1zM382 570h1v1h-1zM383 569h1v1h-1zM384 568h1v1h-1zM385 568h1v1h-1zM386 568h1v1h-1zM387 567h1v1h-1zM388 567h1v1h-1zM389 568h1v2h-1zM390 570h1v1h-1zM391 571h1v2h-1zM392 573h1v1h-1zM393 573h1v1h-1zM394 573h1v1h-1zM395 574h1v1h-1zM396 574h1v2h-1zM397 576h1v2h-1zM398 578h1v2h-1zM399 580h1v2h-1zM400 582h1v1h-1zM401 582h1v1h-1zM402 583h1v1h-1zM403 583h1v1h-1zM404 584h1v1h-1zM405 584h1v1h-1zM406 583h1v1h-1zM407 583h1v1h-1zM408 582h1v1h-1zM409 582h1v1h-1zM410 582h1v1h-1zM411 581h1v1h-1zM412 581h1v1h-1zM413 582h1v1h-1zM414 582h1v1h-1zM415 583h1v1h-1zM416 584h1v1h-1zM417 583h1v1h-1zM418 582h1v1h-1zM419 581h1v1h-1zM420 580h1v1h-1zM421 579h1v1h-1zM422 578h1v1h-1zM423 577h1v1h-1zM424 576h1v1h-1zM425 576h1v1h-1zM426 577h1v1h-1zM427 577h1v1h-1zM428 577h1v2h-1zM429 575h1v2h-1zM430 573h1v2h-1zM431 571h1v2h-1zM432 570h1v1h-1zM433 570h1v1h-1zM434 569h1v1h-1zM435 569h1v1h-1zM436 568h1v1h-1zM437 568h1v1h-1zM438 568h1v1h-1zM439 568h1v1h-1zM440 568h1v1h-1zM441 568h1v1h-1zM442 567h1v1h-1zM443 567h1v1h-1zM444 566h1v1h-1zM445 566h1v1h-1zM446 566h1v1h-1zM447 566h1v1h-1zM448 566h1v1h-1zM449 566h1v1h-1zM450 566h1v1h-1zM451 566h1v1h-1zM452 566h1v1h-1zM453 566h1v1h-1zM454 566h1v1h-1zM455 565h1v1h-1zM456 565h1v1h-1zM457 565h1v1h-1zM458 565h1v1h-1zM459 565h1v1h-1zM460 565h1v2h-1zM461 567h1v4h-1zM462 571h1v4h-1zM463 575h1v4h-1zM464 579h1v3h-1zM465 582h1v2h-1zM466 584h1v2h-1zM467 586h1v2h-1zM468 588h1v2h-1zM469 588h1v1h-1zM470 587h1v1h-1zM471 586h1v1h-1zM472 585h1v1h-1zM473 585h1v1h-1zM474 585h1v1h-1zM475 586h1v1h-1zM476 586h1v1h-1zM477 585h1v1h-1zM478 583h1v2h-1zM479 582h1v1h-1zM480 581h1v1h-1zM481 581h1v1h-1zM482 581h1v1h-1zM483 581h1v1h-1zM484 581h1v1h-1zM485 582h1v1h-1zM486 582h1v1h-1zM487 583h1v1h-1zM488 584h1v1h-1zM489 585h1v1h-1zM490 586h1v1h-1zM491 587h1v1h-1zM492 588h1v1h-1zM493 588h1v1h-1zM494 588h1v1h-1zM495 587h1v1h-1zM496 587h1v1h-1zM497 587h1v1h-1zM498 587h1v1h-1zM499 586h1v1h-1zM500 586h1v1h-1zM501 587h1v1h-1zM502 588h1v2h-1zM503 590h1v1h-1zM504 591h1v1h-1zM505 590h1v1h-1zM506 590h1v1h-1zM507 589h1v1h-1zM508 588h1v1h-1zM509 588h1v1h-1zM510 588h1v1h-1zM511 589h1v1h-1zM512 589h1v1h-1zM513 590h1v1h-1zM514 591h1v2h-1zM515 593h1v1h-1zM516 594h1v1h-1zM517 593h1v1h-1zM518 592h1v1h-1zM519 591h1v1h-1zM520 590h1v1h-1zM521 591h1v1h-1zM522 591h1v1h-1zM523 592h1v1h-1zM524 593h1v1h-1zM525 591h1v2h-1zM526 590h1v1h-1zM527 588h1v2h-1zM528 587h1v1h-1zM529 587h1v1h-1zM530 586h1v1h-1zM531 586h1v1h-1zM532 585h1v1h-1zM533 585h1v1h-1zM534 585h1v1h-1zM535 585h1v1h-1zM536 585h1v1h-1zM537 586h1v1h-1zM538 586h1v1h-1zM539 587h1v1h-1zM540 588h1v1h-1zM541 588h1v1h-1zM542 588h1v1h-1zM543 589h1v1h-1zM544 589h1v1h-1zM545 588h1v1h-1zM546 587h1v1h-1zM547 586h1v1h-1zM548 585h1v1h-1zM549 586h1v2h-1zM550 588h1v2h-1zM551 590h1v2h-1zM552 592h1v1h-1zM553 593h1v1h-1zM554 593h1v1h-1zM555 594h1v1h-1zM556 595h1v1h-1zM557 596h1v1h-1zM558 596h1v1h-1zM559 597h1v1h-1zM560 598h1v1h-1zM561 598h1v1h-1zM562 598h1v1h-1zM563 599h1v1h-1zM564 599h1v1h-1zM565 599h1v1h-1zM566 599h1v1h-1zM567 600h1v1h-1zM568 600h1v1h-1zM569 599h1v1h-1zM570 598h1v1h-1zM571 597h1v1h-1zM572 596h1v1h-1zM573 595h1v1h-1zM574 595h1v1h-1zM575 594h1v1h-1zM576 593h1v1h-1zM577 592h1v1h-1zM578 591h1v1h-1zM579 590h1v1h-1zM580 589h1v1h-1zM581 590h1v1h-1zM582 591h1v1h-1zM583 592h1v1h-1zM584 593h1v1h-1zM585 591h1v2h-1zM586 590h1v1h-1zM587 588h1v2h-1zM588 587h1v1h-1zM589 587h1v1h-1zM590 588h1v1h-1zM591 588h1v1h-1zM592 589h1v1h-1zM593 588h1v1h-1zM594 586h1v2h-1zM595 585h1v1h-1zM596 584h1v1h-1zM597 584h1v1h-1zM598 584h1v1h-1zM599 583h1v1h-1zM600 583h1v1h-1zM601 583h1v1h-1zM602 583h1v1h-1zM603 584h1v1h-1zM604 584h1v1h-1zM605 584h1v1h-1zM606 585h1v1h-1zM607 585h1v1h-1zM608 586h1v1h-1zM609 587h1v1h-1zM610 588h1v1h-1zM611 589h1v1h-1zM612 590h1v1h-1zM613 591h1v1h-1zM614 591h1v1h-1zM615 592h1v1h-1zM616 593h1v1h-1zM617 593h1v1h-1zM618 593h1v1h-1zM619 594h1v1h-1zM620 594h1v1h-1zM621 592h1v2h-1zM622 590h1v2h-1zM623 588h1v2h-1zM624 587h1v1h-1zM625 587h1v1h-1zM626 587h1v1h-1zM627 587h1v1h-1zM628 587h1v1h-1zM629 586h1v1h-1zM630 585h1v1h-1zM631 584h1v1h-1zM632 583h1v1h-1zM633 584h1v1h-1zM634 584h1v1h-1zM635 585h1v1h-1zM636 586h1v1h-1zM637 585h1v1h-1zM638 583h1v2h-1zM639 582h1v1h-1zM640 581h1v1h-1zM641 581h1v1h-1zM642 582h1v1h-1zM643 582h1v1h-1zM644 583h1v1h-1zM645 582h1v1h-1zM646 582h1v1h-1zM647 581h1v1h-1zM648 580h1v1h-1zM649 580h1v1h-1zM650 580h1v1h-1zM651 580h1v1h-1zM652 580h1v1h-1zM653 580h1v1h-1zM654 581h1v1h-1zM655 581h1v1h-1zM656 581h1v2h-1zM657 579h1v2h-1zM658 577h1v2h-1zM659 575h1v2h-1zM660 574h1v1h-1zM661 574h1v1h-1zM662 573h1v1h-1zM663 573h1v1h-1zM664 572h1v2h-1zM665 574h1v3h-1zM666 577h1v2h-1zM667 579h1v3h-1zM668 582h1v2h-1zM669 584h1v1h-1zM670 585h1v2h-1zM671 587h1v1h-1zM672 588h1v1h-1zM673 588h1v1h-1zM674 588h1v1h-1zM675 589h1v1h-1zM676 589h1v1h-1zM677 588h1v1h-1zM678 586h1v2h-1zM679 585h1v1h-1zM680 584h1v1h-1zM681 582h1v2h-1zM682 581h1v1h-1zM683 579h1v2h-1zM684 578h1v1h-1zM685 577h1v1h-1zM686 576h1v1h-1zM687 575h1v1h-1zM688 574h1v1h-1zM689 574h1v1h-1zM690 573h1v1h-1zM691 573h1v1h-1zM692 572h1v1h-1zM693 572h1v1h-1zM694 571h1v1h-1zM695 571h1v1h-1zM696 570h1v1h-1zM697 570h1v1h-1zM698 570h1v1h-1zM699 569h1v1h-1zM700 569h1v1h-1zM701 569h1v1h-1zM702 569h1v1h-1zM703 569h1v1h-1zM704 569h1v1h-1zM705 569h1v1h-1zM706 569h1v1h-1zM707 569h1v1h-1zM708 569h1v1h-1zM709 569h1v1h-1zM710 569h1v1h-1zM711 570h1v1h-1zM712 570h1v1h-1zM713 569h1v1h-1zM714 569h1v1h-1zM715 568h1v1h-1zM716 567h1v1h-1zM717 566h1v1h-1zM718 565h1v1h-1zM719 564h1v1h-1zM720 563h1v1h-1zM721 563h1v1h-1zM722 563h1v1h-1zM723 563h1v1h-1zM724 563h1v1h-1zM725 563h1v1h-1zM726 563h1v1h-1zM727 563h1v1h-1zM728 563h1v1h-1zM729 563h1v1h-1zM730 563h1v1h-1zM731 563h1v1h-1zM732 563h1v1h-1zM733 563h1v1h-1zM734 562h1v1h-1zM735 562h1v1h-1zM736 561h1v1h-1zM737 561h1v1h-1zM738 562h1v1h-1zM739 562h1v1h-1zM740 563h1v2h-1zM741 565h1v3h-1zM742 568h1v2h-1zM743 570h1v3h-1zM744 573h1v2h-1zM745 574h1v1h-1zM746 574h1v1h-1zM747 575h1v1h-1zM748 575h1v1h-1zM749 575h1v1h-1zM750 575h1v1h-1zM751 575h1v1h-1zM752 575h1v1h-1zM753 576h1v1h-1zM754 576h1v1h-1zM755 577h1v1h-1zM756 578h1v1h-1zM757 578h1v1h-1zM758 577h1v1h-1zM759 577h1v1h-1zM760 576h1v2h-1zM761 578h1v3h-1zM762 581h1v4h-1zM763 585h1v3h-1zM764 588h1v2h-1zM765 589h1v1h-1zM766 590h1v1h-1zM767 590h1v1h-1zM768 591h1v1h-1zM769 592h1v1h-1zM770 592h1v1h-1zM771 593h1v1h-1zM772 594h1v1h-1zM773 595h1v2h-1zM774 597h1v1h-1zM775 598h1v2h-1zM776 600h1v1h-1zM777 601h1v1h-1zM778 601h1v1h-1zM779 602h1v1h-1zM780 603h1v1h-1zM781 603h1v1h-1zM782 603h1v1h-1zM783 603h1v1h-1zM784 603h1v1h-1zM785 604h1v1h-1zM786 604h1v1h-1zM787 605h1v1h-1zM788 606h1v1h-1zM789 607h1v1h-1zM790 608h1v1h-1zM791 609h1v1h-1zM792 610h1v1h-1zM793 610h1v1h-1zM794 610h1v1h-1zM795 611h1v1h-1zM796 611h1v1h-1zM797 611h1v1h-1zM798 612h1v1h-1zM799 612h1v1h-1zM800 613h1v1h-1zM801 611h1v2h-1zM802 610h1v1h-1zM803 608h1v2h-1zM804 606h1v2h-1zM805 604h1v2h-1zM806 602h1v2h-1zM807 600h1v2h-1zM808 597h1v3h-1zM809 593h1v4h-1zM810 588h1v5h-1zM811 584h1v4h-1zM812 581h1v3h-1zM813 581h1v1h-1zM814 581h1v1h-1zM815 581h1v1h-1zM816 581h1v1h-1zM817 581h1v1h-1zM818 581h1v1h-1zM819 580h1v1h-1zM820 580h1v1h-1zM821 581h1v2h-1zM822 583h1v1h-1zM823 584h1v2h-1zM824 585h1v2h-1zM825 582h1v3h-1zM826 578h1v4h-1zM827 575h1v3h-1zM828 573h1v2h-1zM829 572h1v1h-1zM830 570h1v2h-1zM831 569h1v1h-1zM832 568h1v1h-1zM833 567h1v1h-1zM834 565h1v2h-1zM835 564h1v1h-1zM836 563h1v1h-1zM837 563h1v1h-1zM838 563h1v1h-1zM839 562h1v1h-1zM840 562h1v1h-1zM841 562h1v1h-1zM842 562h1v1h-1zM843 561h1v1h-1zM844 561h1v1h-1zM845 562h1v2h-1zM846 564h1v1h-1zM847 565h1v2h-1zM848 567h1v1h-1zM849 567h1v1h-1zM850 567h1v1h-1zM851 568h1v1h-1zM852 568h1v1h-1zM853 568h1v1h-1zM854 569h1v1h-1zM855 569h1v1h-1zM856 570h1v2h-1zM857 572h1v2h-1zM858 574h1v2h-1zM859 576h1v2h-1zM860 578h1v2h-1zM861 580h1v1h-1zM862 581h1v2h-1zM863 583h1v1h-1zM864 584h1v1h-1zM865 584h1v1h-1zM866 584h1v1h-1zM867 585h1v1h-1zM868 585h1v1h-1zM869 584h1v1h-1zM870 582h1v2h-1zM871 581h1v1h-1zM872 580h1v1h-1zM873 580h1v1h-1zM874 580h1v1h-1zM875 579h1v1h-1zM876 579h1v1h-1zM877 578h1v1h-1zM878 578h1v1h-1zM879 577h1v1h-1zM880 576h1v1h-1zM881 575h1v1h-1zM882 575h1v1h-1zM883 574h1v1h-1zM884 573h1v1h-1zM885 572h1v1h-1zM886 572h1v1h-1zM887 571h1v1h-1zM888 570h1v1h-1zM889 570h1v1h-1zM890 571h1v1h-1zM891 571h1v1h-1zM892 572h1v1h-1zM893 572h1v1h-1zM894 572h1v1h-1zM895 571h1v1h-1zM896 571h1v1h-1zM897 572h1v1h-1zM898 573h1v2h-1zM899 575h1v1h-1zM900 576h1v1h-1zM901 576h1v1h-1zM902 576h1v1h-1zM903 576h1v1h-1zM904 576h1v1h-1zM905 577h1v1h-1zM906 577h1v1h-1zM907 578h1v1h-1zM908 579h1v1h-1zM909 579h1v1h-1zM910 579h1v1h-1zM911 580h1v1h-1zM912 580h1v1h-1zM913 580h1v1h-1zM914 580h1v1h-1zM915 580h1v1h-1zM916 580h1v1h-1zM917 580h1v1h-1zM918 579h1v1h-1zM919 579h1v1h-1zM920 578h1v1h-1zM921 579h1v1h-1zM922 580h1v2h-1zM923 582h1v1h-1zM924 583h1v1h-1zM925 582h1v1h-1zM926 581h1v1h-1zM927 580h1v1h-1zM928 579h1v1h-1zM929 578h1v1h-1zM930 578h1v1h-1zM931 577h1v1h-1zM932 576h1v1h-1zM933 576h1v1h-1zM934 577h1v1h-1zM935 577h1v1h-1zM936 578h1v1h-1zM937 578h1v1h-1zM938 578h1v1h-1zM939 577h1v1h-1zM940 577h1v1h-1zM941 577h1v1h-1zM942 577h1v1h-1zM943 578h1v1h-1zM944 578h1v1h-1zM945 578h1v1h-1zM946 577h1v1h-1zM947 577h1v1h-1zM948 576h1v1h-1zM949 576h1v1h-1zM950 575h1v1h-1zM951 575h1v1h-1zM952 574h1v1h-1zM953 574h1v1h-1zM954 573h1v1h-1zM955 573h1v1h-1zM956 572h1v1h-1zM957 572h1v1h-1zM958 571h1v1h-1zM959 571h1v1h-1zM960 570h1v1h-1zM961 570h1v1h-1zM962 570h1v1h-1zM963 570h1v1h-1zM964 570h1v1h-1zM965 570h1v1h-1zM966 570h1v1h-1zM967 570h1v1h-1zM968 570h1v1h-1zM969 570h1v1h-1zM970 571h1v1h-1zM971 571h1v1h-1zM972 572h1v1h-1zM973 572h1v1h-1zM974 572h1v1h-1zM975 571h1v1h-1zM976 571h1v2h-1zM977 573h1v2h-1zM978 575h1v3h-1zM979 578h1v2h-1zM980 580h1v2h-1zM981 582h1v2h-1zM982 584h1v1h-1zM983 585h1v2h-1zM984 587h1v1h-1zM985 587h1v1h-1zM986 586h1v1h-1zM987 586h1v1h-1zM988 585h1v1h-1zM989 584h1v1h-1zM990 584h1v1h-1zM991 583h1v1h-1zM992 581h1v2h-1zM993 579h1v2h-1zM994 577h1v2h-1zM995 575h1v2h-1zM996 574h1v1h-1zM997 574h1v1h-1zM998 573h1v1h-1zM999 573h1v1h-1zM1000 572h1v1h-1zM1001 572h1v1h-1zM1002 572h1v1h-1zM1003 572h1v1h-1zM1004 572h1v1h-1zM1005 573h1v1h-1zM1006 574h1v2h-1zM1007 576h1v1h-1zM1008 577h1v1h-1zM1009 577h1v1h-1zM1010 577h1v1h-1zM1011 576h1v1h-1zM1012 576h1v1h-1zM1013 576h1v1h-1zM1014 576h1v1h-1zM1015 575h1v1h-1zM1016 575h1v1h-1zM1017 576h1v1h-1zM1018 577h1v1h-1zM1019 578h1v1h-1zM1020 579h1v1h-1zM1021 579h1v1h-1zM1022 578h1v1h-1zM1023 578h1v1h-1zM1024 577h1v1h-1zM1025 576h1v1h-1zM1026 576h1v1h-1zM1027 575h1v1h-1zM1028 574h1v1h-1zM1029 574h1v1h-1zM1030 574h1v1h-1zM1031 574h1v1h-1zM1032 574h1v1h-1zM1033 574h1v1h-1zM1034 574h1v1h-1zM1035 575h1v1h-1zM1036 575h1v1h-1zM1037 575h1v1h-1zM1038 576h1v1h-1zM1039 576h1v1h-1zM1040 577h1v1h-1zM1041 577h1v1h-1zM1042 576h1v1h-1zM1043 576h1v1h-1zM1044 575h1v2h-1zM1045 577h1v2h-1zM1046 579h1v2h-1zM1047 581h1v2h-1zM1048 583h1v2h-1zM1049 582h1v2h-1zM1050 580h1v2h-1zM1051 578h1v2h-1zM1052 577h1v1h-1zM1053 577h1v1h-1zM1054 576h1v1h-1zM1055 576h1v1h-1zM1056 575h1v1h-1zM1057 575h1v1h-1zM1058 575h1v1h-1zM1059 575h1v1h-1zM1060 575h1v1h-1zM1061 575h1v1h-1zM1062 576h1v1h-1zM1063 576h1v1h-1zM1064 577h1v1h-1zM1065 578h1v1h-1zM1066 579h1v2h-1zM1067 581h1v1h-1zM1068 582h1v1h-1zM1069 581h1v1h-1zM1070 580h1v1h-1zM1071 579h1v1h-1zM1072 578h1v1h-1zM1073 579h1v2h-1zM1074 581h1v1h-1zM1075 582h1v2h-1zM1076 584h1v1h-1zM1077 584h1v1h-1zM1078 585h1v1h-1zM1079 585h1v1h-1zM1080 586h1v1h-1zM1081 586h1v1h-1zM1082 586h1v1h-1zM1083 586h1v1h-1zM1084 586h1v1h-1zM1085 586h1v1h-1zM1086 586h1v1h-1zM1087 586h1v1h-1zM1088 586h1v1h-1zM1089 586h1v1h-1zM1090 586h1v1h-1zM1091 585h1v1h-1zM1092 585h1v1h-1zM1093 585h1v1h-1zM1094 585h1v1h-1zM1095 586h1v1h-1zM1096 586h1v1h-1zM1097 587h1v1h-1zM1098 588h1v2h-1zM1099 590h1v1h-1zM1100 590h1v2h-1zM1101 588h1v2h-1zM1102 586h1v2h-1zM1103 584h1v2h-1zM1104 582h1v2h-1zM1105 582h1v1h-1zM1106 582h1v1h-1zM1107 583h1v1h-1zM1108 583h1v1h-1zM1109 584h1v1h-1zM1110 585h1v2h-1zM1111 587h1v1h-1zM1112 588h1v1h-1zM1113 589h1v2h-1zM1114 591h1v1h-1zM1115 592h1v2h-1zM1116 594h1v1h-1zM1117 595h1v1h-1zM1118 595h1v1h-1zM1119 596h1v1h-1zM1120 597h1v1h-1zM1121 598h1v1h-1zM1122 598h1v1h-1zM1123 599h1v1h-1zM1124 599h1v2h-1zM1125 595h1v4h-1zM1126 591h1v4h-1zM1127 587h1v4h-1zM1128 585h1v2h-1zM1129 584h1v1h-1zM1130 584h1v1h-1zM1131 583h1v1h-1zM1132 582h1v1h-1zM1133 583h1v1h-1zM1134 583h1v1h-1zM1135 584h1v1h-1zM1136 585h1v1h-1zM1137 585h1v1h-1zM1138 585h1v1h-1zM1139 586h1v1h-1zM1140 586h1v1h-1zM1141 586h1v1h-1zM1142 585h1v1h-1zM1143 585h1v1h-1zM1144 584h1v1h-1zM1145 584h1v1h-1zM1146 584h1v1h-1zM1147 585h1v1h-1zM1148 585h1v1h-1zM1149 584h1v1h-1zM1150 584h1v1h-1zM1151 583h1v1h-1zM1152 582h1v1h-1zM1153 582h1v1h-1zM1154 582h1v1h-1zM1155 583h1v1h-1zM1156 583h1v1h-1zM1157 584h1v1h-1zM1158 584h1v1h-1zM1159 585h1v1h-1zM1160 586h1v1h-1zM1161 587h1v1h-1zM1162 587h1v1h-1zM1163 588h1v1h-1zM1164 589h1v1h-1zM1165 588h1v1h-1zM1166 587h1v1h-1zM1167 586h1v1h-1zM1168 585h1v1h-1zM1169 585h1v1h-1zM1170 584h1v1h-1zM1171 584h1v1h-1zM1172 583h1v1h-1zM1173 583h1v1h-1zM1174 583h1v1h-1zM1175 584h1v1h-1zM1176 584h1v1h-1zM1177 584h1v1h-1zM1178 584h1v1h-1zM1179 585h1v1h-1zM1180 585h1v1h-1zM1181 584h1v1h-1zM1182 583h1v1h-1zM1183 582h1v1h-1zM1184 581h1v1h-1zM1185 582h1v1h-1zM1186 583h1v1h-1zM1187 584h1v1h-1zM1188 585h1v1h-1zM1189 585h1v1h-1zM1190 585h1v1h-1zM1191 586h1v1h-1zM1192 586h1v1h-1zM1193 586h1v1h-1zM1194 586h1v1h-1zM1195 586h1v1h-1zM1196 586h1v1h-1zM1197 586h1v1h-1zM1198 586h1v1h-1zM1199 586h1v1h-1zM1200 586h1v1h-1zM1201 586h1v1h-1zM1202 586h1v1h-1zM1203 586h1v1h-1zM1204 586h1v1h-1zM1205 587h1v1h-1zM1206 588h1v1h-1zM1207 589h1v1h-1zM1208 590h1v1h-1zM1209 590h1v1h-1zM1210 590h1v1h-1zM1211 591h1v1h-1zM1212 591h1v1h-1zM1213 591h1v1h-1zM1214 592h1v1h-1zM1215 592h1v1h-1zM1216 593h1v1h-1zM1217 593h1v1h-1zM1218 592h1v1h-1zM1219 592h1v1h-1zM1220 591h1v1h-1zM1221 591h1v1h-1zM1222 591h1v1h-1zM1223 591h1v1h-1zM1224 591h1v1h-1zM1225 590h1v1h-1zM1226 589h1v1h-1zM1227 588h1v1h-1zM1228 587h1v1h-1zM1229 587h1v1h-1zM1230 587h1v1h-1zM1231 587h1v1h-1zM1232 587h1v1h-1zM1233 588h1v1h-1zM1234 589h1v1h-1zM1235 590h1v1h-1zM1236 590h1v2h-1zM1237 587h1v3h-1zM1238 585h1v2h-1zM1239 582h1v3h-1zM1240 580h1v2h-1zM1241 580h1v1h-1zM1242 580h1v1h-1zM1243 581h1v1h-1zM1244 581h1v1h-1zM1245 582h1v2h-1zM1246 584h1v1h-1zM1247 585h1v2h-1zM1248 587h1v1h-1zM1249 587h1v1h-1zM1250 587h1v1h-1zM1251 588h1v1h-1zM1252 588h1v1h-1zM1253 588h1v1h-1zM1254 588h1v1h-1zM1255 587h1v1h-1zM1256 587h1v1h-1zM1257 588h1v1h-1zM1258 589h1v2h-1zM1259 591h1v1h-1zM1260 592h1v1h-1zM1261 593h1v1h-1zM1262 594h1v2h-1zM1263 596h1v1h-1zM1264 597h1v1h-1zM1265 597h1v1h-1zM1266 597h1v1h-1zM1267 596h1v1h-1z" fill="#1e90ff"/>
<rect x="1597" y="533" width="2" height="1" fill="#000"/>
<text x="1599.6" y="542" font-size="10" fill="#000" stroke="#000" stroke-width="0.15" textLength="15.3" lengthAdjust="spacingAndGlyphs">100</text>
<text x="1599.6" y="563" font-size="10" fill="#000" stroke="#000" stroke-width="0.15" textLength="10.2" lengthAdjust="spacingAndGlyphs">70</text>
<text x="1599.6" y="599" font-size="10" fill="#000" stroke="#000" stroke-width="0.15" textLength="10.2" lengthAdjust="spacingAndGlyphs">30</text>
<text x="1599.6" y="620" font-size="10" fill="#000" stroke="#000" stroke-width="0.15" textLength="5.1" lengthAdjust="spacingAndGlyphs">0</text>
<path d="M4 657h1v7h-1zM8 657h1v8h-1zM12 657h1v8h-1zM16 657h1v7h-1zM20 657h1v5h-1zM24 657h1v1h-1zM28 654h1v4h-1zM32 653h1v5h-1zM36 653h1v5h-1zM40 653h1v5h-1zM44 651h1v7h-1zM48 655h1v3h-1zM52 657h1v1h-1zM56 657h1v8h-1zM60 657h1v10h-1zM64 657h1v15h-1zM68 657h1v17h-1zM72 657h1v20h-1zM76 657h1v21h-1zM80 657h1v23h-1zM84 657h1v23h-1zM88 657h1v22h-1zM92 657h1v21h-1zM96 657h1v18h-1zM100 657h1v16h-1zM104 657h1v13h-1zM108 657h1v12h-1zM112 657h1v10h-1zM116 657h1v7h-1zM120 657h1v8h-1zM124 657h1v10h-1zM128 657h1v9h-1zM132 657h1v7h-1zM136 657h1v6h-1zM140 657h1v3h-1zM144 654h1v4h-1zM148 651h1v7h-1zM152 648h1v10h-1zM156 648h1v10h-1zM160 649h1v9h-1zM164 649h1v9h-1zM168 649h1v9h-1zM172 648h1v10h-1zM176 646h1v12h-1zM180 645h1v13h-1zM184 644h1v14h-1zM188 644h1v14h-1zM192 645h1v13h-1zM196 645h1v13h-1zM200 644h1v14h-1zM204 644h1v14h-1zM208 643h1v15h-1zM212 643h1v15h-1zM216 644h1v14h-1zM220 644h1v14h-1zM224 646h1v12h-1zM228 648h1v10h-1zM232 649h1v9h-1zM236 648h1v10h-1zM240 649h1v9h-1zM244 649h1v9h-1zM248 647h1v11h-1zM252 647h1v11h-1zM256 646h1v12h-1zM260 645h1v13h-1zM264 645h1v13h-1zM268 646h1v12h-1zM272 646h1v12h-1zM276 647h1v11h-1zM280 648h1v10h-1zM284 648h1v10h-1zM288 648h1v10h-1zM292 648h1v10h-1zM296 647h1v11h-1zM300 647h1v11h-1zM304 648h1v10h-1zM308 652h1v6h-1zM312 656h1v2h-1zM316 657h1v4h-1zM320 657h1v6h-1zM324 657h1v6h-1zM328 657h1v6h-1zM332 657h1v5h-1zM336 657h1v3h-1zM340 657h1v2h-1zM344 656h1v2h-1zM348 656h1v2h-1zM352 657h1v1h-1zM356 657h1v3h-1zM360 657h1v5h-1zM364 657h1v7h-1zM368 657h1v8h-1zM372 657h1v7h-1zM376 657h1v5h-1zM380 657h1v3h-1zM384 657h1v1h-1zM388 654h1v4h-1zM392 654h1v4h-1zM396 654h1v4h-1zM400 655h1v3h-1zM404 657h1v1h-1zM408 657h1v2h-1zM412 657h1v3h-1zM416 657h1v4h-1zM420 657h1v5h-1zM424 657h1v4h-1zM428 657h1v3h-1zM432 657h1v1h-1zM436 655h1v3h-1zM440 653h1v5h-1zM444 651h1v7h-1zM448 650h1v8h-1zM452 649h1v9h-1zM456 648h1v10h-1zM460 647h1v11h-1zM464 649h1v9h-1zM468 654h1v4h-1zM472 656h1v2h-1zM476 657h1v3h-1zM480 657h1v3h-1zM484 657h1v4h-1zM488 657h1v5h-1zM492 657h1v7h-1zM496 657h1v9h-1zM500 657h1v10h-1zM504 657h1v12h-1zM508 657h1v13h-1zM512 657h1v13h-1zM516 657h1v16h-1zM520 657h1v17h-1zM524 657h1v18h-1zM528 657h1v18h-1zM532 657h1v17h-1zM536 657h1v17h-1zM540 657h1v17h-1zM544 657h1v17h-1zM548 657h1v16h-1zM552 657h1v18h-1zM556 657h1v20h-1zM560 657h1v23h-1zM564 657h1v25h-1zM568 657h1v27h-1zM572 657h1v28h-1zM576 657h1v28h-1zM580 657h1v26h-1zM584 657h1v27h-1zM588 657h1v25h-1zM592 657h1v24h-1zM596 657h1v22h-1zM600 657h1v21h-1zM604 657h1v19h-1zM608 657h1v18h-1zM612 657h1v19h-1zM616 657h1v20h-1zM620 657h1v21h-1zM624 657h1v21h-1zM628 657h1v20h-1zM632 657h1v18h-1zM636 657h1v18h-1zM640 657h1v16h-1zM644 657h1v15h-1zM648 657h1v13h-1zM652 657h1v12h-1zM656 657h1v11h-1zM660 657h1v9h-1zM664 657h1v6h-1zM668 657h1v7h-1zM672 657h1v9h-1zM676 657h1v11h-1zM680 657h1v12h-1zM684 657h1v10h-1zM688 657h1v8h-1zM692 657h1v5h-1zM696 657h1v2h-1zM700 656h1v2h-1zM704 654h1v4h-1zM708 652h1v6h-1zM712 651h1v7h-1zM716 650h1v8h-1zM720 648h1v10h-1zM724 646h1v12h-1zM728 645h1v13h-1zM732 644h1v14h-1zM736 643h1v15h-1zM740 642h1v16h-1zM744 644h1v14h-1zM748 645h1v13h-1zM752 647h1v11h-1zM756 649h1v9h-1zM760 650h1v8h-1zM764 654h1v4h-1zM768 657h1v1h-1zM772 657h1v6h-1zM776 657h1v11h-1zM780 657h1v17h-1zM784 657h1v22h-1zM788 657h1v27h-1zM792 657h1v36h-1zM796 657h1v43h-1zM800 657h1v51h-1zM804 657h1v55h-1zM808 657h1v56h-1zM812 657h1v50h-1zM816 657h1v44h-1zM820 657h1v38h-1zM824 657h1v37h-1zM828 657h1v29h-1zM832 657h1v18h-1zM836 657h1v5h-1zM840 650h1v8h-1zM844 640h1v18h-1zM848 635h1v23h-1zM852 633h1v25h-1zM856 632h1v26h-1zM860 637h1v21h-1zM864 645h1v13h-1zM868 652h1v6h-1zM872 655h1v3h-1zM876 657h1v1h-1zM880 656h1v2h-1zM884 653h1v5h-1zM888 649h1v9h-1zM892 647h1v11h-1zM896 644h1v14h-1zM900 645h1v13h-1zM904 646h1v12h-1zM908 649h1v9h-1zM912 652h1v6h-1zM916 654h1v4h-1zM920 655h1v3h-1zM924 657h1v2h-1zM928 657h1v3h-1zM932 657h1v2h-1zM936 657h1v2h-1zM940 657h1v2h-1zM944 657h1v2h-1zM948 657h1v1h-1zM952 656h1v2h-1zM956 654h1v4h-1zM960 651h1v7h-1zM964 650h1v8h-1zM968 648h1v10h-1zM972 648h1v10h-1zM976 647h1v11h-1zM980 650h1v8h-1zM984 655h1v3h-1zM988 657h1v3h-1zM992 657h1v4h-1zM996 657h1v2h-1zM1000 656h1v2h-1zM1004 654h1v4h-1zM1008 654h1v4h-1zM1012 654h1v4h-1zM1016 654h1v4h-1zM1020 655h1v3h-1zM1024 655h1v3h-1zM1028 654h1v4h-1zM1032 654h1v4h-1zM1036 653h1v5h-1zM1040 654h1v4h-1zM1044 654h1v4h-1zM1048 657h1v1h-1zM1052 657h1v1h-1zM1056 656h1v2h-1zM1060 655h1v3h-1zM1064 655h1v3h-1zM1068 657h1v1h-1zM1072 657h1v1h-1zM1076 657h1v4h-1zM1080 657h1v7h-1zM1084 657h1v9h-1zM1088 657h1v11h-1zM1092 657h1v12h-1zM1096 657h1v13h-1zM1100 657h1v15h-1zM1104 657h1v15h-1zM1108 657h1v14h-1zM1112 657h1v16h-1zM1116 657h1v20h-1zM1120 657h1v25h-1zM1124 657h1v31h-1zM1128 657h1v30h-1zM1132 657h1v28h-1zM1136 657h1v28h-1zM1140 657h1v28h-1zM1144 657h1v27h-1zM1148 657h1v26h-1zM1152 657h1v24h-1zM1156 657h1v23h-1zM1160 657h1v23h-1zM1164 657h1v24h-1zM1168 657h1v24h-1zM1172 657h1v23h-1zM1176 657h1v22h-1zM1180 657h1v21h-1zM1184 657h1v19h-1zM1188 657h1v19h-1zM1192 657h1v19h-1zM1196 657h1v19h-1zM1200 657h1v19h-1zM1204 657h1v18h-1zM1208 657h1v19h-1zM1212 657h1v20h-1zM1216 657h1v22h-1zM1220 657h1v22h-1zM1224 657h1v22h-1zM1228 657h1v21h-1zM1232 657h1v21h-1zM1236 657h1v21h-1zM1240 657h1v19h-1zM1244 657h1v17h-1zM1248 657h1v17h-1zM1252 657h1v17h-1zM1256 657h1v17h-1zM1260 657h1v19h-1zM1264 657h1v22h-1zM1268 657h1v24h-1z" fill="#c0c0c0"/>
<path d="M4 661h1v1h-1zM5 661h1v1h-1zM6 661h1v1h-1zM10 662h1v1h-1zM11 662h1v1h-1zM12 662h1v1h-1zM16 662h1v1h-1zM17 662h1v1h-1zM18 662h1v1h-1zM22 662h1v1h-1zM23 662h1v1h-1zM24 662h1v1h-1zM28 661h1v1h-1zM29 661h1v1h-1zM30 661h1v1h-1zM34 660h1v1h-1zM35 659h1v1h-1zM36 659h1v1h-1zM40 658h1v1h-1zM41 658h1v1h-1zM42 657h1v1h-1zM46 656h1v1h-1zM47 655h1v1h-1zM48 655h1v1h-1zM52 654h1v1h-1zM53 654h1v1h-1zM54 654h1v1h-1zM58 655h1v1h-1zM59 656h1v1h-1zM60 656h1v1h-1zM64 658h1v1h-1zM65 658h1v1h-1zM66 659h1v1h-1zM70 661h1v1h-1zM71 661h1v1h-1zM72 662h1v1h-1zM76 665h1v1h-1zM77 666h1v1h-1zM78 666h1v1h-1zM82 669h1v1h-1zM83 670h1v1h-1zM84 671h1v1h-1zM88 673h1v1h-1zM89 673h1v1h-1zM90 674h1v1h-1zM94 675h1v1h-1zM95 675h1v1h-1zM96 675h1v1h-1zM100 676h1v1h-1zM101 676h1v1h-1zM102 676h1v1h-1zM106 675h1v1h-1zM107 674h1v1h-1zM108 674h1v1h-1zM112 673h1v1h-1zM113 673h1v1h-1zM114 672h1v1h-1zM118 671h1v1h-1zM119 670h1v1h-1zM120 670h1v1h-1zM124 668h1v1h-1zM125 668h1v1h-1zM126 668h1v1h-1zM130 667h1v1h-1zM131 666h1v1h-1zM132 666h1v1h-1zM136 665h1v1h-1zM137 665h1v1h-1zM138 664h1v1h-1zM142 663h1v1h-1zM143 662h1v1h-1zM144 662h1v1h-1zM148 660h1v1h-1zM149 660h1v1h-1zM150 660h1v1h-1zM154 658h1v1h-1zM155 658h1v1h-1zM156 657h1v1h-1zM160 655h1v1h-1zM161 655h1v1h-1zM162 654h1v1h-1zM166 653h1v1h-1zM167 652h1v1h-1zM168 652h1v1h-1zM172 650h1v1h-1zM173 650h1v1h-1zM174 650h1v1h-1zM178 649h1v1h-1zM179 648h1v1h-1zM180 648h1v1h-1zM184 647h1v1h-1zM185 647h1v1h-1zM186 647h1v1h-1zM190 646h1v1h-1zM191 646h1v1h-1zM192 646h1v1h-1zM196 646h1v1h-1zM197 646h1v1h-1zM198 646h1v1h-1zM202 645h1v1h-1zM203 645h1v1h-1zM204 645h1v1h-1zM208 644h1v1h-1zM209 644h1v1h-1zM210 644h1v1h-1zM214 644h1v1h-1zM215 643h1v1h-1zM216 643h1v1h-1zM220 643h1v1h-1zM221 643h1v1h-1zM222 643h1v1h-1zM226 644h1v1h-1zM227 644h1v1h-1zM228 644h1v1h-1zM232 644h1v1h-1zM233 644h1v1h-1zM234 644h1v1h-1zM238 645h1v1h-1zM239 645h1v1h-1zM240 645h1v1h-1zM244 646h1v1h-1zM245 646h1v1h-1zM246 646h1v1h-1zM250 647h1v1h-1zM251 647h1v1h-1zM252 647h1v1h-1zM256 647h1v1h-1zM257 647h1v1h-1zM258 647h1v1h-1zM262 647h1v1h-1zM263 647h1v1h-1zM264 647h1v1h-1zM268 646h1v1h-1zM269 646h1v1h-1zM270 646h1v1h-1zM274 646h1v1h-1zM275 646h1v1h-1zM276 646h1v1h-1zM280 646h1v1h-1zM281 646h1v1h-1zM282 646h1v1h-1zM286 646h1v1h-1zM287 646h1v1h-1zM288 646h1v1h-1zM292 646h1v1h-1zM293 646h1v1h-1zM294 646h1v1h-1zM298 646h1v1h-1zM299 647h1v1h-1zM300 647h1v1h-1zM304 647h1v1h-1zM305 647h1v1h-1zM306 647h1v1h-1zM310 648h1v1h-1zM311 649h1v1h-1zM312 649h1v1h-1zM316 650h1v1h-1zM317 650h1v1h-1zM318 650h1v1h-1zM322 652h1v1h-1zM323 652h1v1h-1zM324 653h1v1h-1zM328 655h1v1h-1zM329 655h1v1h-1zM330 655h1v1h-1zM334 656h1v1h-1zM335 657h1v1h-1zM336 657h1v1h-1zM340 659h1v1h-1zM341 659h1v1h-1zM342 659h1v1h-1zM346 659h1v1h-1zM347 659h1v1h-1zM348 659h1v1h-1zM352 659h1v1h-1zM353 659h1v1h-1zM354 659h1v1h-1zM358 658h1v1h-1zM359 658h1v1h-1zM360 658h1v1h-1zM364 658h1v1h-1zM365 658h1v1h-1zM366 658h1v1h-1zM370 659h1v1h-1zM371 659h1v1h-1zM372 659h1v1h-1zM376 660h1v1h-1zM377 660h1v1h-1zM378 660h1v1h-1zM382 660h1v1h-1zM383 660h1v1h-1zM384 660h1v1h-1zM388 660h1v1h-1zM389 660h1v1h-1zM390 660h1v1h-1zM394 659h1v1h-1zM395 658h1v1h-1zM396 658h1v1h-1zM400 657h1v1h-1zM401 657h1v1h-1zM402 657h1v1h-1zM406 657h1v1h-1zM407 656h1v1h-1zM408 656h1v1h-1zM412 656h1v1h-1zM413 656h1v1h-1zM414 656h1v1h-1zM418 656h1v1h-1zM419 656h1v1h-1zM420 656h1v1h-1zM424 657h1v1h-1zM425 657h1v1h-1zM426 657h1v1h-1zM430 658h1v1h-1zM431 658h1v1h-1zM432 658h1v1h-1zM436 658h1v1h-1zM437 658h1v1h-1zM438 658h1v1h-1zM442 658h1v1h-1zM443 657h1v1h-1zM444 657h1v1h-1zM448 656h1v1h-1zM449 656h1v1h-1zM450 655h1v1h-1zM454 654h1v1h-1zM455 653h1v1h-1zM456 653h1v1h-1zM460 652h1v1h-1zM461 652h1v1h-1zM462 652h1v1h-1zM466 651h1v1h-1zM467 650h1v1h-1zM468 650h1v1h-1zM472 650h1v1h-1zM473 650h1v1h-1zM474 650h1v1h-1zM478 651h1v1h-1zM479 652h1v1h-1zM480 652h1v1h-1zM484 653h1v1h-1zM485 653h1v1h-1zM486 653h1v1h-1zM490 655h1v1h-1zM491 655h1v1h-1zM492 656h1v1h-1zM496 658h1v1h-1zM497 658h1v1h-1zM498 659h1v1h-1zM502 660h1v1h-1zM503 661h1v1h-1zM504 661h1v1h-1zM508 663h1v1h-1zM509 663h1v1h-1zM510 663h1v1h-1zM514 664h1v1h-1zM515 665h1v1h-1zM516 665h1v1h-1zM520 667h1v1h-1zM521 667h1v1h-1zM522 667h1v1h-1zM526 668h1v1h-1zM527 669h1v1h-1zM528 669h1v1h-1zM532 670h1v1h-1zM533 670h1v1h-1zM534 670h1v1h-1zM538 671h1v1h-1zM539 672h1v1h-1zM540 672h1v1h-1zM544 672h1v1h-1zM545 672h1v1h-1zM546 672h1v1h-1zM550 673h1v1h-1zM551 673h1v1h-1zM552 673h1v1h-1zM556 673h1v1h-1zM557 673h1v1h-1zM558 673h1v1h-1zM562 674h1v1h-1zM563 674h1v1h-1zM564 674h1v1h-1zM568 676h1v1h-1zM569 676h1v1h-1zM570 676h1v1h-1zM574 677h1v1h-1zM575 678h1v1h-1zM576 678h1v1h-1zM580 679h1v1h-1zM581 679h1v1h-1zM582 679h1v1h-1zM586 680h1v1h-1zM587 681h1v1h-1zM588 681h1v1h-1zM592 682h1v1h-1zM593 682h1v1h-1zM594 682h1v1h-1zM598 682h1v1h-1zM599 681h1v1h-1zM600 681h1v1h-1zM604 680h1v1h-1zM605 680h1v1h-1zM606 680h1v1h-1zM610 679h1v1h-1zM611 678h1v1h-1zM612 678h1v1h-1zM616 677h1v1h-1zM617 677h1v1h-1zM618 677h1v1h-1zM622 677h1v1h-1zM623 676h1v1h-1zM624 676h1v1h-1zM628 676h1v1h-1zM629 676h1v1h-1zM630 676h1v1h-1zM634 675h1v1h-1zM635 675h1v1h-1zM636 675h1v1h-1zM640 674h1v1h-1zM641 674h1v1h-1zM642 674h1v1h-1zM646 674h1v1h-1zM647 674h1v1h-1zM648 674h1v1h-1zM652 673h1v1h-1zM653 673h1v1h-1zM654 673h1v1h-1zM658 671h1v1h-1zM659 671h1v1h-1zM660 670h1v1h-1zM664 669h1v1h-1zM665 669h1v1h-1zM666 668h1v1h-1zM670 667h1v1h-1zM671 667h1v1h-1zM672 667h1v1h-1zM676 666h1v1h-1zM677 666h1v1h-1zM678 666h1v1h-1zM682 666h1v1h-1zM683 665h1v1h-1zM684 665h1v1h-1zM688 665h1v1h-1zM689 665h1v1h-1zM690 665h1v1h-1zM694 664h1v1h-1zM695 663h1v1h-1zM696 663h1v1h-1zM700 663h1v1h-1zM701 663h1v1h-1zM702 663h1v1h-1zM706 661h1v1h-1zM707 661h1v1h-1zM708 660h1v1h-1zM712 658h1v1h-1zM713 658h1v1h-1zM714 657h1v1h-1zM718 655h1v1h-1zM719 655h1v1h-1zM720 654h1v1h-1zM724 652h1v1h-1zM725 652h1v1h-1zM726 652h1v1h-1zM730 650h1v1h-1zM731 650h1v1h-1zM732 649h1v1h-1zM736 648h1v1h-1zM737 648h1v1h-1zM738 647h1v1h-1zM742 646h1v1h-1zM743 645h1v1h-1zM744 645h1v1h-1zM748 645h1v1h-1zM749 645h1v1h-1zM750 645h1v1h-1zM754 644h1v1h-1zM755 644h1v1h-1zM756 644h1v1h-1zM760 645h1v1h-1zM761 645h1v1h-1zM762 645h1v1h-1zM766 646h1v1h-1zM767 647h1v1h-1zM768 647h1v1h-1zM772 649h1v1h-1zM773 650h1v1h-1zM774 650h1v1h-1zM778 653h1v1h-1zM779 654h1v1h-1zM780 655h1v1h-1zM784 659h1v1h-1zM785 660h1v1h-1zM786 661h1v1h-1zM790 665h1v2h-1zM791 667h1v1h-1zM794 671h1v1h-1zM795 672h1v1h-1zM796 673h1v1h-1zM799 677h1v2h-1zM800 679h1v1h-1zM803 683h1v2h-1zM804 685h1v1h-1zM807 689h1v2h-1zM808 691h1v1h-1zM812 695h1v1h-1zM813 696h1v1h-1zM814 696h1v1h-1zM818 699h1v1h-1zM819 699h1v1h-1zM820 700h1v1h-1zM824 701h1v1h-1zM825 701h1v1h-1zM826 701h1v1h-1zM830 699h1v1h-1zM831 698h1v1h-1zM832 697h1v1h-1zM835 693h1v1h-1zM836 692h1v1h-1zM837 691h1v1h-1zM839 686h1v2h-1zM840 685h1v1h-1zM842 680h1v2h-1zM843 679h1v1h-1zM845 675h1v1h-1zM846 673h1v2h-1zM848 669h1v1h-1zM849 667h1v2h-1zM851 663h1v1h-1zM852 662h1v1h-1zM853 661h1v1h-1zM855 656h1v2h-1zM856 655h1v1h-1zM859 650h1v2h-1zM860 649h1v1h-1zM864 645h1v1h-1zM865 644h1v1h-1zM866 644h1v1h-1zM870 642h1v1h-1zM871 642h1v1h-1zM872 642h1v1h-1zM876 642h1v1h-1zM877 642h1v1h-1zM878 643h1v1h-1zM882 645h1v1h-1zM883 645h1v1h-1zM884 646h1v1h-1zM888 648h1v1h-1zM889 648h1v1h-1zM890 649h1v1h-1zM894 650h1v1h-1zM895 650h1v1h-1zM896 650h1v1h-1zM900 650h1v1h-1zM901 650h1v1h-1zM902 650h1v1h-1zM906 650h1v1h-1zM907 649h1v1h-1zM908 649h1v1h-1zM912 648h1v1h-1zM913 648h1v1h-1zM914 648h1v1h-1zM918 648h1v1h-1zM919 648h1v1h-1zM920 648h1v1h-1zM924 649h1v1h-1zM925 649h1v1h-1zM926 650h1v1h-1zM930 651h1v1h-1zM931 652h1v1h-1zM932 652h1v1h-1zM936 654h1v1h-1zM937 654h1v1h-1zM938 654h1v1h-1zM942 655h1v1h-1zM943 656h1v1h-1zM944 656h1v1h-1zM948 657h1v1h-1zM949 657h1v1h-1zM950 657h1v1h-1zM954 657h1v1h-1zM955 657h1v1h-1zM956 657h1v1h-1zM960 656h1v1h-1zM961 656h1v1h-1zM962 656h1v1h-1zM966 655h1v1h-1zM967 654h1v1h-1zM968 654h1v1h-1zM972 653h1v1h-1zM973 653h1v1h-1zM974 653h1v1h-1zM978 652h1v1h-1zM979 651h1v1h-1zM980 651h1v1h-1zM984 651h1v1h-1zM985 651h1v1h-1zM986 651h1v1h-1zM990 651h1v1h-1zM991 652h1v1h-1zM992 652h1v1h-1zM996 652h1v1h-1zM997 652h1v1h-1zM998 652h1v1h-1zM1002 653h1v1h-1zM1003 654h1v1h-1zM1004 654h1v1h-1zM1008 654h1v1h-1zM1009 654h1v1h-1zM1010 654h1v1h-1zM1014 655h1v1h-1zM1015 656h1v1h-1zM1016 656h1v1h-1zM1020 655h1v1h-1zM1021 655h1v1h-1zM1022 655h1v1h-1zM1026 655h1v1h-1zM1027 654h1v1h-1zM1028 654h1v1h-1zM1032 654h1v1h-1zM1033 654h1v1h-1zM1034 654h1v1h-1zM1038 654h1v1h-1zM1039 654h1v1h-1zM1040 654h1v1h-1zM1044 654h1v1h-1zM1045 654h1v1h-1zM1046 654h1v1h-1zM1050 654h1v1h-1zM1051 654h1v1h-1zM1052 654h1v1h-1zM1056 654h1v1h-1zM1057 654h1v1h-1zM1058 654h1v1h-1zM1062 654h1v1h-1zM1063 654h1v1h-1zM1064 654h1v1h-1zM1068 655h1v1h-1zM1069 655h1v1h-1zM1070 655h1v1h-1zM1074 655h1v1h-1zM1075 656h1v1h-1zM1076 656h1v1h-1zM1080 657h1v1h-1zM1081 657h1v1h-1zM1082 657h1v1h-1zM1086 658h1v1h-1zM1087 659h1v1h-1zM1088 659h1v1h-1zM1092 660h1v1h-1zM1093 660h1v1h-1zM1094 661h1v1h-1zM1098 663h1v1h-1zM1099 663h1v1h-1zM1100 664h1v1h-1zM1104 665h1v1h-1zM1105 665h1v1h-1zM1106 665h1v1h-1zM1110 667h1v1h-1zM1111 667h1v1h-1zM1112 668h1v1h-1zM1116 669h1v1h-1zM1117 669h1v1h-1zM1118 670h1v1h-1zM1122 672h1v1h-1zM1123 672h1v1h-1zM1124 673h1v1h-1zM1128 676h1v1h-1zM1129 676h1v1h-1zM1130 676h1v1h-1zM1134 678h1v1h-1zM1135 678h1v1h-1zM1136 679h1v1h-1zM1140 680h1v1h-1zM1141 680h1v1h-1zM1142 680h1v1h-1zM1146 682h1v1h-1zM1147 682h1v1h-1zM1148 683h1v1h-1zM1152 683h1v1h-1zM1153 683h1v1h-1zM1154 683h1v1h-1zM1158 683h1v1h-1zM1159 682h1v1h-1zM1160 682h1v1h-1zM1164 681h1v1h-1zM1165 681h1v1h-1zM1166 681h1v1h-1zM1170 681h1v1h-1zM1171 680h1v1h-1zM1172 680h1v1h-1zM1176 679h1v1h-1zM1177 679h1v1h-1zM1178 679h1v1h-1zM1182 679h1v1h-1zM1183 678h1v1h-1zM1184 678h1v1h-1zM1188 678h1v1h-1zM1189 678h1v1h-1zM1190 678h1v1h-1zM1194 677h1v1h-1zM1195 677h1v1h-1zM1196 677h1v1h-1zM1200 676h1v1h-1zM1201 676h1v1h-1zM1202 676h1v1h-1zM1206 675h1v1h-1zM1207 675h1v1h-1zM1208 675h1v1h-1zM1212 675h1v1h-1zM1213 675h1v1h-1zM1214 675h1v1h-1zM1218 675h1v1h-1zM1219 675h1v1h-1zM1220 675h1v1h-1zM1224 676h1v1h-1zM1225 676h1v1h-1zM1226 676h1v1h-1zM1230 676h1v1h-1zM1231 676h1v1h-1zM1232 676h1v1h-1zM1236 676h1v1h-1zM1237 676h1v1h-1zM1238 676h1v1h-1zM1242 676h1v1h-1zM1243 676h1v1h-1zM1244 676h1v1h-1zM1248 676h1v1h-1zM1249 676h1v1h-1zM1250 676h1v1h-1zM1254 675h1v1h-1zM1255 675h1v1h-1zM1256 675h1v1h-1zM1260 674h1v1h-1zM1261 674h1v1h-1zM1262 674h1v1h-1zM1266 674h1v1h-1zM1267 675h1v1h-1z" fill="#ff0000"/>
<rect x="1597" y="657" width="2" height="1" fill="#000"/>
<text x="1599.6" y="637" font-size="10" fill="#000" stroke="#000" stroke-width="0.15" textLength="32.4" lengthAdjust="spacingAndGlyphs">0.00581</text>
<text x="1599.6" y="661" font-size="10" fill="#000" stroke="#000" stroke-width="0.15" textLength="18.8" lengthAdjust="spacingAndGlyphs">0.00</text>
<text x="1599.6" y="714" font-size="10" fill="#000" stroke="#000" stroke-width="0.15" textLength="32" lengthAdjust="spacingAndGlyphs">-0.0115</text>
<rect x="4" y="718" width="1" height="2" fill="#000"/>
<text x="3.0" y="730" font-size="10" fill="#000" stroke="#000" stroke-width="0.15" textLength="47.9" lengthAdjust="spacingAndGlyphs">20 Jul 2019</text>
<rect x="68" y="718" width="1" height="2" fill="#000"/>
<text x="67.0" y="730" font-size="10" fill="#000" stroke="#000" stroke-width="0.15" textLength="48.9" lengthAdjust="spacingAndGlyphs">8 Aug 2019</text>
<rect x="132" y="718" width="1" height="2" fill="#000"/>
<text x="131.0" y="730" font-size="10" fill="#000" stroke="#000" stroke-width="0.15" textLength="53.4" lengthAdjust="spacingAndGlyphs">27 Aug 2019</text>
<rect x="196" y="718" width="1" height="2" fill="#000"/>
<text x="195.0" y="730" font-size="10" fill="#000" stroke="#000" stroke-width="0.15" textLength="52.4" lengthAdjust="spacingAndGlyphs">14 Sep 2019</text>
<rect x="260" y="718" width="1" height="2" fill="#000"/>
<text x="259.0" y="730" font-size="10" fill="#000" stroke="#000" stroke-width="0.15" textLength="46.6" lengthAdjust="spacingAndGlyphs">3 Oct 2019</text>
<rect x="324" y="718" width="1" height="2" fill="#000"/>
<text x="323.0" y="730" font-size="10" fill="#000" stroke="#000" stroke-width="0.15" textLength="51.4" lengthAdjust="spacingAndGlyphs">22 Oct 2019</text>
<rect x="388" y="718" width="1" height="2" fill="#000"/>
<text x="387.0" y="730" font-size="10" fill="#000" stroke="#000" stroke-width="0.15" textLength="49.4" lengthAdjust="spacingAndGlyphs">9 Nov 2019</text>
<rect x="452" y="718" width="1" height="2" fill="#000"/>
<text x="451.0" y="730" font-size="10" fill="#000" stroke="#000" stroke-width="0.15" textLength="54.4" lengthAdjust="spacingAndGlyphs">28 Nov 2019</text>
<rect x="516" y="718" width="1" height="2" fill="#000"/>
<text x="515.0" y="730" font-size="10" fill="#000" stroke="#000" stroke-width="0.15" textLength="52.4" lengthAdjust="spacingAndGlyphs">17 Dec 2019</text>
<rect x="580" y="718" width="1" height="2" fill="#000"/>
<text x="579.0" y="730" font-size="10" fill="#000" stroke="#000" stroke-width="0.15" textLength="44.9" lengthAdjust="spacingAndGlyphs">4 Jan 2020</text>
<rect x="644" y="718" width="1" height="2" fill="#000"/>
<text x="643.0" y="730" font-size="10" fill="#000" stroke="#000" stroke-width="0.15" textLength="49.9" lengthAdjust="spacingAndGlyphs">23 Jan 2020</text>
<rect x="708" y="718" width="1" height="2" fill="#000"/>
<text x="707.0" y="730" font-size="10" fill="#000" stroke="#000" stroke-width="0.15" textLength="51.9" lengthAdjust="spacingAndGlyphs">11 Feb 2020</text>
<rect x="772" y="718" width="1" height="2" fill="#000"/>
<text x="771.0" y="730" font-size="10" fill="#000" stroke="#000" stroke-width="0.15" textLength="52.4" lengthAdjust="spacingAndGlyphs">29 Feb 2020</text>
<rect x="836" y="718" width="1" height="2" fill="#000"/>
<text x="835.0" y="730" font-size="10" fill="#000" stroke="#000" stroke-width="0.15" textLength="52.7" lengthAdjust="spacingAndGlyphs">19 Mar 2020</text>
<rect x="900" y="718" width="1" height="2" fill="#000"/>
<text x="899.0" y="730" font-size="10" fill="#000" stroke="#000" stroke-width="0.15" textLength="46.5" lengthAdjust="spacingAndGlyphs">7 Apr 2020</text>
<rect x="964" y="718" width="1" height="2" fill="#000"/>
<text x="963.0" y="730" font-size="10" fill="#000" stroke="#000" stroke-width="0.15" textLength="51.8" lengthAdjust="spacingAndGlyphs">25 Apr 2020</text>
<rect x="1028" y="718" width="1" height="2" fill="#000"/>
<text x="1027.0" y="730" font-size="10" fill="#000" stroke="#000" stroke-width="0.15" textLength="55.3" lengthAdjust="spacingAndGlyphs">14 May 2020</text>
<rect x="1092" y="718" width="1" height="2" fill="#000"/>
<text x="1091.0" y="730" font-size="10" fill="#000" stroke="#000" stroke-width="0.15" textLength="45.9" lengthAdjust="spacingAndGlyphs">2 Jun 2020</text>
<rect x="1156" y="718" width="1" height="2" fill="#000"/>
<text x="1155.0" y="730" font-size="10" fill="#000" stroke="#000" stroke-width="0.15" textLength="50.3" lengthAdjust="spacingAndGlyphs">20 Jun 2020</text>
<rect x="1220" y="718" width="1" height="2" fill="#000"/>
<text x="1219.0" y="730" font-size="10" fill="#000" stroke="#000" stroke-width="0.15" textLength="42.1" lengthAdjust="spacingAndGlyphs">9 Jul 2020</text>
<rect x="0" y="738" width="1632" height="1" fill="#dcdcdc"/>
<rect x="0" y="741" width="1632" height="21" fill="#f0f0f0"/>
<rect x="0" y="760" width="1632" height="1" fill="#fafafa"/>
<rect x="0" y="740" width="1632" height="1" fill="#000"/>
<rect x="0" y="741" width="1" height="18" fill="#696969"/>
<rect x="109" y="739" width="100" height="20" fill="#fff"/>
<rect x="109" y="740" width="1" height="19" fill="#000"/>
<rect x="208" y="740" width="1" height="19" fill="#000"/>
<rect x="109" y="758" width="100" height="1" fill="#000"/>
<text x="16.8" y="754.5" font-size="12" fill="#6e6e6e" stroke="#6e6e6e" stroke-width="0.15" textLength="80.8" lengthAdjust="spacingAndGlyphs">EURUSD,Daily</text>
<text x="119.1" y="754.5" font-size="12" fill="#000" stroke="#000" stroke-width="0.15" textLength="79.3" lengthAdjust="spacingAndGlyphs">USDCHF,Daily</text>
<text x="219.2" y="754.5" font-size="12" fill="#6e6e6e" stroke="#6e6e6e" stroke-width="0.15" textLength="83.4" lengthAdjust="spacingAndGlyphs">AUDUSD,Daily</text>
<text x="323.3" y="754.5" font-size="12" fill="#6e6e6e" stroke="#6e6e6e" stroke-width="0.15" textLength="82.3" lengthAdjust="spacingAndGlyphs">USDCAD,Daily</text>
<text x="426.6" y="754.5" font-size="12" fill="#6e6e6e" stroke="#6e6e6e" stroke-width="0.15" textLength="83.7" lengthAdjust="spacingAndGlyphs">USDCNH,Daily</text>
<text x="531.6" y="754.5" font-size="12" fill="#6e6e6e" stroke="#6e6e6e" stroke-width="0.15" textLength="78.4" lengthAdjust="spacingAndGlyphs">EURUSD,M15</text>
<text x="631.0" y="754.5" font-size="12" fill="#6e6e6e" stroke="#6e6e6e" stroke-width="0.15" textLength="79.6" lengthAdjust="spacingAndGlyphs">GBPUSD,M30</text>
<text x="731.6" y="754.5" font-size="12" fill="#6e6e6e" stroke="#6e6e6e" stroke-width="0.15" textLength="82.0" lengthAdjust="spacingAndGlyphs">XAUUSD,Daily</text>
<text x="835.4" y="754.5" font-size="12" fill="#6e6e6e" stroke="#6e6e6e" stroke-width="0.15" textLength="50.5" lengthAdjust="spacingAndGlyphs">HK50,H1</text>
<text x="907.4" y="754.5" font-size="12" fill="#6e6e6e" stroke="#6e6e6e" stroke-width="0.15" textLength="57.9" lengthAdjust="spacingAndGlyphs">UK100,H1</text>
<text x="987.4" y="754.5" font-size="12" fill="#6e6e6e" stroke="#6e6e6e" stroke-width="0.15" textLength="57.9" lengthAdjust="spacingAndGlyphs">UK100,H1</text>
<text x="1067.5" y="754.5" font-size="12" fill="#6e6e6e" stroke="#6e6e6e" stroke-width="0.15" textLength="57.6" lengthAdjust="spacingAndGlyphs">GER30,H1</text>
<text x="1146.6" y="754.5" font-size="12" fill="#6e6e6e" stroke="#6e6e6e" stroke-width="0.15" textLength="55.4" lengthAdjust="spacingAndGlyphs">FRA40,H1</text>
<text x="1222.7" y="754.5" font-size="12" fill="#6e6e6e" stroke="#6e6e6e" stroke-width="0.15" textLength="63.8" lengthAdjust="spacingAndGlyphs">USOil,Daily</text>
<text x="1306.5" y="754.5" font-size="12" fill="#6e6e6e" stroke="#6e6e6e" stroke-width="0.15" textLength="63.4" lengthAdjust="spacingAndGlyphs">USDJPY,H1</text>
<text x="1391.4" y="754.5" font-size="12" fill="#6e6e6e" stroke="#6e6e6e" stroke-width="0.15" textLength="58.0" lengthAdjust="spacingAndGlyphs">DJ30,M15</text>
<text x="1470.5" y="754.5" font-size="12" fill="#6e6e6e" stroke="#6e6e6e" stroke-width="0.15" textLength="79.7" lengthAdjust="spacingAndGlyphs">CHINA300,H4</text>
<rect x="313" y="743" width="1" height="15" fill="#505050"/>
<rect x="417" y="743" width="1" height="15" fill="#505050"/>
<rect x="522" y="743" width="1" height="15" fill="#505050"/>
<rect x="621" y="743" width="1" height="15" fill="#505050"/>
<rect x="721" y="743" width="1" height="15" fill="#505050"/>
<rect x="825" y="743" width="1" height="15" fill="#505050"/>
<rect x="897" y="743" width="1" height="15" fill="#505050"/>
<rect x="977" y="743" width="1" height="15" fill="#505050"/>
<rect x="1057" y="743" width="1" height="15" fill="#505050"/>
<rect x="1137" y="743" width="1" height="15" fill="#505050"/>
<rect x="1213" y="743" width="1" height="15" fill="#505050"/>
<rect x="1297" y="743" width="1" height="15" fill="#505050"/>
<rect x="1381" y="743" width="1" height="15" fill="#505050"/>
<rect x="1461" y="743" width="1" height="15" fill="#505050"/>
<rect x="1561" y="743" width="1" height="15" fill="#505050"/>
<path d="M1615.5 746v6.5l-4-3.25z" fill="#808080" shape-rendering="geometricPrecision"/>
<rect x="1631" y="746" width="1" height="7" fill="#a0a0a0"/>
</svg>
</body></html>
